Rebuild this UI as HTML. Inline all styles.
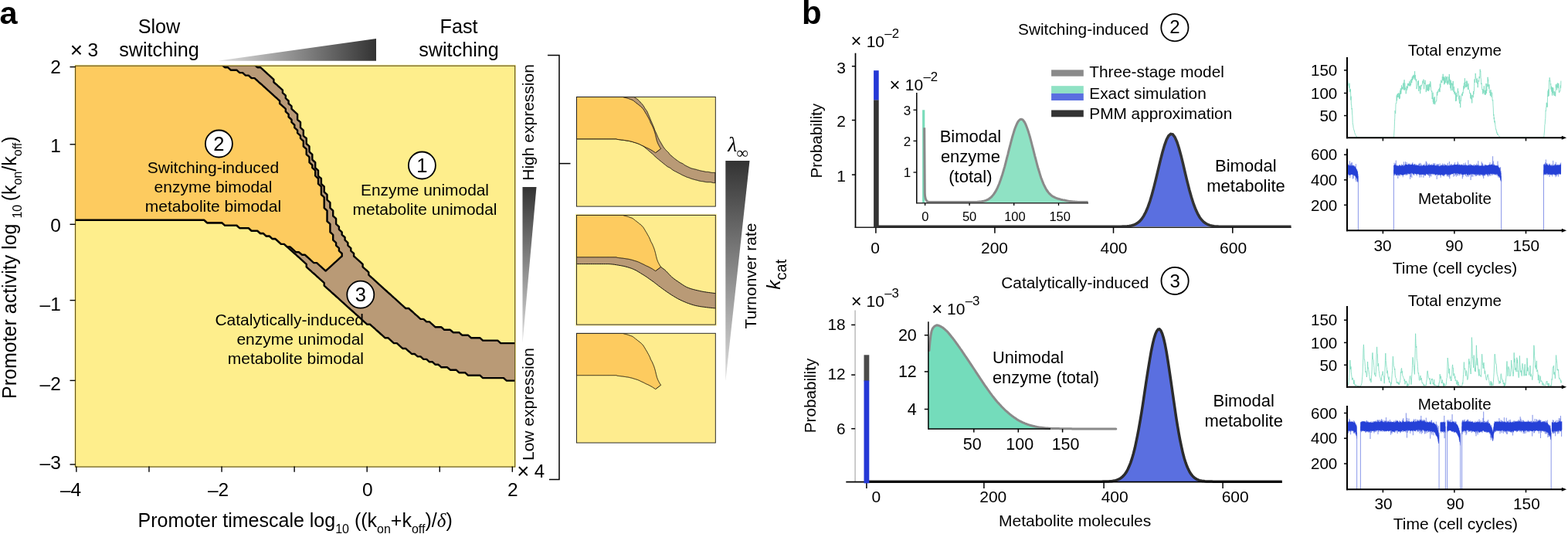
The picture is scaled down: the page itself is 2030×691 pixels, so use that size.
<!DOCTYPE html>
<html lang="en"><head><meta charset="utf-8"><title>Figure</title>
<style>html,body{margin:0;padding:0;background:#fff;}body{width:2030px;height:691px;overflow:hidden;}svg{display:block;}</style>
</head><body>
<svg width="2030" height="691" viewBox="0 0 2030 691" font-family='"Liberation Sans", sans-serif' fill="#000">
<defs><clipPath id="cpA"><rect x="97.6" y="85.2" width="569.1" height="518.9"/></clipPath></defs>
<rect x="96.39999999999999" y="83.8" width="571.6" height="521.1" fill="#fff2a0"/>
<rect x="97.6" y="85.2" width="569.1" height="518.9" fill="#feee8c"/>
<g clip-path="url(#cpA)">
<path d="M698.1,492.6 L694.3,492.6 L690.4,492.6 L686.6,492.6 L682.7,492.6 L678.9,492.6 L675.1,492.6 L671.2,492.6 L667.4,492.6 L663.5,492.6 L659.7,492.6 L655.9,492.6 L653.9,490.9 L652.0,489.1 L648.2,489.1 L644.3,489.1 L640.5,489.1 L636.7,489.1 L632.8,489.1 L629.0,489.1 L625.1,489.1 L623.2,487.4 L621.3,485.7 L617.5,485.7 L613.6,485.7 L609.8,485.7 L605.9,485.7 L604.0,483.9 L602.1,482.2 L598.3,482.2 L594.4,482.2 L592.5,480.5 L590.6,478.7 L586.7,478.7 L582.9,478.7 L581.0,477.0 L579.1,475.3 L575.2,475.3 L571.4,475.3 L569.5,473.5 L567.5,471.8 L563.7,471.8 L561.8,470.1 L559.9,468.3 L556.0,468.3 L554.1,466.6 L552.2,464.9 L548.3,464.9 L546.4,463.2 L544.5,461.4 L540.7,461.4 L538.7,459.7 L536.8,458.0 L533.0,458.0 L531.1,456.2 L529.1,454.5 L527.2,452.8 L525.3,451.0 L521.5,451.0 L519.5,449.3 L517.6,447.6 L515.7,445.8 L513.8,444.1 L509.9,444.1 L508.0,442.4 L506.1,440.6 L504.2,438.9 L502.3,437.2 L498.4,437.2 L496.5,435.4 L494.6,433.7 L492.7,432.0 L490.7,430.2 L488.8,428.5 L486.9,426.8 L485.0,425.0 L483.1,423.3 L481.1,421.6 L479.2,419.8 L475.4,419.8 L473.5,418.1 L471.5,416.4 L469.6,414.6 L467.7,412.9 L465.8,411.2 L463.9,409.4 L461.9,407.7 L460.0,406.0 L458.1,404.2 L456.2,402.5 L454.3,400.8 L452.3,399.0 L450.4,397.3 L448.5,395.6 L446.6,393.9 L444.7,392.1 L442.7,390.4 L440.8,388.7 L438.9,386.9 L437.0,385.2 L435.1,383.5 L433.1,381.7 L431.2,380.0 L429.3,378.3 L427.4,376.5 L425.5,374.8 L423.5,373.1 L421.6,371.3 L419.7,369.6 L419.7,366.1 L417.8,364.4 L415.9,362.7 L413.9,360.9 L412.0,359.2 L410.1,357.5 L408.2,355.7 L406.3,354.0 L404.3,352.3 L402.4,350.5 L400.5,348.8 L398.6,347.1 L396.7,345.3 L396.7,341.9 L394.7,340.1 L392.8,338.4 L390.9,336.7 L389.0,334.9 L387.1,333.2 L385.1,331.5 L383.2,329.7 L381.3,328.0 L379.4,326.3 L377.5,324.6 L375.5,322.8 L373.6,321.1 L371.7,319.4 L369.8,317.6 L367.9,315.9 L364.0,315.9 L362.1,314.2 L360.2,312.4 L358.3,310.7 L356.3,309.0 L352.5,309.0 L350.6,307.2 L348.7,305.5 L344.8,305.5 L342.9,303.8 L341.0,302.0 L337.1,302.0 L335.2,300.3 L333.3,298.6 L329.5,298.6 L325.6,298.6 L323.7,296.8 L321.8,295.1 L317.9,295.1 L314.1,295.1 L310.3,295.1 L308.3,293.4 L306.4,291.6 L302.6,291.6 L298.7,291.6 L294.9,291.6 L291.1,291.6 L289.1,289.9 L287.2,288.2 L283.4,288.2 L279.5,288.2 L275.7,288.2 L271.9,288.2 L268.0,288.2 L266.1,286.4 L264.2,284.7 L260.3,284.7 L256.5,284.7 L252.7,284.7 L248.8,284.7 L245.0,284.7 L241.1,284.7 L237.3,284.7 L233.5,284.7 L229.6,284.7 L225.8,284.7 L221.9,284.7 L218.1,284.7 L214.3,284.7 L210.4,284.7 L206.6,284.7 L202.7,284.7 L198.9,284.7 L195.1,284.7 L191.2,284.7 L187.4,284.7 L183.5,284.7 L179.7,284.7 L175.9,284.7 L172.0,284.7 L168.2,284.7 L164.3,284.7 L160.5,284.7 L156.7,284.7 L152.8,284.7 L149.0,284.7 L145.1,284.7 L141.3,284.7 L137.5,284.7 L133.6,284.7 L129.8,284.7 L125.9,284.7 L122.1,284.7 L118.3,284.7 L114.4,284.7 L110.6,284.7 L106.7,284.7 L102.9,284.7 L99.1,284.7 L95.2,284.7 L91.4,284.7 L87.5,284.7 L83.7,284.7 L79.9,284.7 L76.0,284.7 L72.2,284.7 L70.3,283.0 L70.3,279.5 L70.3,276.0 L70.3,272.6 L70.3,269.1 L70.3,265.6 L70.3,262.2 L70.3,258.7 L70.3,255.3 L70.3,251.8 L70.3,248.3 L70.3,244.9 L70.3,241.4 L70.3,237.9 L70.3,234.5 L70.3,231.0 L70.3,227.5 L70.3,224.1 L70.3,220.6 L70.3,217.1 L70.3,213.7 L70.3,210.2 L70.3,206.7 L70.3,203.3 L70.3,199.8 L70.3,196.3 L70.3,192.9 L70.3,189.4 L70.3,186.0 L70.3,182.5 L70.3,179.0 L70.3,175.6 L70.3,172.1 L70.3,168.6 L70.3,165.2 L70.3,161.7 L70.3,158.2 L70.3,154.8 L70.3,151.3 L70.3,147.8 L70.3,144.4 L70.3,140.9 L70.3,137.4 L70.3,134.0 L70.3,130.5 L70.3,127.0 L70.3,123.6 L70.3,120.1 L70.3,116.7 L70.3,113.2 L70.3,109.7 L70.3,106.3 L70.3,102.8 L70.3,99.3 L70.3,95.9 L70.3,92.4 L70.3,88.9 L70.3,85.5 L70.3,82.0 L70.3,78.5 L70.3,75.1 L70.3,71.6 L72.2,69.9 L76.0,69.9 L79.9,69.9 L83.7,69.9 L87.5,69.9 L91.4,69.9 L95.2,69.9 L99.1,69.9 L102.9,69.9 L106.7,69.9 L110.6,69.9 L114.4,69.9 L118.3,69.9 L122.1,69.9 L125.9,69.9 L129.8,69.9 L133.6,69.9 L137.5,69.9 L141.3,69.9 L145.1,69.9 L149.0,69.9 L152.8,69.9 L156.7,69.9 L160.5,69.9 L164.3,69.9 L168.2,69.9 L172.0,69.9 L175.9,69.9 L179.7,69.9 L183.5,69.9 L187.4,69.9 L191.2,69.9 L195.1,69.9 L198.9,69.9 L202.7,69.9 L206.6,69.9 L210.4,69.9 L214.3,69.9 L218.1,69.9 L221.9,69.9 L225.8,69.9 L229.6,69.9 L233.5,69.9 L237.3,69.9 L241.1,69.9 L245.0,69.9 L248.8,69.9 L252.7,69.9 L256.5,69.9 L260.3,69.9 L264.2,69.9 L268.0,69.9 L271.9,69.9 L275.7,69.9 L279.5,69.9 L283.4,69.9 L287.2,69.9 L291.1,69.9 L294.9,69.9 L298.7,69.9 L302.6,69.9 L306.4,69.9 L310.3,69.9 L314.1,69.9 L317.9,69.9 L319.9,71.6 L321.8,73.3 L323.7,75.1 L323.7,78.5 L325.6,80.3 L327.5,82.0 L329.5,83.7 L331.4,85.5 L333.3,87.2 L337.1,87.2 L339.1,88.9 L341.0,90.7 L342.9,92.4 L344.8,94.1 L346.7,95.9 L348.7,97.6 L350.6,99.3 L352.5,101.1 L354.4,102.8 L354.4,106.3 L356.3,108.0 L358.3,109.7 L360.2,111.5 L362.1,113.2 L364.0,114.9 L365.9,116.7 L365.9,120.1 L367.9,121.8 L369.8,123.6 L369.8,127.0 L371.7,128.8 L373.6,130.5 L373.6,134.0 L375.5,135.7 L377.5,137.4 L377.5,140.9 L379.4,142.6 L381.3,144.4 L383.2,146.1 L385.1,147.8 L385.1,151.3 L385.1,154.8 L387.1,156.5 L389.0,158.2 L389.0,161.7 L389.0,165.2 L390.9,166.9 L392.8,168.6 L392.8,172.1 L392.8,175.6 L394.7,177.3 L396.7,179.0 L396.7,182.5 L396.7,186.0 L398.6,187.7 L400.5,189.4 L400.5,192.9 L400.5,196.3 L402.4,198.1 L404.3,199.8 L404.3,203.3 L404.3,206.7 L406.3,208.5 L408.2,210.2 L408.2,213.7 L408.2,217.1 L410.1,218.9 L412.0,220.6 L412.0,224.1 L412.0,227.5 L413.9,229.3 L415.9,231.0 L415.9,234.5 L415.9,237.9 L417.8,239.7 L419.7,241.4 L419.7,244.9 L419.7,248.3 L421.6,250.1 L423.5,251.8 L423.5,255.3 L423.5,258.7 L425.5,260.4 L427.4,262.2 L427.4,265.6 L427.4,269.1 L429.3,270.8 L431.2,272.6 L431.2,276.0 L431.2,279.5 L433.1,281.2 L435.1,283.0 L435.1,286.4 L435.1,289.9 L437.0,291.6 L438.9,293.4 L438.9,296.8 L440.8,298.6 L442.7,300.3 L442.7,303.8 L444.7,305.5 L446.6,307.2 L446.6,310.7 L448.5,312.4 L450.4,314.2 L450.4,317.6 L452.3,319.4 L454.3,321.1 L454.3,324.6 L456.2,326.3 L458.1,328.0 L458.1,331.5 L460.0,333.2 L461.9,334.9 L463.9,336.7 L465.8,338.4 L467.7,340.1 L469.6,341.9 L469.6,345.3 L471.5,347.1 L473.5,348.8 L475.4,350.5 L477.3,352.3 L477.3,355.7 L479.2,357.5 L481.1,359.2 L483.1,360.9 L485.0,362.7 L486.9,364.4 L488.8,366.1 L490.7,367.9 L492.7,369.6 L494.6,371.3 L496.5,373.1 L498.4,374.8 L500.3,376.5 L502.3,378.3 L504.2,380.0 L506.1,381.7 L508.0,383.5 L509.9,385.2 L511.9,386.9 L513.8,388.7 L515.7,390.4 L517.6,392.1 L519.5,393.9 L521.5,395.6 L523.4,397.3 L525.3,399.0 L529.1,399.0 L531.1,400.8 L533.0,402.5 L534.9,404.2 L536.8,406.0 L538.7,407.7 L540.7,409.4 L542.6,411.2 L544.5,412.9 L548.3,412.9 L550.3,414.6 L552.2,416.4 L556.0,416.4 L557.9,418.1 L559.9,419.8 L561.8,421.6 L563.7,423.3 L567.5,423.3 L571.4,423.3 L573.3,425.0 L575.2,426.8 L579.1,426.8 L582.9,426.8 L584.8,428.5 L586.7,430.2 L590.6,430.2 L594.4,430.2 L596.3,432.0 L598.3,433.7 L602.1,433.7 L605.9,433.7 L607.9,435.4 L609.8,437.2 L613.6,437.2 L617.5,437.2 L621.3,437.2 L623.2,438.9 L625.1,440.6 L629.0,440.6 L632.8,440.6 L636.7,440.6 L640.5,440.6 L644.3,440.6 L646.3,442.4 L648.2,444.1 L652.0,444.1 L655.9,444.1 L659.7,444.1 L663.5,444.1 L667.4,444.1 L671.2,444.1 L675.1,444.1 L678.9,444.1 L682.7,444.1 L686.6,444.1 L690.4,444.1 L694.3,444.1 L698.1,444.1 L700.0,445.8 L700.0,449.3 L700.0,452.8 L700.0,456.2 L700.0,459.7 L700.0,463.2 L700.0,466.6 L700.0,470.1 L700.0,473.5 L700.0,477.0 L700.0,480.5 L700.0,483.9 L700.0,487.4 L700.0,490.9 L698.1,492.6Z " fill="#b99a76" stroke="#000" stroke-width="2.4" stroke-linejoin="round"/>
<path d="M421.6,350.5 L419.7,348.8 L417.8,347.1 L415.9,345.3 L413.9,343.6 L412.0,341.9 L410.1,340.1 L406.3,340.1 L404.3,338.4 L402.4,336.7 L400.5,334.9 L398.6,333.2 L396.7,331.5 L394.7,329.7 L390.9,329.7 L389.0,328.0 L387.1,326.3 L383.2,326.3 L381.3,324.6 L379.4,322.8 L377.5,321.1 L375.5,319.4 L371.7,319.4 L369.8,317.6 L367.9,315.9 L364.0,315.9 L362.1,314.2 L360.2,312.4 L358.3,310.7 L356.3,309.0 L352.5,309.0 L350.6,307.2 L348.7,305.5 L344.8,305.5 L342.9,303.8 L341.0,302.0 L337.1,302.0 L335.2,300.3 L333.3,298.6 L329.5,298.6 L325.6,298.6 L323.7,296.8 L321.8,295.1 L317.9,295.1 L314.1,295.1 L310.3,295.1 L308.3,293.4 L306.4,291.6 L302.6,291.6 L298.7,291.6 L294.9,291.6 L291.1,291.6 L289.1,289.9 L287.2,288.2 L283.4,288.2 L279.5,288.2 L275.7,288.2 L271.9,288.2 L268.0,288.2 L266.1,286.4 L264.2,284.7 L260.3,284.7 L256.5,284.7 L252.7,284.7 L248.8,284.7 L245.0,284.7 L241.1,284.7 L237.3,284.7 L233.5,284.7 L229.6,284.7 L225.8,284.7 L221.9,284.7 L218.1,284.7 L214.3,284.7 L210.4,284.7 L206.6,284.7 L202.7,284.7 L198.9,284.7 L195.1,284.7 L191.2,284.7 L187.4,284.7 L183.5,284.7 L179.7,284.7 L175.9,284.7 L172.0,284.7 L168.2,284.7 L164.3,284.7 L160.5,284.7 L156.7,284.7 L152.8,284.7 L149.0,284.7 L145.1,284.7 L141.3,284.7 L137.5,284.7 L133.6,284.7 L129.8,284.7 L125.9,284.7 L122.1,284.7 L118.3,284.7 L114.4,284.7 L110.6,284.7 L106.7,284.7 L102.9,284.7 L99.1,284.7 L95.2,284.7 L91.4,284.7 L87.5,284.7 L83.7,284.7 L79.9,284.7 L76.0,284.7 L72.2,284.7 L70.3,283.0 L70.3,279.5 L70.3,276.0 L70.3,272.6 L70.3,269.1 L70.3,265.6 L70.3,262.2 L70.3,258.7 L70.3,255.3 L70.3,251.8 L70.3,248.3 L70.3,244.9 L70.3,241.4 L70.3,237.9 L70.3,234.5 L70.3,231.0 L70.3,227.5 L70.3,224.1 L70.3,220.6 L70.3,217.1 L70.3,213.7 L70.3,210.2 L70.3,206.7 L70.3,203.3 L70.3,199.8 L70.3,196.3 L70.3,192.9 L70.3,189.4 L70.3,186.0 L70.3,182.5 L70.3,179.0 L70.3,175.6 L70.3,172.1 L70.3,168.6 L70.3,165.2 L70.3,161.7 L70.3,158.2 L70.3,154.8 L70.3,151.3 L70.3,147.8 L70.3,144.4 L70.3,140.9 L70.3,137.4 L70.3,134.0 L70.3,130.5 L70.3,127.0 L70.3,123.6 L70.3,120.1 L70.3,116.7 L70.3,113.2 L70.3,109.7 L70.3,106.3 L70.3,102.8 L70.3,99.3 L70.3,95.9 L70.3,92.4 L70.3,88.9 L70.3,85.5 L70.3,82.0 L70.3,78.5 L70.3,75.1 L70.3,71.6 L72.2,69.9 L76.0,69.9 L79.9,69.9 L83.7,69.9 L87.5,69.9 L91.4,69.9 L95.2,69.9 L99.1,69.9 L102.9,69.9 L106.7,69.9 L110.6,69.9 L114.4,69.9 L118.3,69.9 L122.1,69.9 L125.9,69.9 L129.8,69.9 L133.6,69.9 L137.5,69.9 L141.3,69.9 L145.1,69.9 L149.0,69.9 L152.8,69.9 L156.7,69.9 L160.5,69.9 L164.3,69.9 L168.2,69.9 L172.0,69.9 L175.9,69.9 L179.7,69.9 L183.5,69.9 L187.4,69.9 L191.2,69.9 L195.1,69.9 L198.9,69.9 L202.7,69.9 L206.6,69.9 L210.4,69.9 L214.3,69.9 L218.1,69.9 L221.9,69.9 L225.8,69.9 L229.6,69.9 L233.5,69.9 L237.3,69.9 L241.1,69.9 L245.0,69.9 L248.8,69.9 L252.7,69.9 L256.5,69.9 L258.4,71.6 L260.3,73.3 L264.2,73.3 L266.1,75.1 L268.0,76.8 L271.9,76.8 L273.8,78.5 L275.7,80.3 L279.5,80.3 L281.5,82.0 L283.4,83.7 L287.2,83.7 L289.1,85.5 L291.1,87.2 L294.9,87.2 L296.8,88.9 L298.7,90.7 L302.6,90.7 L306.4,90.7 L308.3,92.4 L310.3,94.1 L314.1,94.1 L316.0,95.9 L317.9,97.6 L321.8,97.6 L323.7,99.3 L325.6,101.1 L329.5,101.1 L331.4,102.8 L333.3,104.5 L335.2,106.3 L337.1,108.0 L339.1,109.7 L341.0,111.5 L342.9,113.2 L344.8,114.9 L346.7,116.7 L348.7,118.4 L350.6,120.1 L352.5,121.8 L354.4,123.6 L356.3,125.3 L358.3,127.0 L360.2,128.8 L362.1,130.5 L362.1,134.0 L364.0,135.7 L365.9,137.4 L367.9,139.2 L369.8,140.9 L369.8,144.4 L371.7,146.1 L373.6,147.8 L373.6,151.3 L375.5,153.0 L377.5,154.8 L377.5,158.2 L379.4,160.0 L381.3,161.7 L381.3,165.2 L383.2,166.9 L385.1,168.6 L385.1,172.1 L387.1,173.8 L389.0,175.6 L389.0,179.0 L390.9,180.8 L392.8,182.5 L392.8,186.0 L392.8,189.4 L394.7,191.1 L396.7,192.9 L396.7,196.3 L396.7,199.8 L398.6,201.5 L400.5,203.3 L400.5,206.7 L400.5,210.2 L402.4,211.9 L404.3,213.7 L404.3,217.1 L406.3,218.9 L408.2,220.6 L408.2,224.1 L408.2,227.5 L410.1,229.3 L412.0,231.0 L412.0,234.5 L412.0,237.9 L413.9,239.7 L415.9,241.4 L415.9,244.9 L415.9,248.3 L415.9,251.8 L417.8,253.5 L419.7,255.3 L419.7,258.7 L419.7,262.2 L419.7,265.6 L419.7,269.1 L421.6,270.8 L423.5,272.6 L423.5,276.0 L423.5,279.5 L423.5,283.0 L423.5,286.4 L425.5,288.2 L427.4,289.9 L427.4,293.4 L427.4,296.8 L427.4,300.3 L429.3,302.0 L431.2,303.8 L431.2,307.2 L431.2,310.7 L433.1,312.4 L435.1,314.2 L435.1,317.6 L437.0,319.4 L438.9,321.1 L438.9,324.6 L440.8,326.3 L442.7,328.0 L442.7,331.5 L440.8,333.2 L438.9,334.9 L437.0,336.7 L435.1,338.4 L433.1,340.1 L431.2,341.9 L429.3,343.6 L427.4,345.3 L425.5,347.1 L423.5,348.8 L421.6,350.5Z " fill="#fdcb5f" stroke="#000" stroke-width="2.4" stroke-linejoin="round"/>
</g>
<rect x="97.6" y="85.2" width="569.1" height="518.9" fill="none" stroke="#5a4c18" stroke-width="1.1"/>
<line x1="90.5" y1="86.6" x2="97.6" y2="86.6" stroke="#000" stroke-width="1.4"/>
<text x="78.8" y="95" font-size="24.5" text-anchor="end">2</text>
<line x1="90.5" y1="186.8" x2="97.6" y2="186.8" stroke="#000" stroke-width="1.4"/>
<text x="78.8" y="197.1" font-size="24.5" text-anchor="end">1</text>
<line x1="90.5" y1="290.3" x2="97.6" y2="290.3" stroke="#000" stroke-width="1.4"/>
<text x="78.8" y="300.1" font-size="24.5" text-anchor="end">0</text>
<line x1="90.5" y1="388.6" x2="97.6" y2="388.6" stroke="#000" stroke-width="1.4"/>
<text x="78.8" y="402.1" font-size="24.5" text-anchor="end">–1</text>
<line x1="90.5" y1="492.4" x2="97.6" y2="492.4" stroke="#000" stroke-width="1.4"/>
<text x="78.8" y="504.8" font-size="24.5" text-anchor="end">–2</text>
<line x1="90.5" y1="601" x2="97.6" y2="601" stroke="#000" stroke-width="1.4"/>
<text x="78.8" y="607.3" font-size="24.5" text-anchor="end">–3</text>
<line x1="98.9" y1="603.6" x2="98.9" y2="610.8" stroke="#000" stroke-width="1.4"/>
<line x1="192.97" y1="603.6" x2="192.97" y2="610.8" stroke="#000" stroke-width="1.4"/>
<line x1="287.03999999999996" y1="603.6" x2="287.03999999999996" y2="610.8" stroke="#000" stroke-width="1.4"/>
<line x1="381.11" y1="603.6" x2="381.11" y2="610.8" stroke="#000" stroke-width="1.4"/>
<line x1="475.17999999999995" y1="603.6" x2="475.17999999999995" y2="610.8" stroke="#000" stroke-width="1.4"/>
<line x1="569.25" y1="603.6" x2="569.25" y2="610.8" stroke="#000" stroke-width="1.4"/>
<line x1="663.3199999999999" y1="603.6" x2="663.3199999999999" y2="610.8" stroke="#000" stroke-width="1.4"/>
<text x="91.6" y="642.1" font-size="24.5" text-anchor="middle">–4</text>
<text x="282.6" y="642.1" font-size="24.5" text-anchor="middle">–2</text>
<text x="475.9" y="642.1" font-size="24.5" text-anchor="middle">0</text>
<text x="663.7" y="642.1" font-size="24.5" text-anchor="middle">2</text>
<text x="90.8" y="73" font-size="24.5"><tspan font-size="28" dy="0.8">×</tspan><tspan dy="-0.8" dx="-0.5"> 3</tspan></text>
<text x="669.3" y="617.9" font-size="24"><tspan font-size="27.5" dy="0.8">×</tspan><tspan dy="-0.8" dx="-0.3"> 4</tspan></text>
<text x="206" y="42.5" font-size="25.2" text-anchor="middle">Slow</text>
<text x="206" y="72.7" font-size="25.2" text-anchor="middle">switching</text>
<text x="594" y="42.5" font-size="25.2" text-anchor="middle">Fast</text>
<text x="594" y="72.7" font-size="25.2" text-anchor="middle">switching</text>
<text x="-0.5" y="31" font-size="41.5" text-anchor="start" font-weight="bold">a</text>
<defs><linearGradient id="g1" x1="0" x2="1" y1="0" y2="0"><stop offset="0" stop-color="#e2e2e2"/><stop offset="1" stop-color="#333"/></linearGradient><linearGradient id="g2" x1="0" x2="0" y1="0" y2="1"><stop offset="0" stop-color="#333"/><stop offset="1" stop-color="#dedede"/></linearGradient></defs>
<polygon points="282,78.8 487,49.9 487,78.8" fill="url(#g1)"/>
<polygon points="676.5,242 694.5,242 676.5,444" fill="url(#g2)"/>
<polygon points="939.3,208 970.5,208 939.3,493.5" fill="url(#g2)"/>
<text x="690.7" y="233.7" font-size="21" text-anchor="start" transform="rotate(-90 690.7 233.7)">High expression</text>
<text x="690.7" y="596" font-size="21" text-anchor="start" transform="rotate(-90 690.7 596)">Low expression</text>
<text x="978.8" y="425.4" font-size="21" text-anchor="start" transform="rotate(-90 978.8 425.4)">Turnonver rate</text>
<text x="1009.7" y="374.7" font-size="24.5" transform="rotate(-90 1009.7 374.7)"><tspan font-style="italic">k</tspan><tspan font-size="20" dy="7.9">cat</tspan></text>
<text x="942.2" y="195.8" font-size="27.5" font-family="'Liberation Serif', serif" font-style="italic">λ<tspan font-size="21.6" dy="8.7" dx="-0.5" font-style="normal">∞</tspan></text>
<circle cx="283.4" cy="186" r="17.5" fill="#fff" stroke="#000" stroke-width="1.8"/>
<text x="283.4" y="195.18" font-size="25.5" text-anchor="middle">2</text>
<circle cx="546.4" cy="214" r="17.5" fill="#fff" stroke="#000" stroke-width="1.8"/>
<text x="546.4" y="223.18" font-size="25.5" text-anchor="middle">1</text>
<circle cx="466.8" cy="381.2" r="17.5" fill="#fff" stroke="#000" stroke-width="1.8"/>
<text x="466.8" y="390.38" font-size="25.5" text-anchor="middle">3</text>
<text x="276" y="224.0" font-size="21" text-anchor="middle">Switching-induced</text>
<text x="276" y="249.2" font-size="21" text-anchor="middle">enzyme bimodal</text>
<text x="276" y="274.4" font-size="21" text-anchor="middle">metabolite bimodal</text>
<text x="550" y="253.0" font-size="20.9" text-anchor="middle">Enzyme unimodal</text>
<text x="550" y="278.1" font-size="20.9" text-anchor="middle">metabolite unimodal</text>
<text x="471" y="420.5" font-size="21" text-anchor="end">Catalytically-induced</text>
<text x="471" y="445.7" font-size="21" text-anchor="end">enzyme unimodal</text>
<text x="471" y="470.9" font-size="21" text-anchor="end">metabolite bimodal</text>
<text x="178.5" y="682" font-size="25">Promoter timescale log<tspan font-size="16" dy="7.5">10</tspan><tspan dy="-7.5"> ((k</tspan><tspan font-size="16" dy="7.5">on</tspan><tspan dy="-7.5">+k</tspan><tspan font-size="16" dy="7.5">off</tspan><tspan dy="-7.5">)/</tspan><tspan font-family="'Liberation Serif', serif" font-style="italic">δ</tspan>)</text>
<text x="20.5" y="516" font-size="25" transform="rotate(-90 20.5 516)">Promoter activity log <tspan font-size="16" dy="7.5">10 </tspan><tspan dy="-7.5">(k</tspan><tspan font-size="16" dy="7.5">on</tspan><tspan dy="-7.5">/k</tspan><tspan font-size="16" dy="7.5">off</tspan><tspan dy="-7.5">)</tspan></text>
<polyline points="709,71.5 724,71.5 724,620.4 711,620.4" fill="none" stroke="#000" stroke-width="1.5"/>
<line x1="724" y1="211.6" x2="738.5" y2="211.6" stroke="#000" stroke-width="1.5"/>

<g transform="translate(746.5 125.4)">
<clipPath id="cs1"><rect x="0" y="0" width="179.8" height="141.7"/></clipPath>
<rect x="0" y="0" width="179.8" height="141.7" fill="#feec8e"/>
<g clip-path="url(#cs1)" stroke="#000" stroke-width="0.9" stroke-linejoin="round">
<polygon points="0.0,0.0 73.7,-0.2 74.0,-0.0 74.2,0.1 74.5,0.3 74.7,0.5 75.0,0.6 75.2,0.8 75.5,1.0 75.7,1.1 76.0,1.3 76.2,1.4 76.5,1.6 76.8,1.7 77.0,1.8 77.3,2.0 77.6,2.2 77.8,2.3 78.1,2.5 78.3,2.7 78.5,2.8 78.8,3.0 79.0,3.2 79.2,3.4 79.4,3.6 79.6,3.8 79.8,4.0 80.0,4.2 80.2,4.4 80.4,4.6 80.6,4.8 80.8,5.0 81.0,5.3 81.2,5.5 81.4,5.7 81.6,5.9 81.9,6.1 82.1,6.3 82.3,6.5 82.5,6.7 82.7,6.9 82.8,7.2 83.0,7.4 83.2,7.6 83.4,7.8 83.6,8.0 83.8,8.2 84.0,8.5 84.2,8.7 84.4,8.9 84.6,9.1 84.8,9.3 85.0,9.6 85.1,9.8 85.3,10.0 85.5,10.2 85.7,10.4 85.9,10.7 86.0,10.9 86.2,11.1 86.4,11.4 86.5,11.6 86.7,11.8 86.9,12.1 87.0,12.3 87.2,12.5 87.3,12.8 87.4,13.0 87.6,13.3 87.7,13.5 87.8,13.8 88.0,14.0 88.1,14.3 88.2,14.5 88.4,14.7 88.5,15.0 88.7,15.2 88.8,15.4 89.0,15.7 89.2,15.9 89.4,16.1 89.5,16.4 89.7,16.6 89.9,16.8 90.1,17.0 90.2,17.3 90.4,17.5 90.6,17.7 90.7,18.0 90.9,18.2 91.0,18.4 91.1,18.7 91.3,18.9 91.4,19.2 91.5,19.4 91.6,19.7 91.7,19.9 91.9,20.2 92.0,20.5 92.1,20.7 92.2,21.0 92.3,21.2 92.4,21.5 92.5,21.7 92.6,22.0 92.7,22.3 92.9,22.5 93.0,22.8 93.1,23.0 93.2,23.3 93.3,23.5 93.4,23.8 93.5,24.0 93.6,24.3 93.7,24.6 93.8,24.8 93.9,25.1 94.1,25.3 94.2,25.6 94.3,25.8 94.4,26.1 94.5,26.4 94.6,26.6 94.7,26.9 94.8,27.1 94.9,27.4 95.0,27.6 95.1,27.9 95.2,28.2 95.3,28.4 95.5,28.7 95.6,28.9 95.7,29.2 95.8,29.4 95.9,29.7 96.0,30.0 96.1,30.2 96.2,30.5 96.3,30.7 96.4,31.0 96.5,31.2 96.6,31.5 96.8,31.8 96.9,32.0 97.0,32.3 97.1,32.5 97.2,32.8 97.3,33.0 97.4,33.3 97.5,33.6 97.6,33.8 97.7,34.1 97.8,34.3 97.9,34.6 98.0,34.8 98.2,35.1 98.3,35.4 98.4,35.6 98.5,35.9 98.6,36.1 98.7,36.4 98.8,36.6 98.9,36.9 99.0,37.1 99.1,37.4 99.2,37.7 99.4,37.9 99.5,38.2 99.6,38.4 99.7,38.7 99.8,39.0 99.9,39.2 100.0,39.5 100.1,39.7 100.2,40.0 100.3,40.2 100.4,40.5 100.5,40.8 100.6,41.0 100.7,41.3 100.8,41.6 100.8,41.8 100.9,42.1 101.0,42.3 101.1,42.6 101.2,42.9 101.3,43.1 101.4,43.4 101.5,43.6 101.6,43.9 101.7,44.1 101.9,44.4 102.0,44.7 102.1,44.9 102.2,45.2 102.3,45.4 102.4,45.7 102.6,45.9 102.7,46.2 102.8,46.4 102.9,46.7 103.0,46.9 103.2,47.2 103.3,47.4 103.4,47.7 103.5,47.9 103.6,48.2 103.7,48.5 103.8,48.7 103.9,49.0 104.1,49.2 104.2,49.5 104.3,49.7 104.4,50.0 104.5,50.3 104.6,50.5 104.7,50.8 104.8,51.0 104.9,51.3 105.0,51.5 105.1,51.8 105.2,52.1 105.4,52.3 105.5,52.6 105.6,52.8 105.7,53.1 105.8,53.3 106.0,53.6 106.1,53.8 106.2,54.1 106.3,54.3 106.5,54.6 106.6,54.8 106.7,55.1 106.8,55.3 107.0,55.6 107.1,55.8 107.2,56.1 107.4,56.3 107.5,56.6 107.6,56.8 107.8,57.1 107.9,57.3 108.1,57.5 108.2,57.8 108.4,58.0 108.5,58.3 108.7,58.5 108.8,58.7 109.0,59.0 109.1,59.2 109.3,59.5 109.4,59.7 109.5,60.0 109.7,60.2 109.8,60.4 110.0,60.7 110.1,60.9 110.2,61.2 110.4,61.4 110.5,61.7 110.6,61.9 110.8,62.2 110.9,62.4 111.1,62.7 111.2,62.9 111.4,63.1 111.5,63.4 111.7,63.6 111.8,63.9 112.0,64.1 112.1,64.3 112.3,64.6 112.4,64.8 112.6,65.1 112.7,65.3 112.9,65.5 113.1,65.8 113.2,66.0 113.4,66.2 113.6,66.4 113.8,66.7 113.9,66.9 114.1,67.1 114.3,67.3 114.5,67.6 114.7,67.8 114.9,68.0 115.1,68.2 115.3,68.4 115.5,68.6 115.7,68.8 115.9,69.1 116.1,69.3 116.3,69.5 116.5,69.7 116.7,69.9 116.9,70.1 117.1,70.3 117.3,70.5 117.5,70.7 117.7,70.9 118.0,71.1 118.2,71.3 118.4,71.5 118.6,71.7 118.8,71.9 119.0,72.1 119.2,72.3 119.3,72.6 119.5,72.8 119.7,73.0 119.8,73.2 120.0,73.4 120.2,73.7 120.4,73.9 120.5,74.1 120.7,74.3 120.9,74.5 121.1,74.7 121.2,75.0 121.4,75.2 121.6,75.4 121.9,75.6 122.1,75.7 122.3,75.9 122.5,76.1 122.8,76.3 123.0,76.5 123.2,76.7 123.5,76.9 123.7,77.1 123.9,77.3 124.1,77.4 124.4,77.6 124.6,77.8 124.8,78.0 125.1,78.2 125.3,78.4 125.5,78.6 125.7,78.8 126.0,79.0 126.2,79.2 126.4,79.3 126.7,79.5 126.9,79.7 127.1,79.9 127.3,80.1 127.6,80.3 127.8,80.5 128.0,80.6 128.3,80.8 128.5,81.0 128.8,81.2 129.0,81.4 129.2,81.5 129.5,81.7 129.7,81.9 130.0,82.1 130.2,82.2 130.5,82.4 130.7,82.6 130.9,82.8 131.2,82.9 131.4,83.1 131.7,83.3 131.9,83.5 132.2,83.6 132.4,83.8 132.6,84.0 132.9,84.2 133.1,84.3 133.4,84.5 133.6,84.6 133.9,84.8 134.2,84.9 134.4,85.0 134.7,85.1 135.0,85.3 135.2,85.4 135.5,85.5 135.8,85.6 136.0,85.8 136.3,85.9 136.6,86.0 136.8,86.1 137.1,86.2 137.3,86.4 137.6,86.5 137.8,86.7 138.1,86.9 138.3,87.0 138.6,87.2 138.8,87.4 139.1,87.6 139.3,87.7 139.5,87.9 139.8,88.1 140.0,88.3 140.3,88.4 140.5,88.6 140.8,88.7 141.0,88.9 141.3,89.0 141.6,89.2 141.8,89.3 142.1,89.4 142.4,89.6 142.6,89.7 142.9,89.8 143.2,90.0 143.5,90.1 143.7,90.2 144.0,90.3 144.3,90.5 144.6,90.6 144.8,90.7 145.1,90.9 145.4,91.0 145.6,91.2 145.9,91.3 146.2,91.5 146.4,91.6 146.7,91.7 147.0,91.8 147.3,91.9 147.6,92.0 147.8,92.1 148.1,92.2 148.4,92.4 148.7,92.5 149.0,92.6 149.3,92.6 149.6,92.7 149.9,92.8 150.2,92.9 150.5,93.0 150.8,93.0 151.1,93.1 151.4,93.2 151.7,93.2 152.0,93.3 152.3,93.4 152.6,93.5 152.9,93.5 153.2,93.6 153.5,93.7 153.8,93.7 154.1,93.8 154.4,93.9 154.7,93.9 155.0,94.0 155.3,94.1 155.5,94.2 155.8,94.3 156.1,94.4 156.4,94.5 156.7,94.6 157.0,94.6 157.3,94.7 157.6,94.8 157.9,94.8 158.2,94.9 158.5,95.0 158.8,95.1 159.1,95.2 159.3,95.3 159.6,95.3 159.9,95.4 160.2,95.5 160.5,95.6 160.8,95.6 161.1,95.7 161.4,95.7 161.7,95.8 162.0,95.9 162.3,95.9 162.6,96.0 162.9,96.0 163.2,96.1 163.5,96.1 163.8,96.2 164.1,96.2 164.4,96.3 164.7,96.4 165.0,96.4 165.3,96.5 165.6,96.6 165.8,96.6 166.1,96.7 166.4,96.7 166.7,96.8 167.0,96.9 167.3,96.9 167.6,96.9 167.9,97.0 168.2,97.0 168.6,97.0 168.9,97.0 169.2,97.0 169.5,97.0 169.8,97.0 170.1,97.0 170.4,97.0 170.7,97.1 171.0,97.1 171.3,97.2 171.6,97.3 171.9,97.3 172.2,97.4 172.5,97.5 172.8,97.5 173.1,97.6 173.3,97.7 173.6,97.7 173.9,97.8 174.2,97.9 174.5,97.9 174.8,97.9 175.1,98.0 175.4,98.0 175.7,98.0 176.1,98.0 176.4,98.0 176.7,98.0 177.0,98.0 177.3,98.0 177.6,98.0 178.0,98.0 178.3,98.0 178.6,98.0 178.9,98.0 179.2,98.0 179.5,98.0 179.5,111.2 179.2,111.2 178.9,111.2 178.6,111.2 178.3,111.2 178.0,111.2 177.7,111.2 177.4,111.2 177.1,111.2 176.8,111.1 176.5,111.0 176.2,111.0 175.9,110.9 175.6,110.8 175.3,110.8 175.1,110.7 174.8,110.6 174.5,110.6 174.2,110.5 173.9,110.4 173.6,110.4 173.3,110.3 173.0,110.3 172.7,110.3 172.4,110.3 172.1,110.3 171.8,110.3 171.5,110.3 171.1,110.3 170.8,110.3 170.5,110.3 170.2,110.3 169.9,110.3 169.6,110.3 169.2,110.3 168.9,110.3 168.6,110.3 168.3,110.3 168.0,110.2 167.7,110.2 167.4,110.2 167.1,110.1 166.8,110.1 166.5,110.0 166.2,109.9 165.9,109.9 165.6,109.8 165.3,109.7 165.0,109.7 164.8,109.6 164.5,109.5 164.2,109.5 163.9,109.4 163.6,109.3 163.3,109.3 163.0,109.3 162.7,109.2 162.4,109.2 162.0,109.2 161.7,109.2 161.4,109.2 161.1,109.1 160.8,109.1 160.5,109.0 160.2,108.9 159.9,108.9 159.6,108.8 159.3,108.8 159.0,108.7 158.7,108.6 158.4,108.6 158.1,108.5 157.8,108.4 157.5,108.3 157.3,108.2 157.0,108.1 156.7,108.0 156.4,108.0 156.1,107.9 155.8,107.8 155.5,107.8 155.2,107.7 154.9,107.6 154.6,107.5 154.3,107.5 154.0,107.4 153.7,107.3 153.4,107.2 153.2,107.1 152.9,107.1 152.6,107.0 152.3,106.9 152.0,106.9 151.7,106.8 151.4,106.7 151.1,106.6 150.8,106.5 150.5,106.5 150.2,106.4 149.9,106.3 149.6,106.2 149.3,106.1 149.0,106.0 148.7,106.0 148.4,105.9 148.1,105.7 147.9,105.6 147.6,105.5 147.3,105.4 147.0,105.3 146.7,105.2 146.4,105.0 146.2,104.9 145.9,104.8 145.6,104.7 145.3,104.6 145.0,104.5 144.7,104.4 144.4,104.3 144.1,104.2 143.8,104.1 143.5,104.0 143.3,104.0 143.0,103.9 142.7,103.8 142.4,103.6 142.1,103.5 141.8,103.4 141.6,103.3 141.3,103.2 141.0,103.0 140.7,102.9 140.5,102.7 140.2,102.6 139.9,102.5 139.6,102.4 139.4,102.3 139.1,102.2 138.8,102.0 138.5,101.9 138.3,101.8 138.0,101.7 137.7,101.5 137.4,101.4 137.2,101.3 136.9,101.2 136.6,101.0 136.4,100.9 136.1,100.8 135.9,100.6 135.6,100.5 135.3,100.3 135.1,100.2 134.8,100.0 134.6,99.9 134.3,99.7 134.0,99.6 133.8,99.5 133.5,99.3 133.2,99.2 132.9,99.1 132.7,98.9 132.4,98.8 132.1,98.7 131.9,98.5 131.6,98.4 131.3,98.2 131.1,98.1 130.8,98.0 130.5,97.8 130.2,97.7 130.0,97.5 129.7,97.4 129.5,97.3 129.2,97.1 128.9,97.0 128.6,96.9 128.4,96.7 128.1,96.6 127.8,96.5 127.6,96.3 127.3,96.2 127.0,96.1 126.8,95.9 126.5,95.8 126.3,95.6 126.0,95.5 125.7,95.4 125.5,95.2 125.2,95.1 125.0,94.9 124.7,94.7 124.5,94.6 124.2,94.4 124.0,94.2 123.8,94.0 123.5,93.8 123.3,93.7 123.1,93.5 122.8,93.3 122.6,93.1 122.4,92.9 122.1,92.7 121.9,92.6 121.7,92.4 121.4,92.2 121.2,92.0 120.9,91.9 120.7,91.7 120.4,91.6 120.1,91.5 119.9,91.3 119.6,91.2 119.3,91.1 119.1,90.9 118.8,90.8 118.6,90.7 118.3,90.5 118.0,90.4 117.8,90.3 117.5,90.1 117.3,90.0 117.0,89.8 116.8,89.6 116.6,89.4 116.3,89.2 116.1,89.1 115.9,88.9 115.6,88.7 115.4,88.5 115.2,88.3 114.9,88.1 114.7,87.9 114.5,87.7 114.3,87.6 114.0,87.4 113.8,87.2 113.6,87.0 113.3,86.8 113.1,86.6 112.9,86.4 112.6,86.3 112.4,86.1 112.2,85.9 111.9,85.7 111.7,85.5 111.5,85.3 111.2,85.1 111.0,84.9 110.8,84.8 110.5,84.6 110.3,84.4 110.1,84.2 109.9,84.0 109.6,83.8 109.4,83.6 109.2,83.4 108.9,83.3 108.7,83.1 108.5,82.9 108.3,82.7 108.0,82.5 107.8,82.3 107.6,82.1 107.3,81.9 107.1,81.7 106.9,81.5 106.7,81.4 106.4,81.2 106.2,81.0 106.0,80.8 105.7,80.6 105.5,80.4 105.3,80.2 105.0,80.0 104.8,79.8 104.6,79.7 104.4,79.5 104.1,79.3 103.9,79.1 103.7,78.9 103.4,78.7 103.2,78.5 103.0,78.3 102.8,78.1 102.5,78.0 102.3,77.8 102.1,77.6 101.9,77.4 101.7,77.1 101.5,76.9 101.3,76.7 101.1,76.5 100.9,76.3 100.7,76.1 100.5,75.9 100.3,75.7 100.1,75.5 99.9,75.3 99.7,75.1 99.5,74.9 99.3,74.7 99.0,74.5 98.8,74.3 98.6,74.1 98.4,73.9 98.1,73.7 97.9,73.5 97.7,73.3 97.5,73.2 97.2,73.0 97.0,72.8 96.8,72.6 96.6,72.4 96.3,72.2 96.1,72.0 95.9,71.8 95.6,71.6 95.4,71.4 95.2,71.2 95.0,71.1 94.7,70.9 94.5,70.7 94.3,70.5 94.1,70.3 93.9,70.1 93.6,69.9 93.4,69.7 93.2,69.5 93.0,69.3 92.8,69.1 92.5,68.9 92.3,68.7 92.1,68.5 91.9,68.3 91.7,68.1 91.4,67.9 91.2,67.7 91.0,67.6 90.7,67.4 90.5,67.2 90.3,67.0 90.0,66.8 89.8,66.6 89.6,66.4 89.3,66.3 89.1,66.1 88.9,65.9 88.6,65.7 88.4,65.5 88.2,65.3 87.9,65.1 87.7,65.0 87.5,64.8 87.2,64.6 87.0,64.4 86.8,64.2 86.5,64.1 86.3,63.9 86.0,63.7 85.8,63.5 85.5,63.4 85.3,63.2 85.0,63.0 84.8,62.9 84.8,62.9 84.5,62.8 84.3,62.6 84.0,62.5 83.7,62.4 83.4,62.2 83.1,62.1 82.9,62.0 82.6,61.8 82.3,61.7 82.0,61.6 81.8,61.4 81.5,61.3 81.2,61.2 80.9,61.0 80.7,60.9 80.4,60.8 80.1,60.7 79.8,60.6 79.5,60.4 79.2,60.3 78.9,60.2 78.6,60.1 78.4,60.0 78.1,59.9 77.8,59.8 77.5,59.7 77.2,59.6 76.9,59.5 76.6,59.4 76.3,59.3 76.0,59.2 75.7,59.2 75.4,59.1 75.1,59.0 74.8,58.9 74.5,58.8 74.2,58.7 73.9,58.6 73.6,58.5 73.3,58.4 73.0,58.3 72.7,58.2 72.4,58.1 72.1,58.1 71.8,58.0 71.5,57.9 71.2,57.8 70.9,57.7 70.6,57.7 70.3,57.6 70.0,57.5 69.7,57.4 69.4,57.4 69.1,57.3 68.7,57.2 68.4,57.2 68.1,57.1 67.8,57.0 67.5,57.0 67.2,56.9 66.9,56.9 66.6,56.8 66.3,56.8 66.0,56.7 65.6,56.7 65.3,56.6 65.0,56.6 64.7,56.5 64.4,56.5 64.1,56.4 63.8,56.4 63.5,56.4 63.2,56.3 62.8,56.3 62.5,56.2 62.2,56.1 61.9,56.1 61.6,56.0 61.3,56.0 61.0,55.9 60.7,55.9 60.3,55.9 60.0,55.8 59.7,55.8 59.4,55.7 59.1,55.7 58.8,55.7 58.5,55.6 58.2,55.6 57.8,55.6 57.5,55.5 57.2,55.5 56.9,55.5 56.6,55.4 56.3,55.4 56.0,55.3 55.6,55.3 55.3,55.3 55.0,55.2 54.7,55.2 54.4,55.1 54.1,55.1 53.8,55.1 53.4,55.0 53.1,55.0 52.9,54.9 52.6,54.8 52.3,54.7 52.0,54.6 51.7,54.6 51.4,54.5 51.1,54.4 50.8,54.4 50.5,54.4 50.2,54.4 49.9,54.4 49.6,54.4 49.3,54.4 48.9,54.4 48.6,54.4 48.3,54.4 48.0,54.4 47.7,54.4 47.4,54.4 47.0,54.4 46.7,54.4 46.4,54.4 46.1,54.4 45.8,54.4 45.5,54.4 45.1,54.4 44.8,54.4 44.5,54.4 44.2,54.4 43.9,54.4 43.6,54.4 43.2,54.4 42.9,54.4 42.6,54.4 42.3,54.4 42.0,54.4 41.7,54.4 41.3,54.4 41.0,54.4 40.7,54.4 40.4,54.4 40.1,54.4 39.8,54.4 39.4,54.4 39.1,54.4 38.8,54.4 38.5,54.4 38.2,54.4 37.9,54.4 37.5,54.4 37.2,54.4 36.9,54.4 36.6,54.4 36.3,54.4 36.0,54.4 35.6,54.4 35.3,54.4 35.0,54.4 34.7,54.4 34.4,54.4 34.1,54.4 33.7,54.4 33.4,54.4 33.1,54.4 32.8,54.4 32.5,54.4 32.1,54.4 31.8,54.4 31.5,54.4 31.2,54.4 30.9,54.4 30.6,54.4 30.2,54.4 29.9,54.4 29.6,54.4 29.3,54.4 29.0,54.4 28.7,54.4 28.3,54.4 28.0,54.4 27.7,54.4 27.4,54.4 27.1,54.4 26.8,54.4 26.4,54.4 26.1,54.4 25.8,54.4 25.5,54.4 25.2,54.4 24.9,54.4 24.5,54.4 24.2,54.4 23.9,54.4 23.6,54.4 23.3,54.4 23.0,54.4 22.6,54.4 22.3,54.4 22.0,54.4 21.7,54.4 21.4,54.4 21.1,54.4 20.7,54.4 20.4,54.4 20.1,54.4 19.8,54.4 19.5,54.4 19.2,54.4 18.8,54.4 18.5,54.4 18.2,54.4 17.9,54.4 17.6,54.4 17.3,54.4 16.9,54.4 16.6,54.4 16.3,54.4 16.0,54.4 15.7,54.4 15.4,54.4 15.0,54.4 14.7,54.4 14.4,54.4 14.1,54.4 13.8,54.4 13.5,54.4 13.1,54.4 12.8,54.4 12.5,54.4 12.2,54.4 11.9,54.4 11.6,54.4 11.2,54.4 10.9,54.4 10.6,54.4 10.3,54.4 10.0,54.4 9.7,54.4 9.3,54.4 9.0,54.4 8.7,54.4 8.4,54.4 8.1,54.4 7.8,54.4 7.4,54.4 7.1,54.4 6.8,54.4 6.5,54.4 6.2,54.4 5.9,54.4 5.5,54.4 5.2,54.4 4.9,54.4 4.6,54.4 4.3,54.4 4.0,54.4 3.6,54.4 3.3,54.4 3.0,54.4 2.7,54.4 2.4,54.4 2.1,54.4 1.7,54.4 1.4,54.4 1.1,54.4 0.8,54.4 0.5,54.4 0.2,54.4 -0.2,54.4 -0.5,54.4 -0.8,54.4 -1.1,54.4 -1.4,54.4 -1.7,54.4 -2.1,54.4 -2.4,54.4 -2.7,54.4 -3.0,54.4 -3.3,54.4 -3.6,54.4 -4.0,54.4 -4.3,54.4 -4.6,54.4 -4.9,54.4 -5.2,54.4 -5.6,54.4 -5.9,54.4 -6.2,54.4 -6.5,54.4 -6.8,54.4 -7.1,54.4 -7.5,54.4 -7.8,54.4 -8.1,54.4 -8.4,54.4 -8.7,54.4" fill="#b99a76"/>
<polygon points="0.0,0.0 59.4,-0.2 59.6,-0.1 59.9,0.0 60.2,0.1 60.5,0.3 60.8,0.4 61.1,0.5 61.4,0.6 61.7,0.7 62.0,0.8 62.3,0.8 62.6,0.9 62.9,1.0 63.2,1.1 63.5,1.2 63.8,1.2 64.1,1.3 64.4,1.4 64.7,1.4 65.0,1.5 65.3,1.6 65.6,1.7 65.9,1.8 66.2,1.8 66.5,1.9 66.8,2.0 67.1,2.1 67.4,2.2 67.7,2.4 68.0,2.5 68.3,2.6 68.6,2.7 68.9,2.8 69.2,2.9 69.5,3.0 69.7,3.1 70.0,3.2 70.3,3.3 70.6,3.4 70.9,3.5 71.2,3.6 71.5,3.8 71.8,3.9 72.1,4.0 72.3,4.1 72.6,4.3 72.9,4.4 73.1,4.6 73.4,4.8 73.6,4.9 73.8,5.1 74.1,5.3 74.3,5.5 74.5,5.7 74.8,5.9 75.0,6.1 75.2,6.2 75.5,6.4 75.7,6.6 75.9,6.8 76.2,7.0 76.4,7.2 76.6,7.3 76.9,7.5 77.1,7.7 77.3,7.9 77.6,8.1 77.8,8.3 78.0,8.5 78.3,8.6 78.5,8.8 78.7,9.0 79.0,9.2 79.2,9.4 79.4,9.6 79.7,9.7 79.9,9.9 80.1,10.1 80.4,10.3 80.6,10.5 80.8,10.7 81.1,10.9 81.3,11.0 81.5,11.2 81.8,11.4 82.0,11.6 82.3,11.8 82.5,12.0 82.7,12.2 83.0,12.3 83.2,12.5 83.4,12.7 83.6,12.9 83.8,13.1 84.0,13.3 84.2,13.5 84.4,13.8 84.6,14.0 84.8,14.2 85.0,14.4 85.2,14.6 85.5,14.8 85.7,15.0 85.9,15.2 86.0,15.4 86.2,15.7 86.4,15.9 86.5,16.2 86.7,16.4 86.8,16.6 87.0,16.9 87.1,17.1 87.3,17.4 87.4,17.6 87.6,17.8 87.7,18.1 87.9,18.3 88.0,18.6 88.2,18.8 88.3,19.1 88.4,19.3 88.6,19.5 88.7,19.8 88.9,20.0 89.0,20.3 89.1,20.5 89.3,20.8 89.4,21.0 89.6,21.3 89.7,21.5 89.9,21.7 90.0,22.0 90.2,22.2 90.3,22.5 90.5,22.7 90.7,22.9 90.8,23.2 91.0,23.4 91.1,23.7 91.2,23.9 91.3,24.2 91.5,24.4 91.6,24.7 91.7,24.9 91.9,25.2 92.0,25.4 92.1,25.7 92.3,25.9 92.4,26.2 92.5,26.4 92.7,26.7 92.8,26.9 93.0,27.1 93.1,27.4 93.2,27.6 93.4,27.9 93.5,28.1 93.6,28.4 93.8,28.6 93.9,28.9 94.0,29.1 94.1,29.4 94.3,29.6 94.4,29.9 94.5,30.1 94.6,30.4 94.7,30.7 94.9,30.9 95.0,31.2 95.1,31.4 95.2,31.7 95.3,31.9 95.4,32.2 95.4,32.5 95.5,32.7 95.6,33.0 95.7,33.3 95.8,33.5 96.0,33.8 96.1,34.0 96.2,34.3 96.4,34.5 96.5,34.8 96.6,35.0 96.8,35.3 96.9,35.5 97.0,35.7 97.2,36.0 97.3,36.2 97.4,36.5 97.6,36.7 97.7,37.0 97.8,37.2 97.9,37.5 98.1,37.7 98.2,38.0 98.3,38.3 98.4,38.5 98.5,38.8 98.6,39.0 98.7,39.3 98.8,39.5 98.9,39.8 99.0,40.1 99.2,40.3 99.3,40.6 99.4,40.8 99.5,41.1 99.6,41.4 99.7,41.6 99.8,41.9 99.9,42.1 100.0,42.4 100.1,42.7 100.2,42.9 100.3,43.2 100.4,43.4 100.5,43.7 100.6,44.0 100.6,44.2 100.7,44.5 100.8,44.8 100.9,45.0 101.0,45.3 101.1,45.5 101.1,45.8 101.2,46.1 101.3,46.3 101.4,46.6 101.5,46.9 101.5,47.1 101.6,47.4 101.7,47.7 101.8,47.9 101.8,48.2 101.9,48.5 102.0,48.7 102.0,49.0 102.1,49.3 102.1,49.5 102.2,49.8 102.3,50.1 102.3,50.3 102.4,50.6 102.5,50.9 102.5,51.2 102.6,51.4 102.6,51.7 102.7,52.0 102.8,52.2 102.8,52.5 102.9,52.8 103.0,53.0 103.0,53.3 103.1,53.6 103.2,53.8 103.2,54.1 103.3,54.4 103.4,54.6 103.5,54.9 103.5,55.2 103.6,55.4 103.7,55.7 103.7,56.0 103.8,56.2 103.9,56.5 104.0,56.8 104.0,57.0 104.1,57.3 104.2,57.6 104.3,57.8 104.4,58.1 104.5,58.3 104.6,58.6 104.7,58.9 104.8,59.1 104.9,59.4 105.0,59.6 105.1,59.9 105.2,60.2 105.3,60.4 105.4,60.7 105.5,60.9 105.7,61.2 105.8,61.4 105.9,61.7 106.0,61.9 106.2,62.2 106.3,62.4 106.4,62.7 106.6,62.9 106.7,63.2 106.8,63.4 107.0,63.7 107.1,63.9 107.3,64.2 107.4,64.4 107.6,64.7 107.7,64.9 107.8,65.1 108.0,65.4 108.2,65.6 108.3,65.9 108.5,66.1 108.6,66.3 108.8,66.6 108.9,66.8 109.1,67.0 102.2,72.3 102.2,72.3 102.0,72.1 101.7,72.0 101.5,71.8 101.2,71.6 101.0,71.5 100.7,71.3 100.5,71.1 100.2,71.0 100.0,70.8 99.7,70.6 99.5,70.5 99.2,70.3 99.0,70.1 98.7,70.0 98.5,69.8 98.2,69.6 97.9,69.5 97.7,69.3 97.4,69.2 97.1,69.0 96.9,68.9 96.6,68.7 96.3,68.6 96.1,68.4 95.8,68.3 95.5,68.1 95.3,68.0 95.0,67.9 94.7,67.7 94.5,67.6 94.2,67.4 93.9,67.3 93.6,67.1 93.4,67.0 93.1,66.9 92.8,66.7 92.5,66.6 92.3,66.5 92.0,66.3 91.7,66.2 91.4,66.1 91.1,66.0 90.9,65.8 90.6,65.7 90.3,65.6 90.0,65.5 89.7,65.3 89.4,65.2 89.2,65.1 88.9,64.9 88.6,64.8 88.4,64.7 88.1,64.5 87.8,64.3 87.6,64.2 87.3,64.0 87.0,63.9 86.7,63.8 86.5,63.6 86.2,63.5 85.9,63.4 85.6,63.3 85.3,63.1 85.1,63.0 84.8,62.9 84.5,62.7 84.2,62.6 83.9,62.5 83.7,62.4 83.4,62.2 83.1,62.1 82.8,62.0 82.6,61.8 82.3,61.7 82.0,61.5 81.7,61.4 81.5,61.3 81.2,61.1 80.9,61.0 80.6,60.9 80.3,60.8 80.0,60.7 79.8,60.5 79.5,60.4 79.2,60.3 78.9,60.2 78.6,60.1 78.3,60.0 78.0,59.9 77.7,59.8 77.4,59.7 77.1,59.6 76.8,59.5 76.5,59.4 76.2,59.3 75.9,59.2 75.6,59.2 75.3,59.1 75.0,59.0 74.7,58.9 74.4,58.8 74.1,58.7 73.8,58.6 73.5,58.5 73.2,58.4 72.9,58.3 72.6,58.2 72.3,58.1 72.0,58.0 71.7,58.0 71.4,57.9 71.1,57.8 70.8,57.7 70.5,57.6 70.2,57.6 69.9,57.5 69.6,57.4 69.3,57.4 69.0,57.3 68.7,57.2 68.4,57.1 68.1,57.1 67.8,57.0 67.5,57.0 67.1,56.9 66.8,56.8 66.5,56.8 66.2,56.7 65.9,56.7 65.6,56.7 65.3,56.6 65.0,56.6 64.6,56.5 64.3,56.5 64.0,56.4 63.7,56.4 63.4,56.3 63.1,56.3 62.8,56.2 62.5,56.2 62.1,56.1 61.8,56.1 61.5,56.0 61.2,56.0 60.9,55.9 60.6,55.9 60.3,55.8 60.0,55.8 59.6,55.8 59.3,55.7 59.0,55.7 58.7,55.7 58.4,55.6 58.1,55.6 57.8,55.6 57.4,55.5 57.1,55.5 56.8,55.4 56.5,55.4 56.2,55.4 55.9,55.3 55.6,55.3 55.2,55.3 54.9,55.2 54.6,55.2 54.3,55.1 54.0,55.1 53.7,55.1 53.4,55.0 53.0,55.0 52.7,54.9 52.4,54.8 52.2,54.7 51.9,54.6 51.6,54.5 51.4,54.4 51.1,54.4 50.7,54.4 50.4,54.4 50.1,54.4 49.8,54.4 49.5,54.4 49.2,54.4 48.8,54.4 48.5,54.4 48.2,54.4 47.9,54.4 47.6,54.4 47.3,54.4 46.9,54.4 46.6,54.4 46.3,54.4 46.0,54.4 45.7,54.4 45.3,54.4 45.0,54.4 44.7,54.4 44.4,54.4 44.1,54.4 43.8,54.4 43.4,54.4 43.1,54.4 42.8,54.4 42.5,54.4 42.2,54.4 41.9,54.4 41.5,54.4 41.2,54.4 40.9,54.4 40.6,54.4 40.3,54.4 40.0,54.4 39.6,54.4 39.3,54.4 39.0,54.4 38.7,54.4 38.4,54.4 38.0,54.4 37.7,54.4 37.4,54.4 37.1,54.4 36.8,54.4 36.5,54.4 36.1,54.4 35.8,54.4 35.5,54.4 35.2,54.4 34.9,54.4 34.6,54.4 34.2,54.4 33.9,54.4 33.6,54.4 33.3,54.4 33.0,54.4 32.7,54.4 32.3,54.4 32.0,54.4 31.7,54.4 31.4,54.4 31.1,54.4 30.8,54.4 30.4,54.4 30.1,54.4 29.8,54.4 29.5,54.4 29.2,54.4 28.8,54.4 28.5,54.4 28.2,54.4 27.9,54.4 27.6,54.4 27.3,54.4 26.9,54.4 26.6,54.4 26.3,54.4 26.0,54.4 25.7,54.4 25.4,54.4 25.0,54.4 24.7,54.4 24.4,54.4 24.1,54.4 23.8,54.4 23.5,54.4 23.1,54.4 22.8,54.4 22.5,54.4 22.2,54.4 21.9,54.4 21.5,54.4 21.2,54.4 20.9,54.4 20.6,54.4 20.3,54.4 20.0,54.4 19.6,54.4 19.3,54.4 19.0,54.4 18.7,54.4 18.4,54.4 18.1,54.4 17.7,54.4 17.4,54.4 17.1,54.4 16.8,54.4 16.5,54.4 16.2,54.4 15.8,54.4 15.5,54.4 15.2,54.4 14.9,54.4 14.6,54.4 14.2,54.4 13.9,54.4 13.6,54.4 13.3,54.4 13.0,54.4 12.7,54.4 12.3,54.4 12.0,54.4 11.7,54.4 11.4,54.4 11.1,54.4 10.8,54.4 10.4,54.4 10.1,54.4 9.8,54.4 9.5,54.4 9.2,54.4 8.9,54.4 8.5,54.4 8.2,54.4 7.9,54.4 7.6,54.4 7.3,54.4 7.0,54.4 6.6,54.4 6.3,54.4 6.0,54.4 5.7,54.4 5.4,54.4 5.0,54.4 4.7,54.4 4.4,54.4 4.1,54.4 3.8,54.4 3.5,54.4 3.1,54.4 2.8,54.4 2.5,54.4 2.2,54.4 1.9,54.4 1.6,54.4 1.2,54.4 0.9,54.4 0.6,54.4 0.3,54.4 -0.0,54.4" fill="#fdcb5f"/>
</g>
<rect x="0" y="0" width="179.8" height="141.7" fill="none" stroke="#1a1a1a" stroke-width="0.9"/>
</g>
<rect x="744.9" y="276.79999999999995" width="183.0" height="144.89999999999998" fill="#fff3a6"/>
<g transform="translate(746.5 278.4)">
<clipPath id="cs2"><rect x="0" y="0" width="179.8" height="141.7"/></clipPath>
<rect x="0" y="0" width="179.8" height="141.7" fill="#feec8e"/>
<g clip-path="url(#cs2)" stroke="#000" stroke-width="0.9" stroke-linejoin="round">
<polygon points="-2.0,50.0 -0.5,50.0 1.1,50.0 2.6,50.0 4.2,50.0 5.7,50.0 7.3,50.0 8.8,50.0 10.4,50.0 11.9,50.0 13.5,50.0 15.0,50.0 16.6,50.0 18.1,50.0 19.6,50.0 21.2,50.0 22.7,50.0 24.3,50.0 25.8,50.0 27.4,50.0 28.9,50.0 30.5,50.0 32.0,50.0 33.6,50.0 35.1,50.0 36.7,50.0 38.2,50.0 39.7,50.0 41.3,50.0 42.8,50.0 44.4,50.0 45.9,50.0 47.5,50.0 49.0,50.0 50.6,50.0 52.1,50.0 53.7,50.0 55.2,50.0 56.8,50.0 58.3,50.0 59.8,50.0 61.4,50.0 62.9,50.0 64.5,50.0 66.0,50.0 67.6,50.0 69.1,50.0 70.7,50.0 72.2,50.0 73.8,50.0 75.3,50.0 76.9,50.0 78.4,50.0 79.9,50.0 81.5,50.1 83.0,50.4 84.6,50.8 86.1,51.4 87.7,52.1 89.2,53.0 90.8,53.9 92.3,54.9 93.9,55.9 95.4,56.9 97.0,58.0 98.5,59.0 100.1,60.0 101.6,61.1 103.1,62.3 104.7,63.6 106.2,64.9 107.8,66.1 109.3,67.2 110.9,68.4 112.4,69.5 114.0,70.7 115.5,72.1 117.1,73.7 118.6,75.3 120.2,77.0 121.7,78.6 123.2,80.0 124.8,81.3 126.3,82.5 127.9,83.7 129.4,84.8 131.0,85.8 132.5,86.9 134.1,87.9 135.6,89.0 137.2,90.0 138.7,91.0 140.3,92.0 141.8,92.8 143.3,93.5 144.9,94.1 146.4,94.7 148.0,95.2 149.5,95.7 151.1,96.1 152.6,96.5 154.2,96.9 155.7,97.2 157.3,97.6 158.8,97.9 160.4,98.3 161.9,98.6 163.4,98.9 165.0,99.2 166.5,99.4 168.1,99.7 169.6,99.9 171.2,100.1 172.7,100.3 174.3,100.5 175.8,100.7 177.4,100.9 178.9,101.1 180.5,101.3 182.0,101.4 182.0,120.6 180.5,120.5 178.9,120.4 177.4,120.3 175.8,120.1 174.3,120.0 172.7,119.8 171.2,119.7 169.6,119.5 168.1,119.3 166.5,119.1 165.0,118.9 163.4,118.7 161.9,118.5 160.4,118.3 158.8,118.0 157.3,117.7 155.7,117.4 154.2,117.1 152.6,116.7 151.1,116.3 149.5,115.8 148.0,115.3 146.4,114.8 144.9,114.2 143.3,113.7 141.8,113.1 140.3,112.4 138.7,111.8 137.2,111.1 135.6,110.4 134.1,109.6 132.5,108.9 131.0,108.1 129.4,107.2 127.9,106.3 126.3,105.4 124.8,104.4 123.2,103.5 121.7,102.5 120.2,101.5 118.6,100.4 117.1,99.4 115.5,98.3 114.0,97.2 112.4,96.1 110.9,95.0 109.3,93.8 107.8,92.7 106.2,91.5 104.7,90.3 103.1,89.1 101.6,87.9 100.1,86.7 98.5,85.6 97.0,84.5 95.4,83.4 93.9,82.3 92.3,81.2 90.8,80.1 89.2,79.1 87.7,78.1 86.1,77.1 84.6,76.2 83.0,75.2 81.5,74.2 79.9,73.3 78.4,72.4 76.9,71.5 75.3,70.8 73.8,70.0 72.2,69.4 70.7,68.8 69.1,68.3 67.6,67.8 66.0,67.3 64.5,66.9 62.9,66.5 61.4,66.1 59.8,65.8 58.3,65.5 56.8,65.2 55.2,65.0 53.7,64.7 52.1,64.4 50.6,64.2 49.0,63.9 47.5,63.7 45.9,63.6 44.4,63.4 42.8,63.3 41.3,63.2 39.7,63.2 38.2,63.2 36.7,63.2 35.1,63.2 33.6,63.2 32.0,63.2 30.5,63.2 28.9,63.2 27.4,63.2 25.8,63.2 24.3,63.2 22.7,63.2 21.2,63.2 19.6,63.2 18.1,63.2 16.6,63.2 15.0,63.2 13.5,63.2 11.9,63.2 10.4,63.2 8.8,63.2 7.3,63.2 5.7,63.2 4.2,63.2 2.6,63.2 1.1,63.2 -0.5,63.2 -2.0,63.2" fill="#b99a76"/>
<polygon points="0.0,0.0 59.4,-0.2 59.6,-0.1 59.9,0.0 60.2,0.1 60.5,0.3 60.8,0.4 61.1,0.5 61.4,0.6 61.7,0.7 62.0,0.8 62.3,0.8 62.6,0.9 62.9,1.0 63.2,1.1 63.5,1.2 63.8,1.2 64.1,1.3 64.4,1.4 64.7,1.4 65.0,1.5 65.3,1.6 65.6,1.7 65.9,1.8 66.2,1.8 66.5,1.9 66.8,2.0 67.1,2.1 67.4,2.2 67.7,2.4 68.0,2.5 68.3,2.6 68.6,2.7 68.9,2.8 69.2,2.9 69.5,3.0 69.7,3.1 70.0,3.2 70.3,3.3 70.6,3.4 70.9,3.5 71.2,3.6 71.5,3.8 71.8,3.9 72.1,4.0 72.3,4.1 72.6,4.3 72.9,4.4 73.1,4.6 73.4,4.8 73.6,4.9 73.8,5.1 74.1,5.3 74.3,5.5 74.5,5.7 74.8,5.9 75.0,6.1 75.2,6.2 75.5,6.4 75.7,6.6 75.9,6.8 76.2,7.0 76.4,7.2 76.6,7.3 76.9,7.5 77.1,7.7 77.3,7.9 77.6,8.1 77.8,8.3 78.0,8.5 78.3,8.6 78.5,8.8 78.7,9.0 79.0,9.2 79.2,9.4 79.4,9.6 79.7,9.7 79.9,9.9 80.1,10.1 80.4,10.3 80.6,10.5 80.8,10.7 81.1,10.9 81.3,11.0 81.5,11.2 81.8,11.4 82.0,11.6 82.3,11.8 82.5,12.0 82.7,12.2 83.0,12.3 83.2,12.5 83.4,12.7 83.6,12.9 83.8,13.1 84.0,13.3 84.2,13.5 84.4,13.8 84.6,14.0 84.8,14.2 85.0,14.4 85.2,14.6 85.5,14.8 85.7,15.0 85.9,15.2 86.0,15.4 86.2,15.7 86.4,15.9 86.5,16.2 86.7,16.4 86.8,16.6 87.0,16.9 87.1,17.1 87.3,17.4 87.4,17.6 87.6,17.8 87.7,18.1 87.9,18.3 88.0,18.6 88.2,18.8 88.3,19.1 88.4,19.3 88.6,19.5 88.7,19.8 88.9,20.0 89.0,20.3 89.1,20.5 89.3,20.8 89.4,21.0 89.6,21.3 89.7,21.5 89.9,21.7 90.0,22.0 90.2,22.2 90.3,22.5 90.5,22.7 90.7,22.9 90.8,23.2 91.0,23.4 91.1,23.7 91.2,23.9 91.3,24.2 91.5,24.4 91.6,24.7 91.7,24.9 91.9,25.2 92.0,25.4 92.1,25.7 92.3,25.9 92.4,26.2 92.5,26.4 92.7,26.7 92.8,26.9 93.0,27.1 93.1,27.4 93.2,27.6 93.4,27.9 93.5,28.1 93.6,28.4 93.8,28.6 93.9,28.9 94.0,29.1 94.1,29.4 94.3,29.6 94.4,29.9 94.5,30.1 94.6,30.4 94.7,30.7 94.9,30.9 95.0,31.2 95.1,31.4 95.2,31.7 95.3,31.9 95.4,32.2 95.4,32.5 95.5,32.7 95.6,33.0 95.7,33.3 95.8,33.5 96.0,33.8 96.1,34.0 96.2,34.3 96.4,34.5 96.5,34.8 96.6,35.0 96.8,35.3 96.9,35.5 97.0,35.7 97.2,36.0 97.3,36.2 97.4,36.5 97.6,36.7 97.7,37.0 97.8,37.2 97.9,37.5 98.1,37.7 98.2,38.0 98.3,38.3 98.4,38.5 98.5,38.8 98.6,39.0 98.7,39.3 98.8,39.5 98.9,39.8 99.0,40.1 99.2,40.3 99.3,40.6 99.4,40.8 99.5,41.1 99.6,41.4 99.7,41.6 99.8,41.9 99.9,42.1 100.0,42.4 100.1,42.7 100.2,42.9 100.3,43.2 100.4,43.4 100.5,43.7 100.6,44.0 100.6,44.2 100.7,44.5 100.8,44.8 100.9,45.0 101.0,45.3 101.1,45.5 101.1,45.8 101.2,46.1 101.3,46.3 101.4,46.6 101.5,46.9 101.5,47.1 101.6,47.4 101.7,47.7 101.8,47.9 101.8,48.2 101.9,48.5 102.0,48.7 102.0,49.0 102.1,49.3 102.1,49.5 102.2,49.8 102.3,50.1 102.3,50.3 102.4,50.6 102.5,50.9 102.5,51.2 102.6,51.4 102.6,51.7 102.7,52.0 102.8,52.2 102.8,52.5 102.9,52.8 103.0,53.0 103.0,53.3 103.1,53.6 103.2,53.8 103.2,54.1 103.3,54.4 103.4,54.6 103.5,54.9 103.5,55.2 103.6,55.4 103.7,55.7 103.7,56.0 103.8,56.2 103.9,56.5 104.0,56.8 104.0,57.0 104.1,57.3 104.2,57.6 104.3,57.8 104.4,58.1 104.5,58.3 104.6,58.6 104.7,58.9 104.8,59.1 104.9,59.4 105.0,59.6 105.1,59.9 105.2,60.2 105.3,60.4 105.4,60.7 105.5,60.9 105.7,61.2 105.8,61.4 105.9,61.7 106.0,61.9 106.2,62.2 106.3,62.4 106.4,62.7 106.6,62.9 106.7,63.2 106.8,63.4 107.0,63.7 107.1,63.9 107.3,64.2 107.4,64.4 107.6,64.7 107.7,64.9 107.8,65.1 108.0,65.4 108.2,65.6 108.3,65.9 108.5,66.1 108.6,66.3 108.8,66.6 108.9,66.8 109.1,67.0 102.2,72.3 102.2,72.3 102.0,72.1 101.7,72.0 101.5,71.8 101.2,71.6 101.0,71.5 100.7,71.3 100.5,71.1 100.2,71.0 100.0,70.8 99.7,70.6 99.5,70.5 99.2,70.3 99.0,70.1 98.7,70.0 98.5,69.8 98.2,69.6 97.9,69.5 97.7,69.3 97.4,69.2 97.1,69.0 96.9,68.9 96.6,68.7 96.3,68.6 96.1,68.4 95.8,68.3 95.5,68.1 95.3,68.0 95.0,67.9 94.7,67.7 94.5,67.6 94.2,67.4 93.9,67.3 93.6,67.1 93.4,67.0 93.1,66.9 92.8,66.7 92.5,66.6 92.3,66.5 92.0,66.3 91.7,66.2 91.4,66.1 91.1,66.0 90.9,65.8 90.6,65.7 90.3,65.6 90.0,65.5 89.7,65.3 89.4,65.2 89.2,65.1 88.9,64.9 88.6,64.8 88.4,64.7 88.1,64.5 87.8,64.3 87.6,64.2 87.3,64.0 87.0,63.9 86.7,63.8 86.5,63.6 86.2,63.5 85.9,63.4 85.6,63.3 85.3,63.1 85.1,63.0 84.8,62.9 84.5,62.7 84.2,62.6 83.9,62.5 83.7,62.4 83.4,62.2 83.1,62.1 82.8,62.0 82.6,61.8 82.3,61.7 82.0,61.5 81.7,61.4 81.5,61.3 81.2,61.1 80.9,61.0 80.6,60.9 80.3,60.8 80.0,60.7 79.8,60.5 79.5,60.4 79.2,60.3 78.9,60.2 78.6,60.1 78.3,60.0 78.0,59.9 77.7,59.8 77.4,59.7 77.1,59.6 76.8,59.5 76.5,59.4 76.2,59.3 75.9,59.2 75.6,59.2 75.3,59.1 75.0,59.0 74.7,58.9 74.4,58.8 74.1,58.7 73.8,58.6 73.5,58.5 73.2,58.4 72.9,58.3 72.6,58.2 72.3,58.1 72.0,58.0 71.7,58.0 71.4,57.9 71.1,57.8 70.8,57.7 70.5,57.6 70.2,57.6 69.9,57.5 69.6,57.4 69.3,57.4 69.0,57.3 68.7,57.2 68.4,57.1 68.1,57.1 67.8,57.0 67.5,57.0 67.1,56.9 66.8,56.8 66.5,56.8 66.2,56.7 65.9,56.7 65.6,56.7 65.3,56.6 65.0,56.6 64.6,56.5 64.3,56.5 64.0,56.4 63.7,56.4 63.4,56.3 63.1,56.3 62.8,56.2 62.5,56.2 62.1,56.1 61.8,56.1 61.5,56.0 61.2,56.0 60.9,55.9 60.6,55.9 60.3,55.8 60.0,55.8 59.6,55.8 59.3,55.7 59.0,55.7 58.7,55.7 58.4,55.6 58.1,55.6 57.8,55.6 57.4,55.5 57.1,55.5 56.8,55.4 56.5,55.4 56.2,55.4 55.9,55.3 55.6,55.3 55.2,55.3 54.9,55.2 54.6,55.2 54.3,55.1 54.0,55.1 53.7,55.1 53.4,55.0 53.0,55.0 52.7,54.9 52.4,54.8 52.2,54.7 51.9,54.6 51.6,54.5 51.4,54.4 51.1,54.4 50.7,54.4 50.4,54.4 50.1,54.4 49.8,54.4 49.5,54.4 49.2,54.4 48.8,54.4 48.5,54.4 48.2,54.4 47.9,54.4 47.6,54.4 47.3,54.4 46.9,54.4 46.6,54.4 46.3,54.4 46.0,54.4 45.7,54.4 45.3,54.4 45.0,54.4 44.7,54.4 44.4,54.4 44.1,54.4 43.8,54.4 43.4,54.4 43.1,54.4 42.8,54.4 42.5,54.4 42.2,54.4 41.9,54.4 41.5,54.4 41.2,54.4 40.9,54.4 40.6,54.4 40.3,54.4 40.0,54.4 39.6,54.4 39.3,54.4 39.0,54.4 38.7,54.4 38.4,54.4 38.0,54.4 37.7,54.4 37.4,54.4 37.1,54.4 36.8,54.4 36.5,54.4 36.1,54.4 35.8,54.4 35.5,54.4 35.2,54.4 34.9,54.4 34.6,54.4 34.2,54.4 33.9,54.4 33.6,54.4 33.3,54.4 33.0,54.4 32.7,54.4 32.3,54.4 32.0,54.4 31.7,54.4 31.4,54.4 31.1,54.4 30.8,54.4 30.4,54.4 30.1,54.4 29.8,54.4 29.5,54.4 29.2,54.4 28.8,54.4 28.5,54.4 28.2,54.4 27.9,54.4 27.6,54.4 27.3,54.4 26.9,54.4 26.6,54.4 26.3,54.4 26.0,54.4 25.7,54.4 25.4,54.4 25.0,54.4 24.7,54.4 24.4,54.4 24.1,54.4 23.8,54.4 23.5,54.4 23.1,54.4 22.8,54.4 22.5,54.4 22.2,54.4 21.9,54.4 21.5,54.4 21.2,54.4 20.9,54.4 20.6,54.4 20.3,54.4 20.0,54.4 19.6,54.4 19.3,54.4 19.0,54.4 18.7,54.4 18.4,54.4 18.1,54.4 17.7,54.4 17.4,54.4 17.1,54.4 16.8,54.4 16.5,54.4 16.2,54.4 15.8,54.4 15.5,54.4 15.2,54.4 14.9,54.4 14.6,54.4 14.2,54.4 13.9,54.4 13.6,54.4 13.3,54.4 13.0,54.4 12.7,54.4 12.3,54.4 12.0,54.4 11.7,54.4 11.4,54.4 11.1,54.4 10.8,54.4 10.4,54.4 10.1,54.4 9.8,54.4 9.5,54.4 9.2,54.4 8.9,54.4 8.5,54.4 8.2,54.4 7.9,54.4 7.6,54.4 7.3,54.4 7.0,54.4 6.6,54.4 6.3,54.4 6.0,54.4 5.7,54.4 5.4,54.4 5.0,54.4 4.7,54.4 4.4,54.4 4.1,54.4 3.8,54.4 3.5,54.4 3.1,54.4 2.8,54.4 2.5,54.4 2.2,54.4 1.9,54.4 1.6,54.4 1.2,54.4 0.9,54.4 0.6,54.4 0.3,54.4 -0.0,54.4" fill="#fdcb5f"/>
</g>
<rect x="0" y="0" width="179.8" height="141.7" fill="none" stroke="#1a1a1a" stroke-width="0.9"/>
</g>

<g transform="translate(746.5 431.3)">
<clipPath id="cs3"><rect x="0" y="0" width="179.8" height="141.7"/></clipPath>
<rect x="0" y="0" width="179.8" height="141.7" fill="#feec8e"/>
<g clip-path="url(#cs3)" stroke="#000" stroke-width="0.9" stroke-linejoin="round">
<polygon points="0.0,0.0 59.4,-0.2 59.6,-0.1 59.9,0.0 60.2,0.1 60.5,0.3 60.8,0.4 61.1,0.5 61.4,0.6 61.7,0.7 62.0,0.8 62.3,0.8 62.6,0.9 62.9,1.0 63.2,1.1 63.5,1.2 63.8,1.2 64.1,1.3 64.4,1.4 64.7,1.4 65.0,1.5 65.3,1.6 65.6,1.7 65.9,1.8 66.2,1.8 66.5,1.9 66.8,2.0 67.1,2.1 67.4,2.2 67.7,2.4 68.0,2.5 68.3,2.6 68.6,2.7 68.9,2.8 69.2,2.9 69.5,3.0 69.7,3.1 70.0,3.2 70.3,3.3 70.6,3.4 70.9,3.5 71.2,3.6 71.5,3.8 71.8,3.9 72.1,4.0 72.3,4.1 72.6,4.3 72.9,4.4 73.1,4.6 73.4,4.8 73.6,4.9 73.8,5.1 74.1,5.3 74.3,5.5 74.5,5.7 74.8,5.9 75.0,6.1 75.2,6.2 75.5,6.4 75.7,6.6 75.9,6.8 76.2,7.0 76.4,7.2 76.6,7.3 76.9,7.5 77.1,7.7 77.3,7.9 77.6,8.1 77.8,8.3 78.0,8.5 78.3,8.6 78.5,8.8 78.7,9.0 79.0,9.2 79.2,9.4 79.4,9.6 79.7,9.7 79.9,9.9 80.1,10.1 80.4,10.3 80.6,10.5 80.8,10.7 81.1,10.9 81.3,11.0 81.5,11.2 81.8,11.4 82.0,11.6 82.3,11.8 82.5,12.0 82.7,12.2 83.0,12.3 83.2,12.5 83.4,12.7 83.6,12.9 83.8,13.1 84.0,13.3 84.2,13.5 84.4,13.8 84.6,14.0 84.8,14.2 85.0,14.4 85.2,14.6 85.5,14.8 85.7,15.0 85.9,15.2 86.0,15.4 86.2,15.7 86.4,15.9 86.5,16.2 86.7,16.4 86.8,16.6 87.0,16.9 87.1,17.1 87.3,17.4 87.4,17.6 87.6,17.8 87.7,18.1 87.9,18.3 88.0,18.6 88.2,18.8 88.3,19.1 88.4,19.3 88.6,19.5 88.7,19.8 88.9,20.0 89.0,20.3 89.1,20.5 89.3,20.8 89.4,21.0 89.6,21.3 89.7,21.5 89.9,21.7 90.0,22.0 90.2,22.2 90.3,22.5 90.5,22.7 90.7,22.9 90.8,23.2 91.0,23.4 91.1,23.7 91.2,23.9 91.3,24.2 91.5,24.4 91.6,24.7 91.7,24.9 91.9,25.2 92.0,25.4 92.1,25.7 92.3,25.9 92.4,26.2 92.5,26.4 92.7,26.7 92.8,26.9 93.0,27.1 93.1,27.4 93.2,27.6 93.4,27.9 93.5,28.1 93.6,28.4 93.8,28.6 93.9,28.9 94.0,29.1 94.1,29.4 94.3,29.6 94.4,29.9 94.5,30.1 94.6,30.4 94.7,30.7 94.9,30.9 95.0,31.2 95.1,31.4 95.2,31.7 95.3,31.9 95.4,32.2 95.4,32.5 95.5,32.7 95.6,33.0 95.7,33.3 95.8,33.5 96.0,33.8 96.1,34.0 96.2,34.3 96.4,34.5 96.5,34.8 96.6,35.0 96.8,35.3 96.9,35.5 97.0,35.7 97.2,36.0 97.3,36.2 97.4,36.5 97.6,36.7 97.7,37.0 97.8,37.2 97.9,37.5 98.1,37.7 98.2,38.0 98.3,38.3 98.4,38.5 98.5,38.8 98.6,39.0 98.7,39.3 98.8,39.5 98.9,39.8 99.0,40.1 99.2,40.3 99.3,40.6 99.4,40.8 99.5,41.1 99.6,41.4 99.7,41.6 99.8,41.9 99.9,42.1 100.0,42.4 100.1,42.7 100.2,42.9 100.3,43.2 100.4,43.4 100.5,43.7 100.6,44.0 100.6,44.2 100.7,44.5 100.8,44.8 100.9,45.0 101.0,45.3 101.1,45.5 101.1,45.8 101.2,46.1 101.3,46.3 101.4,46.6 101.5,46.9 101.5,47.1 101.6,47.4 101.7,47.7 101.8,47.9 101.8,48.2 101.9,48.5 102.0,48.7 102.0,49.0 102.1,49.3 102.1,49.5 102.2,49.8 102.3,50.1 102.3,50.3 102.4,50.6 102.5,50.9 102.5,51.2 102.6,51.4 102.6,51.7 102.7,52.0 102.8,52.2 102.8,52.5 102.9,52.8 103.0,53.0 103.0,53.3 103.1,53.6 103.2,53.8 103.2,54.1 103.3,54.4 103.4,54.6 103.5,54.9 103.5,55.2 103.6,55.4 103.7,55.7 103.7,56.0 103.8,56.2 103.9,56.5 104.0,56.8 104.0,57.0 104.1,57.3 104.2,57.6 104.3,57.8 104.4,58.1 104.5,58.3 104.6,58.6 104.7,58.9 104.8,59.1 104.9,59.4 105.0,59.6 105.1,59.9 105.2,60.2 105.3,60.4 105.4,60.7 105.5,60.9 105.7,61.2 105.8,61.4 105.9,61.7 106.0,61.9 106.2,62.2 106.3,62.4 106.4,62.7 106.6,62.9 106.7,63.2 106.8,63.4 107.0,63.7 107.1,63.9 107.3,64.2 107.4,64.4 107.6,64.7 107.7,64.9 107.8,65.1 108.0,65.4 108.2,65.6 108.3,65.9 108.5,66.1 108.6,66.3 108.8,66.6 108.9,66.8 109.1,67.0 102.2,72.3 102.2,72.3 102.0,72.1 101.7,72.0 101.5,71.8 101.2,71.6 101.0,71.5 100.7,71.3 100.5,71.1 100.2,71.0 100.0,70.8 99.7,70.6 99.5,70.5 99.2,70.3 99.0,70.1 98.7,70.0 98.5,69.8 98.2,69.6 97.9,69.5 97.7,69.3 97.4,69.2 97.1,69.0 96.9,68.9 96.6,68.7 96.3,68.6 96.1,68.4 95.8,68.3 95.5,68.1 95.3,68.0 95.0,67.9 94.7,67.7 94.5,67.6 94.2,67.4 93.9,67.3 93.6,67.1 93.4,67.0 93.1,66.9 92.8,66.7 92.5,66.6 92.3,66.5 92.0,66.3 91.7,66.2 91.4,66.1 91.1,66.0 90.9,65.8 90.6,65.7 90.3,65.6 90.0,65.5 89.7,65.3 89.4,65.2 89.2,65.1 88.9,64.9 88.6,64.8 88.4,64.7 88.1,64.5 87.8,64.3 87.6,64.2 87.3,64.0 87.0,63.9 86.7,63.8 86.5,63.6 86.2,63.5 85.9,63.4 85.6,63.3 85.3,63.1 85.1,63.0 84.8,62.9 84.5,62.7 84.2,62.6 83.9,62.5 83.7,62.4 83.4,62.2 83.1,62.1 82.8,62.0 82.6,61.8 82.3,61.7 82.0,61.5 81.7,61.4 81.5,61.3 81.2,61.1 80.9,61.0 80.6,60.9 80.3,60.8 80.0,60.7 79.8,60.5 79.5,60.4 79.2,60.3 78.9,60.2 78.6,60.1 78.3,60.0 78.0,59.9 77.7,59.8 77.4,59.7 77.1,59.6 76.8,59.5 76.5,59.4 76.2,59.3 75.9,59.2 75.6,59.2 75.3,59.1 75.0,59.0 74.7,58.9 74.4,58.8 74.1,58.7 73.8,58.6 73.5,58.5 73.2,58.4 72.9,58.3 72.6,58.2 72.3,58.1 72.0,58.0 71.7,58.0 71.4,57.9 71.1,57.8 70.8,57.7 70.5,57.6 70.2,57.6 69.9,57.5 69.6,57.4 69.3,57.4 69.0,57.3 68.7,57.2 68.4,57.1 68.1,57.1 67.8,57.0 67.5,57.0 67.1,56.9 66.8,56.8 66.5,56.8 66.2,56.7 65.9,56.7 65.6,56.7 65.3,56.6 65.0,56.6 64.6,56.5 64.3,56.5 64.0,56.4 63.7,56.4 63.4,56.3 63.1,56.3 62.8,56.2 62.5,56.2 62.1,56.1 61.8,56.1 61.5,56.0 61.2,56.0 60.9,55.9 60.6,55.9 60.3,55.8 60.0,55.8 59.6,55.8 59.3,55.7 59.0,55.7 58.7,55.7 58.4,55.6 58.1,55.6 57.8,55.6 57.4,55.5 57.1,55.5 56.8,55.4 56.5,55.4 56.2,55.4 55.9,55.3 55.6,55.3 55.2,55.3 54.9,55.2 54.6,55.2 54.3,55.1 54.0,55.1 53.7,55.1 53.4,55.0 53.0,55.0 52.7,54.9 52.4,54.8 52.2,54.7 51.9,54.6 51.6,54.5 51.4,54.4 51.1,54.4 50.7,54.4 50.4,54.4 50.1,54.4 49.8,54.4 49.5,54.4 49.2,54.4 48.8,54.4 48.5,54.4 48.2,54.4 47.9,54.4 47.6,54.4 47.3,54.4 46.9,54.4 46.6,54.4 46.3,54.4 46.0,54.4 45.7,54.4 45.3,54.4 45.0,54.4 44.7,54.4 44.4,54.4 44.1,54.4 43.8,54.4 43.4,54.4 43.1,54.4 42.8,54.4 42.5,54.4 42.2,54.4 41.9,54.4 41.5,54.4 41.2,54.4 40.9,54.4 40.6,54.4 40.3,54.4 40.0,54.4 39.6,54.4 39.3,54.4 39.0,54.4 38.7,54.4 38.4,54.4 38.0,54.4 37.7,54.4 37.4,54.4 37.1,54.4 36.8,54.4 36.5,54.4 36.1,54.4 35.8,54.4 35.5,54.4 35.2,54.4 34.9,54.4 34.6,54.4 34.2,54.4 33.9,54.4 33.6,54.4 33.3,54.4 33.0,54.4 32.7,54.4 32.3,54.4 32.0,54.4 31.7,54.4 31.4,54.4 31.1,54.4 30.8,54.4 30.4,54.4 30.1,54.4 29.8,54.4 29.5,54.4 29.2,54.4 28.8,54.4 28.5,54.4 28.2,54.4 27.9,54.4 27.6,54.4 27.3,54.4 26.9,54.4 26.6,54.4 26.3,54.4 26.0,54.4 25.7,54.4 25.4,54.4 25.0,54.4 24.7,54.4 24.4,54.4 24.1,54.4 23.8,54.4 23.5,54.4 23.1,54.4 22.8,54.4 22.5,54.4 22.2,54.4 21.9,54.4 21.5,54.4 21.2,54.4 20.9,54.4 20.6,54.4 20.3,54.4 20.0,54.4 19.6,54.4 19.3,54.4 19.0,54.4 18.7,54.4 18.4,54.4 18.1,54.4 17.7,54.4 17.4,54.4 17.1,54.4 16.8,54.4 16.5,54.4 16.2,54.4 15.8,54.4 15.5,54.4 15.2,54.4 14.9,54.4 14.6,54.4 14.2,54.4 13.9,54.4 13.6,54.4 13.3,54.4 13.0,54.4 12.7,54.4 12.3,54.4 12.0,54.4 11.7,54.4 11.4,54.4 11.1,54.4 10.8,54.4 10.4,54.4 10.1,54.4 9.8,54.4 9.5,54.4 9.2,54.4 8.9,54.4 8.5,54.4 8.2,54.4 7.9,54.4 7.6,54.4 7.3,54.4 7.0,54.4 6.6,54.4 6.3,54.4 6.0,54.4 5.7,54.4 5.4,54.4 5.0,54.4 4.7,54.4 4.4,54.4 4.1,54.4 3.8,54.4 3.5,54.4 3.1,54.4 2.8,54.4 2.5,54.4 2.2,54.4 1.9,54.4 1.6,54.4 1.2,54.4 0.9,54.4 0.6,54.4 0.3,54.4 -0.0,54.4" fill="#fdcb5f"/>
</g>
<rect x="0" y="0" width="179.8" height="141.7" fill="none" stroke="#1a1a1a" stroke-width="0.9"/>
</g>
<text x="1038" y="31" font-size="42" text-anchor="start" font-weight="bold">b</text>
<line x1="1107.5" y1="68.7" x2="1107.5" y2="295" stroke="#000" stroke-width="1.7"/>
<polygon points="1440.0,293.3 1440.4,293.3 1443.1,293.3 1445.8,293.3 1448.4,293.3 1451.1,293.2 1453.8,293.1 1456.5,293.0 1459.2,292.8 1461.9,292.5 1464.6,292.0 1467.2,291.3 1469.9,290.2 1472.6,288.6 1475.3,286.4 1478.0,283.4 1480.7,279.4 1483.4,274.3 1486.1,267.9 1488.8,260.3 1491.4,251.4 1494.1,241.4 1496.8,230.5 1499.5,219.2 1502.2,207.9 1504.9,197.3 1507.6,188.1 1510.2,180.6 1512.9,175.6 1515.6,173.3 1518.3,173.9 1521.0,177.4 1523.7,183.5 1526.4,191.8 1529.1,201.7 1531.8,212.7 1534.4,224.0 1537.1,235.2 1539.8,245.7 1542.5,255.3 1545.2,263.7 1547.9,270.8 1550.6,276.6 1553.2,281.2 1555.9,284.7 1558.6,287.4 1561.3,289.3 1564.0,290.7 1566.7,291.6 1569.4,292.3 1572.1,292.7 1574.8,292.9 1577.4,293.1 1580.1,293.2 1582.8,293.2 1585.5,293.3 1588.2,293.3 1590.9,293.3 1593.6,293.3 1596.2,293.3 1598.9,293.3 1600.0,293.3" fill="#5a6fe0"/>
<polyline points="1134.0,293.3 1136.7,293.3 1139.4,293.3 1142.1,293.3 1144.8,293.3 1147.4,293.3 1150.1,293.3 1152.8,293.3 1155.5,293.3 1158.2,293.3 1160.9,293.3 1163.6,293.3 1166.2,293.3 1168.9,293.3 1171.6,293.3 1174.3,293.3 1177.0,293.3 1179.7,293.3 1182.4,293.3 1185.1,293.3 1187.8,293.3 1190.4,293.3 1193.1,293.3 1195.8,293.3 1198.5,293.3 1201.2,293.3 1203.9,293.3 1206.6,293.3 1209.2,293.3 1211.9,293.3 1214.6,293.3 1217.3,293.3 1220.0,293.3 1222.7,293.3 1225.4,293.3 1228.1,293.3 1230.8,293.3 1233.4,293.3 1236.1,293.3 1238.8,293.3 1241.5,293.3 1244.2,293.3 1246.9,293.3 1249.6,293.3 1252.2,293.3 1254.9,293.3 1257.6,293.3 1260.3,293.3 1263.0,293.3 1265.7,293.3 1268.4,293.3 1271.1,293.3 1273.8,293.3 1276.4,293.3 1279.1,293.3 1281.8,293.3 1284.5,293.3 1287.2,293.3 1289.9,293.3 1292.6,293.3 1295.2,293.3 1297.9,293.3 1300.6,293.3 1303.3,293.3 1306.0,293.3 1308.7,293.3 1311.4,293.3 1314.1,293.3 1316.8,293.3 1319.4,293.3 1322.1,293.3 1324.8,293.3 1327.5,293.3 1330.2,293.3 1332.9,293.3 1335.6,293.3 1338.2,293.3 1340.9,293.3 1343.6,293.3 1346.3,293.3 1349.0,293.3 1351.7,293.3 1354.4,293.3 1357.1,293.3 1359.8,293.3 1362.4,293.3 1365.1,293.3 1367.8,293.3 1370.5,293.3 1373.2,293.3 1375.9,293.3 1378.6,293.3 1381.2,293.3 1383.9,293.3 1386.6,293.3 1389.3,293.3 1392.0,293.3 1394.7,293.3 1397.4,293.3 1400.1,293.3 1402.8,293.3 1405.4,293.3 1408.1,293.3 1410.8,293.3 1413.5,293.3 1416.2,293.3 1418.9,293.3 1421.6,293.3 1424.2,293.3 1426.9,293.3 1429.6,293.3 1432.3,293.3 1435.0,293.3 1437.7,293.3 1440.4,293.3 1443.1,293.3 1445.8,293.3 1448.4,293.3 1451.1,293.2 1453.8,293.1 1456.5,293.0 1459.2,292.8 1461.9,292.5 1464.6,292.0 1467.2,291.3 1469.9,290.2 1472.6,288.6 1475.3,286.4 1478.0,283.4 1480.7,279.4 1483.4,274.3 1486.1,267.9 1488.8,260.3 1491.4,251.4 1494.1,241.4 1496.8,230.5 1499.5,219.2 1502.2,207.9 1504.9,197.3 1507.6,188.1 1510.2,180.6 1512.9,175.6 1515.6,173.3 1518.3,173.9 1521.0,177.4 1523.7,183.5 1526.4,191.8 1529.1,201.7 1531.8,212.7 1534.4,224.0 1537.1,235.2 1539.8,245.7 1542.5,255.3 1545.2,263.7 1547.9,270.8 1550.6,276.6 1553.2,281.2 1555.9,284.7 1558.6,287.4 1561.3,289.3 1564.0,290.7 1566.7,291.6 1569.4,292.3 1572.1,292.7 1574.8,292.9 1577.4,293.1 1580.1,293.2 1582.8,293.2 1585.5,293.3 1588.2,293.3 1590.9,293.3 1593.6,293.3 1596.2,293.3 1598.9,293.3 1601.6,293.3 1604.3,293.3 1607.0,293.3 1609.7,293.3 1612.4,293.3 1615.1,293.3 1617.8,293.3 1620.4,293.3 1623.1,293.3 1625.8,293.3 1628.5,293.3 1631.2,293.3 1633.9,293.3 1636.6,293.3 1639.2,293.3 1641.9,293.3 1644.6,293.3 1647.3,293.3 1650.0,293.3 1652.7,293.3 1655.4,293.3 1658.1,293.3 1660.8,293.3 1663.4,293.3 1666.1,293.3 1668.8,293.3 1671.5,293.3" fill="none" stroke="#333" stroke-width="3.5"/>
<line x1="1106.7" y1="294.2" x2="1671.5" y2="294.2" stroke="#222" stroke-width="1.5"/>
<line x1="1133.9" y1="294" x2="1133.9" y2="301.8" stroke="#000" stroke-width="1.5"/>
<line x1="1287.9" y1="294" x2="1287.9" y2="301.8" stroke="#000" stroke-width="1.5"/>
<line x1="1441.5" y1="294" x2="1441.5" y2="301.8" stroke="#000" stroke-width="1.5"/>
<line x1="1595.8" y1="294" x2="1595.8" y2="301.8" stroke="#000" stroke-width="1.5"/>
<rect x="1131.1" y="91.2" width="6.6" height="38.5" fill="#2438d6"/>
<rect x="1131.1" y="129.5" width="6.6" height="165" fill="#333"/>
<line x1="1102.9" y1="85.7" x2="1107.5" y2="85.7" stroke="#000" stroke-width="1.5"/>
<text x="1095" y="94.6" font-size="21" text-anchor="end">3</text>
<line x1="1102.9" y1="155.5" x2="1107.5" y2="155.5" stroke="#000" stroke-width="1.5"/>
<text x="1095" y="163.8" font-size="21" text-anchor="end">2</text>
<line x1="1102.9" y1="226.1" x2="1107.5" y2="226.1" stroke="#000" stroke-width="1.5"/>
<text x="1095" y="235.3" font-size="21" text-anchor="end">1</text>
<text x="1133.2" y="328" font-size="21" text-anchor="middle">0</text>
<text x="1287.5" y="328" font-size="21" text-anchor="middle">200</text>
<text x="1442" y="328" font-size="21" text-anchor="middle">400</text>
<text x="1596.6" y="328" font-size="21" text-anchor="middle">600</text>
<text x="1101.5" y="61.4" font-size="23.9">×</text>
<text x="1121.7" y="60.8" font-size="21">10<tspan font-size="16.8" dy="-11.9" dx="0.3">–2</tspan></text>
<text x="1064.2" y="230.5" font-size="20.7" text-anchor="start" transform="rotate(-90 1064.2 230.5)">Probability</text>
<text x="1318" y="44.7" font-size="20.85" text-anchor="start">Switching-induced</text>
<circle cx="1520.9" cy="35.7" r="17.6" fill="#fff" stroke="#000" stroke-width="1.8"/>
<text x="1520.9" y="43.3" font-size="24" text-anchor="middle">2</text>
<rect x="1361.1" y="90.4" width="41.7" height="8.3" fill="#8a8a8a"/>
<rect x="1361.1" y="111.2" width="41.7" height="9.7" fill="#8fe2c4"/>
<rect x="1361.1" y="120.9" width="41.7" height="9.1" fill="#5a6fe0"/>
<rect x="1361.1" y="142.5" width="41.7" height="8.8" fill="#333"/>
<text x="1410.3" y="99.6" font-size="20.8" text-anchor="start">Three-stage model</text>
<text x="1410.3" y="128.1" font-size="20.8" text-anchor="start">Exact simulation</text>
<text x="1410.3" y="153.8" font-size="20.8" text-anchor="start">PMM approximation</text>
<text x="1612.8" y="222.3" font-size="22" text-anchor="middle">Bimodal</text>
<text x="1613" y="248.4" font-size="22" text-anchor="middle">metabolite</text>
<polygon points="1260.0,262.3 1260.6,261.5 1261.6,261.5 1262.6,261.4 1263.7,261.4 1264.7,261.4 1265.7,261.3 1266.7,261.2 1267.8,261.1 1268.8,261.0 1269.8,260.9 1270.8,260.8 1271.9,260.6 1272.9,260.4 1273.9,260.1 1275.0,259.8 1276.0,259.5 1277.0,259.1 1278.0,258.6 1279.1,258.1 1280.1,257.5 1281.1,256.8 1282.2,256.0 1283.2,255.1 1284.2,254.1 1285.2,252.9 1286.3,251.6 1287.3,250.2 1288.3,248.6 1289.4,246.8 1290.4,244.9 1291.4,242.8 1292.4,240.5 1293.5,238.0 1294.5,235.3 1295.5,232.5 1296.5,229.4 1297.6,226.2 1298.6,222.8 1299.6,219.3 1300.7,215.6 1301.7,211.8 1302.7,207.9 1303.7,203.9 1304.8,199.8 1305.8,195.7 1306.8,191.7 1307.9,187.6 1308.9,183.7 1309.9,179.8 1310.9,176.1 1312.0,172.6 1313.0,169.3 1314.0,166.3 1315.1,163.5 1316.1,161.1 1317.1,159.0 1318.1,157.2 1319.2,155.9 1320.2,155.0 1321.2,154.4 1322.2,154.3 1323.3,154.6 1324.3,155.3 1325.3,156.5 1326.4,158.0 1327.4,159.9 1328.4,162.2 1329.4,164.8 1330.5,167.7 1331.5,170.8 1332.5,174.2 1333.6,177.8 1334.6,181.6 1335.6,185.5 1336.6,189.5 1337.7,193.5 1338.7,197.5 1339.7,201.6 1340.8,205.6 1341.8,209.5 1342.8,213.3 1343.8,217.0 1344.9,220.5 1345.9,223.9 1346.9,227.1 1347.9,230.2 1349.0,233.0 1350.0,235.7 1351.0,238.1 1352.1,240.4 1353.1,242.4 1354.1,244.3 1355.1,246.0 1356.2,247.5 1357.2,248.9 1358.2,250.1 1359.3,251.2 1360.3,252.1 1361.3,253.0 1362.3,253.7 1363.4,254.4 1364.4,254.9 1365.4,255.4 1366.5,255.9 1367.5,256.3 1368.5,256.7 1369.5,257.0 1370.6,257.3 1371.6,257.6 1372.6,257.9 1373.6,258.2 1374.7,258.4 1375.7,258.7 1376.7,258.9 1377.8,259.1 1378.8,259.3 1379.8,259.5 1380.8,259.7 1381.9,259.9 1382.9,260.1 1383.9,260.3 1385.0,260.4 1386.0,260.6 1387.0,260.7 1388.0,260.8 1389.1,260.9 1390.1,261.0 1391.1,261.1 1392.2,261.2 1393.2,261.3 1394.2,261.3 1395.0,262.3" fill="#8fe2c4"/>
<rect x="1194.1" y="142.3" width="3.2" height="120.5" fill="#7adcbb"/>
<path d="M1196.7,165.2 L1197.3,250 Q1197.6,261.2 1203,261.6 L1203.0,261.6 L1204.0,261.6 L1205.1,261.6 L1206.1,261.6 L1207.1,261.6 L1208.1,261.6 L1209.2,261.6 L1210.2,261.6 L1211.2,261.6 L1212.3,261.6 L1213.3,261.6 L1214.3,261.6 L1215.3,261.6 L1216.4,261.6 L1217.4,261.6 L1218.4,261.6 L1219.4,261.6 L1220.5,261.6 L1221.5,261.6 L1222.5,261.6 L1223.6,261.6 L1224.6,261.6 L1225.6,261.6 L1226.6,261.6 L1227.7,261.6 L1228.7,261.6 L1229.7,261.6 L1230.8,261.6 L1231.8,261.6 L1232.8,261.6 L1233.8,261.6 L1234.9,261.6 L1235.9,261.6 L1236.9,261.6 L1238.0,261.6 L1239.0,261.6 L1240.0,261.6 L1241.0,261.6 L1242.1,261.6 L1243.1,261.6 L1244.1,261.6 L1245.1,261.6 L1246.2,261.6 L1247.2,261.6 L1248.2,261.6 L1249.3,261.6 L1250.3,261.6 L1251.3,261.6 L1252.3,261.6 L1253.4,261.6 L1254.4,261.6 L1255.4,261.6 L1256.5,261.6 L1257.5,261.6 L1258.5,261.5 L1259.5,261.5 L1260.6,261.5 L1261.6,261.5 L1262.6,261.4 L1263.7,261.4 L1264.7,261.4 L1265.7,261.3 L1266.7,261.2 L1267.8,261.1 L1268.8,261.0 L1269.8,260.9 L1270.8,260.8 L1271.9,260.6 L1272.9,260.4 L1273.9,260.1 L1275.0,259.8 L1276.0,259.5 L1277.0,259.1 L1278.0,258.6 L1279.1,258.1 L1280.1,257.5 L1281.1,256.8 L1282.2,256.0 L1283.2,255.1 L1284.2,254.1 L1285.2,252.9 L1286.3,251.6 L1287.3,250.2 L1288.3,248.6 L1289.4,246.8 L1290.4,244.9 L1291.4,242.8 L1292.4,240.5 L1293.5,238.0 L1294.5,235.3 L1295.5,232.5 L1296.5,229.4 L1297.6,226.2 L1298.6,222.8 L1299.6,219.3 L1300.7,215.6 L1301.7,211.8 L1302.7,207.9 L1303.7,203.9 L1304.8,199.8 L1305.8,195.7 L1306.8,191.7 L1307.9,187.6 L1308.9,183.7 L1309.9,179.8 L1310.9,176.1 L1312.0,172.6 L1313.0,169.3 L1314.0,166.3 L1315.1,163.5 L1316.1,161.1 L1317.1,159.0 L1318.1,157.2 L1319.2,155.9 L1320.2,155.0 L1321.2,154.4 L1322.2,154.3 L1323.3,154.6 L1324.3,155.3 L1325.3,156.5 L1326.4,158.0 L1327.4,159.9 L1328.4,162.2 L1329.4,164.8 L1330.5,167.7 L1331.5,170.8 L1332.5,174.2 L1333.6,177.8 L1334.6,181.6 L1335.6,185.5 L1336.6,189.5 L1337.7,193.5 L1338.7,197.5 L1339.7,201.6 L1340.8,205.6 L1341.8,209.5 L1342.8,213.3 L1343.8,217.0 L1344.9,220.5 L1345.9,223.9 L1346.9,227.1 L1347.9,230.2 L1349.0,233.0 L1350.0,235.7 L1351.0,238.1 L1352.1,240.4 L1353.1,242.4 L1354.1,244.3 L1355.1,246.0 L1356.2,247.5 L1357.2,248.9 L1358.2,250.1 L1359.3,251.2 L1360.3,252.1 L1361.3,253.0 L1362.3,253.7 L1363.4,254.4 L1364.4,254.9 L1365.4,255.4 L1366.5,255.9 L1367.5,256.3 L1368.5,256.7 L1369.5,257.0 L1370.6,257.3 L1371.6,257.6 L1372.6,257.9 L1373.6,258.2 L1374.7,258.4 L1375.7,258.7 L1376.7,258.9 L1377.8,259.1 L1378.8,259.3 L1379.8,259.5 L1380.8,259.7 L1381.9,259.9 L1382.9,260.1 L1383.9,260.3 L1385.0,260.4 L1386.0,260.6 L1387.0,260.7 L1388.0,260.8 L1389.1,260.9 L1390.1,261.0 L1391.1,261.1 L1392.2,261.2 L1393.2,261.3 L1394.2,261.3 L1395.2,261.4 L1396.3,261.4 L1397.3,261.4 L1398.3,261.5 L1399.3,261.5 L1400.4,261.5 L1401.4,261.5 L1402.4,261.6 L1403.5,261.6 L1404.5,261.6 L1405.5,261.6 L1406.5,261.6 L1407.6,261.6 L1408.6,261.6" fill="none" stroke="#8a8a8a" stroke-width="3" stroke-linejoin="round"/>
<line x1="1186.8" y1="119.9" x2="1186.8" y2="263.5" stroke="#000" stroke-width="1.5"/>
<line x1="1186.8" y1="262.8" x2="1409" y2="262.8" stroke="#333" stroke-width="1.5"/>
<line x1="1182.5" y1="142.3" x2="1187" y2="142.3" stroke="#000" stroke-width="1.3"/>
<text x="1179.2" y="148.60000000000002" font-size="17" text-anchor="end">3</text>
<line x1="1182.5" y1="182.4" x2="1187" y2="182.4" stroke="#000" stroke-width="1.3"/>
<text x="1179.2" y="188.70000000000002" font-size="17" text-anchor="end">2</text>
<line x1="1182.5" y1="223" x2="1187" y2="223" stroke="#000" stroke-width="1.3"/>
<text x="1179.2" y="229.3" font-size="17" text-anchor="end">1</text>
<line x1="1197.6" y1="262.8" x2="1197.6" y2="266" stroke="#000" stroke-width="1.3"/>
<line x1="1255.1" y1="262.8" x2="1255.1" y2="266" stroke="#000" stroke-width="1.3"/>
<line x1="1312.7" y1="262.8" x2="1312.7" y2="266" stroke="#000" stroke-width="1.3"/>
<line x1="1370.5" y1="262.8" x2="1370.5" y2="266" stroke="#000" stroke-width="1.3"/>
<text x="1197.8" y="285.5" font-size="16.5" text-anchor="middle">0</text>
<text x="1255.1" y="285.5" font-size="16.5" text-anchor="middle">50</text>
<text x="1313.9" y="285.5" font-size="16.5" text-anchor="middle">100</text>
<text x="1372.2" y="285.5" font-size="16.5" text-anchor="middle">150</text>
<text x="1151.5" y="117.89999999999999" font-size="23.9">×</text>
<text x="1171.8" y="117.3" font-size="21">10<tspan font-size="16.8" dy="-11.9" dx="0.3">–2</tspan></text>
<text x="1256.4" y="183.6" font-size="22" text-anchor="middle">Bimodal</text>
<text x="1256.4" y="210" font-size="22" text-anchor="middle">enzyme</text>
<text x="1256.4" y="236.3" font-size="22" text-anchor="middle">(total)</text>
<line x1="1107.1" y1="401.5" x2="1107.1" y2="623.5" stroke="#b0b0b0" stroke-width="1.3"/>
<polygon points="1400.0,623.2 1401.3,623.2 1403.1,623.2 1404.9,623.2 1406.7,623.2 1408.4,623.2 1410.2,623.2 1412.0,623.2 1413.8,623.2 1415.6,623.2 1417.4,623.2 1419.1,623.2 1420.9,623.2 1422.7,623.2 1424.5,623.2 1426.3,623.2 1428.1,623.1 1429.8,623.1 1431.6,623.1 1433.4,623.0 1435.2,622.9 1437.0,622.8 1438.7,622.7 1440.5,622.4 1442.3,622.1 1444.1,621.7 1445.9,621.2 1447.7,620.5 1449.4,619.7 1451.2,618.5 1453.0,617.1 1454.8,615.3 1456.6,613.1 1458.4,610.5 1460.1,607.2 1461.9,603.3 1463.7,598.8 1465.5,593.4 1467.3,587.3 1469.1,580.3 1470.8,572.4 1472.6,563.7 1474.4,554.2 1476.2,543.9 1478.0,533.0 1479.8,521.6 1481.5,509.9 1483.3,498.0 1485.1,486.3 1486.9,474.9 1488.7,464.2 1490.4,454.3 1492.2,445.6 1494.0,438.2 1495.8,432.4 1497.6,428.4 1499.4,426.2 1501.1,425.9 1502.9,427.8 1504.7,431.8 1506.5,437.8 1508.3,445.6 1510.1,455.0 1511.8,465.6 1513.6,477.2 1515.4,489.4 1517.2,502.0 1519.0,514.6 1520.8,526.9 1522.5,538.8 1524.3,550.1 1526.1,560.5 1527.9,570.1 1529.7,578.7 1531.4,586.3 1533.2,592.9 1535.0,598.7 1536.8,603.5 1538.6,607.6 1540.4,611.0 1542.1,613.7 1543.9,615.9 1545.7,617.7 1547.5,619.1 1549.3,620.1 1551.1,621.0 1552.8,621.6 1554.6,622.0 1556.4,622.4 1558.2,622.6 1560.0,622.8 1561.8,622.9 1563.5,623.0 1565.3,623.1 1567.1,623.1 1568.9,623.1 1570.7,623.2 1572.4,623.2 1574.2,623.2 1576.0,623.2 1577.8,623.2 1579.6,623.2 1580.0,623.2" fill="#5a6fe0"/>
<polyline points="1125.0,623.2 1126.8,623.2 1128.6,623.2 1130.3,623.2 1132.1,623.2 1133.9,623.2 1135.7,623.2 1137.5,623.2 1139.3,623.2 1141.0,623.2 1142.8,623.2 1144.6,623.2 1146.4,623.2 1148.2,623.2 1150.0,623.2 1151.7,623.2 1153.5,623.2 1155.3,623.2 1157.1,623.2 1158.9,623.2 1160.7,623.2 1162.4,623.2 1164.2,623.2 1166.0,623.2 1167.8,623.2 1169.6,623.2 1171.3,623.2 1173.1,623.2 1174.9,623.2 1176.7,623.2 1178.5,623.2 1180.3,623.2 1182.0,623.2 1183.8,623.2 1185.6,623.2 1187.4,623.2 1189.2,623.2 1191.0,623.2 1192.7,623.2 1194.5,623.2 1196.3,623.2 1198.1,623.2 1199.9,623.2 1201.7,623.2 1203.4,623.2 1205.2,623.2 1207.0,623.2 1208.8,623.2 1210.6,623.2 1212.4,623.2 1214.1,623.2 1215.9,623.2 1217.7,623.2 1219.5,623.2 1221.3,623.2 1223.0,623.2 1224.8,623.2 1226.6,623.2 1228.4,623.2 1230.2,623.2 1232.0,623.2 1233.7,623.2 1235.5,623.2 1237.3,623.2 1239.1,623.2 1240.9,623.2 1242.7,623.2 1244.4,623.2 1246.2,623.2 1248.0,623.2 1249.8,623.2 1251.6,623.2 1253.4,623.2 1255.1,623.2 1256.9,623.2 1258.7,623.2 1260.5,623.2 1262.3,623.2 1264.0,623.2 1265.8,623.2 1267.6,623.2 1269.4,623.2 1271.2,623.2 1273.0,623.2 1274.7,623.2 1276.5,623.2 1278.3,623.2 1280.1,623.2 1281.9,623.2 1283.7,623.2 1285.4,623.2 1287.2,623.2 1289.0,623.2 1290.8,623.2 1292.6,623.2 1294.4,623.2 1296.1,623.2 1297.9,623.2 1299.7,623.2 1301.5,623.2 1303.3,623.2 1305.0,623.2 1306.8,623.2 1308.6,623.2 1310.4,623.2 1312.2,623.2 1314.0,623.2 1315.7,623.2 1317.5,623.2 1319.3,623.2 1321.1,623.2 1322.9,623.2 1324.7,623.2 1326.4,623.2 1328.2,623.2 1330.0,623.2 1331.8,623.2 1333.6,623.2 1335.4,623.2 1337.1,623.2 1338.9,623.2 1340.7,623.2 1342.5,623.2 1344.3,623.2 1346.1,623.2 1347.8,623.2 1349.6,623.2 1351.4,623.2 1353.2,623.2 1355.0,623.2 1356.7,623.2 1358.5,623.2 1360.3,623.2 1362.1,623.2 1363.9,623.2 1365.7,623.2 1367.4,623.2 1369.2,623.2 1371.0,623.2 1372.8,623.2 1374.6,623.2 1376.4,623.2 1378.1,623.2 1379.9,623.2 1381.7,623.2 1383.5,623.2 1385.3,623.2 1387.1,623.2 1388.8,623.2 1390.6,623.2 1392.4,623.2 1394.2,623.2 1396.0,623.2 1397.7,623.2 1399.5,623.2 1401.3,623.2 1403.1,623.2 1404.9,623.2 1406.7,623.2 1408.4,623.2 1410.2,623.2 1412.0,623.2 1413.8,623.2 1415.6,623.2 1417.4,623.2 1419.1,623.2 1420.9,623.2 1422.7,623.2 1424.5,623.2 1426.3,623.2 1428.1,623.1 1429.8,623.1 1431.6,623.1 1433.4,623.0 1435.2,622.9 1437.0,622.8 1438.7,622.7 1440.5,622.4 1442.3,622.1 1444.1,621.7 1445.9,621.2 1447.7,620.5 1449.4,619.7 1451.2,618.5 1453.0,617.1 1454.8,615.3 1456.6,613.1 1458.4,610.5 1460.1,607.2 1461.9,603.3 1463.7,598.8 1465.5,593.4 1467.3,587.3 1469.1,580.3 1470.8,572.4 1472.6,563.7 1474.4,554.2 1476.2,543.9 1478.0,533.0 1479.8,521.6 1481.5,509.9 1483.3,498.0 1485.1,486.3 1486.9,474.9 1488.7,464.2 1490.4,454.3 1492.2,445.6 1494.0,438.2 1495.8,432.4 1497.6,428.4 1499.4,426.2 1501.1,425.9 1502.9,427.8 1504.7,431.8 1506.5,437.8 1508.3,445.6 1510.1,455.0 1511.8,465.6 1513.6,477.2 1515.4,489.4 1517.2,502.0 1519.0,514.6 1520.8,526.9 1522.5,538.8 1524.3,550.1 1526.1,560.5 1527.9,570.1 1529.7,578.7 1531.4,586.3 1533.2,592.9 1535.0,598.7 1536.8,603.5 1538.6,607.6 1540.4,611.0 1542.1,613.7 1543.9,615.9 1545.7,617.7 1547.5,619.1 1549.3,620.1 1551.1,621.0 1552.8,621.6 1554.6,622.0 1556.4,622.4 1558.2,622.6 1560.0,622.8 1561.8,622.9 1563.5,623.0 1565.3,623.1 1567.1,623.1 1568.9,623.1 1570.7,623.2 1572.4,623.2 1574.2,623.2 1576.0,623.2 1577.8,623.2 1579.6,623.2 1581.4,623.2 1583.1,623.2 1584.9,623.2 1586.7,623.2 1588.5,623.2 1590.3,623.2 1592.1,623.2 1593.8,623.2 1595.6,623.2 1597.4,623.2 1599.2,623.2 1601.0,623.2 1602.8,623.2 1604.5,623.2 1606.3,623.2 1608.1,623.2 1609.9,623.2 1611.7,623.2 1613.5,623.2 1615.2,623.2 1617.0,623.2 1618.8,623.2 1620.6,623.2 1622.4,623.2 1624.1,623.2 1625.9,623.2 1627.7,623.2 1629.5,623.2 1631.3,623.2 1633.1,623.2 1634.8,623.2 1636.6,623.2 1638.4,623.2 1640.2,623.2 1642.0,623.2 1643.8,623.2 1645.5,623.2 1647.3,623.2 1649.1,623.2 1650.9,623.2 1652.7,623.2 1654.5,623.2 1656.2,623.2 1658.0,623.2 1659.8,623.2" fill="none" stroke="#2b2b2b" stroke-width="3.5"/>
<line x1="1095.3" y1="623.6" x2="1659.8" y2="623.6" stroke="#000" stroke-width="1.6"/>
<line x1="1121.9" y1="623.5" x2="1121.9" y2="632" stroke="#000" stroke-width="1.5"/>
<line x1="1273.9" y1="623.5" x2="1273.9" y2="632" stroke="#000" stroke-width="1.5"/>
<line x1="1429.1" y1="623.5" x2="1429.1" y2="632" stroke="#000" stroke-width="1.5"/>
<line x1="1583.1" y1="623.5" x2="1583.1" y2="632" stroke="#000" stroke-width="1.5"/>
<rect x="1118.5" y="459.3" width="6.8" height="34" fill="#4a4a4a"/>
<rect x="1118.5" y="492.5" width="6.8" height="132.8" fill="#2438d6"/>
<line x1="1102.2" y1="420.4" x2="1107.1" y2="420.4" stroke="#000" stroke-width="1.5"/>
<text x="1094.6" y="427" font-size="20.8" text-anchor="end">18</text>
<line x1="1102.2" y1="485.1" x2="1107.1" y2="485.1" stroke="#000" stroke-width="1.5"/>
<text x="1094.6" y="491.4" font-size="20.8" text-anchor="end">12</text>
<line x1="1102.2" y1="554.7" x2="1107.1" y2="554.7" stroke="#000" stroke-width="1.5"/>
<text x="1094.6" y="562" font-size="20.8" text-anchor="end">6</text>
<text x="1134.3" y="650.3" font-size="21" text-anchor="middle">0</text>
<text x="1285.8" y="650.3" font-size="21" text-anchor="middle">200</text>
<text x="1443.2" y="650.3" font-size="21" text-anchor="middle">400</text>
<text x="1599.2" y="650.3" font-size="21" text-anchor="middle">600</text>
<text x="1101.8" y="397.70000000000005" font-size="23.9">×</text>
<text x="1121.6" y="397.1" font-size="21">10<tspan font-size="16.8" dy="-11.9" dx="0.3">–3</tspan></text>
<text x="1056.4" y="560.3" font-size="20.7" text-anchor="start" transform="rotate(-90 1056.4 560.3)">Probability</text>
<text x="1296.3" y="372.8" font-size="20.85" text-anchor="start">Catalytically-induced</text>
<circle cx="1521.1" cy="363.4" r="17.6" fill="#fff" stroke="#000" stroke-width="1.8"/>
<text x="1521.1" y="371.6" font-size="24" text-anchor="middle">3</text>
<text x="1293" y="681.3" font-size="21" text-anchor="start">Metabolite molecules</text>
<text x="1610.2" y="526.3" font-size="22" text-anchor="middle">Bimodal</text>
<text x="1610.2" y="552.4" font-size="22" text-anchor="middle">metabolite</text>
<polygon points="1201.9,555.0 1201.9,452.0 1203.0,453.6 1204.0,441.7 1205.0,433.6 1206.0,428.6 1207.0,425.9 1208.1,424.1 1209.1,422.9 1210.1,422.1 1211.1,421.5 1212.1,421.0 1213.1,420.8 1214.1,420.9 1215.1,421.2 1216.2,421.6 1217.2,422.1 1218.2,422.6 1219.2,423.2 1220.2,423.8 1221.2,424.5 1222.2,425.3 1223.2,426.2 1224.2,427.1 1225.3,428.0 1226.3,429.0 1227.3,430.1 1228.3,431.3 1229.3,432.5 1230.3,433.7 1231.3,435.0 1232.3,436.3 1233.4,437.5 1234.4,438.8 1235.4,440.1 1236.4,441.5 1237.4,442.9 1238.4,444.3 1239.4,445.7 1240.4,447.1 1241.4,448.5 1242.5,450.0 1243.5,451.5 1244.5,452.9 1245.5,454.4 1246.5,455.9 1247.5,457.3 1248.5,458.8 1249.5,460.3 1250.6,461.8 1251.6,463.3 1252.6,464.8 1253.6,466.3 1254.6,467.8 1255.6,469.4 1256.6,470.9 1257.6,472.4 1258.6,473.9 1259.7,475.5 1260.7,477.0 1261.7,478.5 1262.7,480.0 1263.7,481.6 1264.7,483.1 1265.7,484.6 1266.7,486.2 1267.7,487.7 1268.8,489.3 1269.8,490.8 1270.8,492.3 1271.8,493.9 1272.8,495.4 1273.8,496.9 1274.8,498.4 1275.8,499.8 1276.9,501.2 1277.9,502.7 1278.9,504.1 1279.9,505.5 1280.9,506.9 1281.9,508.3 1282.9,509.6 1283.9,511.0 1284.9,512.4 1286.0,513.7 1287.0,515.0 1288.0,516.3 1289.0,517.5 1290.0,518.7 1291.0,519.9 1292.0,521.0 1293.0,522.1 1294.1,523.3 1295.1,524.3 1296.1,525.4 1297.1,526.5 1298.1,527.5 1299.1,528.5 1300.1,529.5 1301.1,530.5 1302.1,531.4 1303.2,532.3 1304.2,533.2 1305.2,534.1 1306.2,534.9 1307.2,535.8 1308.2,536.6 1309.2,537.4 1310.2,538.2 1311.3,538.9 1312.3,539.7 1313.3,540.4 1314.3,541.1 1315.3,541.8 1316.3,542.5 1317.3,543.1 1318.3,543.7 1319.3,544.3 1320.4,544.8 1321.4,545.3 1322.4,545.8 1323.4,546.3 1324.4,546.8 1325.4,547.2 1326.4,547.7 1327.4,548.1 1328.5,548.5 1329.5,548.9 1330.5,549.3 1331.5,549.6 1332.5,549.9 1333.5,550.2 1334.5,550.5 1335.5,550.8 1336.5,551.0 1337.6,551.3 1338.6,551.5 1339.6,551.8 1340.6,552.0 1341.6,552.2 1342.6,552.4 1343.6,552.6 1344.6,552.8 1345.7,552.9 1346.7,553.1 1347.7,553.2 1348.7,553.3 1349.7,553.5 1350.7,553.6 1351.7,553.7 1352.7,553.8 1353.7,553.9 1354.8,554.0 1355.8,554.1 1356.8,554.1 1357.8,554.2 1358.8,554.3 1359.8,554.3 1360.8,554.4 1361.8,554.4 1362.9,554.5 1363.9,554.5 1364.9,554.5 1365.9,554.5 1366.9,554.6 1367.9,554.6 1368.9,554.6 1369.9,554.6 1370.9,554.6 1372.0,554.7 1373.0,554.7 1374.0,554.7 1375.0,554.7 1376.0,554.7 1377.0,554.7 1378.0,554.8 1379.0,554.8 1380.1,554.8 1381.1,554.8 1382.1,554.8 1383.1,554.8 1384.1,554.8 1385.1,554.8 1386.1,554.8 1387.1,554.8 1388.1,554.9 1389.2,554.9 1390.2,554.9 1391.2,554.9 1392.2,554.9 1393.2,554.9 1394.2,554.9 1395.2,554.9 1396.2,554.9 1397.2,554.9 1398.3,554.9 1399.3,554.9 1400.3,554.9 1401.3,554.9 1402.3,554.9 1403.3,554.9 1404.3,554.9 1405.3,554.9 1406.4,554.9 1407.4,554.9 1408.4,554.9 1409.4,554.9 1410.4,554.9 1411.4,554.9 1412.4,554.9 1413.4,554.9 1414.4,554.9 1415.5,554.9 1416.5,554.9 1417.5,554.9 1418.5,554.9 1419.5,554.9 1420.5,554.9 1421.5,554.9 1422.5,554.9 1423.6,554.9 1424.6,554.9 1425.6,554.9 1426.6,554.9 1427.6,554.9 1428.6,554.9 1429.6,554.9 1430.6,554.9 1431.6,554.9 1432.7,554.9 1433.7,554.9 1434.7,554.9 1435.7,554.9 1436.7,554.9 1437.7,554.9 1438.7,554.9 1439.7,554.9 1440.8,554.9 1441.8,554.9 1442.8,554.9 1443.8,554.9 1444.8,554.9 1444.8,555.0" fill="#74dcbb"/>
<polyline points="1203.0,453.6 1204.0,441.7 1205.0,433.6 1206.0,428.6 1207.0,425.9 1208.1,424.1 1209.1,422.9 1210.1,422.1 1211.1,421.5 1212.1,421.0 1213.1,420.8 1214.1,420.9 1215.1,421.2 1216.2,421.6 1217.2,422.1 1218.2,422.6 1219.2,423.2 1220.2,423.8 1221.2,424.5 1222.2,425.3 1223.2,426.2 1224.2,427.1 1225.3,428.0 1226.3,429.0 1227.3,430.1 1228.3,431.3 1229.3,432.5 1230.3,433.7 1231.3,435.0 1232.3,436.3 1233.4,437.5 1234.4,438.8 1235.4,440.1 1236.4,441.5 1237.4,442.9 1238.4,444.3 1239.4,445.7 1240.4,447.1 1241.4,448.5 1242.5,450.0 1243.5,451.5 1244.5,452.9 1245.5,454.4 1246.5,455.9 1247.5,457.3 1248.5,458.8 1249.5,460.3 1250.6,461.8 1251.6,463.3 1252.6,464.8 1253.6,466.3 1254.6,467.8 1255.6,469.4 1256.6,470.9 1257.6,472.4 1258.6,473.9 1259.7,475.5 1260.7,477.0 1261.7,478.5 1262.7,480.0 1263.7,481.6 1264.7,483.1 1265.7,484.6 1266.7,486.2 1267.7,487.7 1268.8,489.3 1269.8,490.8 1270.8,492.3 1271.8,493.9 1272.8,495.4 1273.8,496.9 1274.8,498.4 1275.8,499.8 1276.9,501.2 1277.9,502.7 1278.9,504.1 1279.9,505.5 1280.9,506.9 1281.9,508.3 1282.9,509.6 1283.9,511.0 1284.9,512.4 1286.0,513.7 1287.0,515.0 1288.0,516.3 1289.0,517.5 1290.0,518.7 1291.0,519.9 1292.0,521.0 1293.0,522.1 1294.1,523.3 1295.1,524.3 1296.1,525.4 1297.1,526.5 1298.1,527.5 1299.1,528.5 1300.1,529.5 1301.1,530.5 1302.1,531.4 1303.2,532.3 1304.2,533.2 1305.2,534.1 1306.2,534.9 1307.2,535.8 1308.2,536.6 1309.2,537.4 1310.2,538.2 1311.3,538.9 1312.3,539.7 1313.3,540.4 1314.3,541.1 1315.3,541.8 1316.3,542.5 1317.3,543.1 1318.3,543.7 1319.3,544.3 1320.4,544.8 1321.4,545.3 1322.4,545.8 1323.4,546.3 1324.4,546.8 1325.4,547.2 1326.4,547.7 1327.4,548.1 1328.5,548.5 1329.5,548.9 1330.5,549.3 1331.5,549.6 1332.5,549.9 1333.5,550.2 1334.5,550.5 1335.5,550.8 1336.5,551.0 1337.6,551.3 1338.6,551.5 1339.6,551.8 1340.6,552.0 1341.6,552.2 1342.6,552.4 1343.6,552.6 1344.6,552.8 1345.7,552.9 1346.7,553.1 1347.7,553.2 1348.7,553.3 1349.7,553.5 1350.7,553.6 1351.7,553.7 1352.7,553.8 1353.7,553.9 1354.8,554.0 1355.8,554.1 1356.8,554.1 1357.8,554.2 1358.8,554.3 1359.8,554.3 1360.8,554.4 1361.8,554.4 1362.9,554.5 1363.9,554.5 1364.9,554.5 1365.9,554.5 1366.9,554.6 1367.9,554.6 1368.9,554.6 1369.9,554.6 1370.9,554.6 1372.0,554.7 1373.0,554.7 1374.0,554.7 1375.0,554.7 1376.0,554.7 1377.0,554.7 1378.0,554.8 1379.0,554.8 1380.1,554.8 1381.1,554.8 1382.1,554.8 1383.1,554.8 1384.1,554.8 1385.1,554.8 1386.1,554.8 1387.1,554.8 1388.1,554.9 1389.2,554.9 1390.2,554.9 1391.2,554.9 1392.2,554.9 1393.2,554.9 1394.2,554.9 1395.2,554.9 1396.2,554.9 1397.2,554.9 1398.3,554.9 1399.3,554.9 1400.3,554.9 1401.3,554.9 1402.3,554.9 1403.3,554.9 1404.3,554.9 1405.3,554.9 1406.4,554.9 1407.4,554.9 1408.4,554.9 1409.4,554.9 1410.4,554.9 1411.4,554.9 1412.4,554.9 1413.4,554.9 1414.4,554.9 1415.5,554.9 1416.5,554.9 1417.5,554.9 1418.5,554.9 1419.5,554.9 1420.5,554.9 1421.5,554.9 1422.5,554.9 1423.6,554.9 1424.6,554.9 1425.6,554.9 1426.6,554.9 1427.6,554.9 1428.6,554.9 1429.6,554.9 1430.6,554.9 1431.6,554.9 1432.7,554.9 1433.7,554.9 1434.7,554.9 1435.7,554.9 1436.7,554.9 1437.7,554.9 1438.7,554.9 1439.7,554.9 1440.8,554.9 1441.8,554.9 1442.8,554.9 1443.8,554.9 1444.8,554.9" fill="none" stroke="#8a8a8a" stroke-width="3" stroke-linejoin="round" stroke-linecap="round"/>
<line x1="1201.9" y1="416.3" x2="1201.9" y2="555.7" stroke="#000" stroke-width="1.5"/>
<line x1="1201.9" y1="554.9" x2="1360" y2="554.9" stroke="#000" stroke-width="1.5"/>
<line x1="1196.8" y1="433.7" x2="1201.9" y2="433.7" stroke="#000" stroke-width="1.5"/>
<text x="1186.8" y="441.09999999999997" font-size="21.5" text-anchor="end">20</text>
<line x1="1196.8" y1="480.9" x2="1201.9" y2="480.9" stroke="#000" stroke-width="1.5"/>
<text x="1186.8" y="488.29999999999995" font-size="21.5" text-anchor="end">12</text>
<line x1="1196.8" y1="529.5" x2="1201.9" y2="529.5" stroke="#000" stroke-width="1.5"/>
<text x="1186.8" y="536.9" font-size="21.5" text-anchor="end">4</text>
<line x1="1260.8" y1="554.9" x2="1260.8" y2="559.5" stroke="#000" stroke-width="1.5"/>
<line x1="1318.3" y1="554.9" x2="1318.3" y2="559.5" stroke="#000" stroke-width="1.5"/>
<line x1="1375.6" y1="554.9" x2="1375.6" y2="559.5" stroke="#000" stroke-width="1.5"/>
<text x="1258.8" y="581.5" font-size="21.5" text-anchor="middle">50</text>
<text x="1320.3" y="581.5" font-size="21.5" text-anchor="middle">100</text>
<text x="1379.6" y="581.5" font-size="21.5" text-anchor="middle">150</text>
<text x="1206.3" y="407.5" font-size="23.9">×</text>
<text x="1226.1" y="406.9" font-size="21">10<tspan font-size="16.8" dy="-11.9" dx="0.3">–3</tspan></text>
<text x="1285" y="469.5" font-size="21.8" text-anchor="start">Unimodal</text>
<text x="1285" y="495.5" font-size="21.8" text-anchor="start">enzyme (total)</text>
<polyline points="1743.7,97.4 1744.0,96.4 1744.3,104.5 1744.6,102.7 1744.9,105.2 1745.2,108.0 1745.5,108.6 1745.8,110.8 1746.1,111.2 1746.4,111.1 1746.7,113.8 1747.0,107.7 1747.3,113.4 1747.6,119.1 1747.9,115.6 1748.2,118.0 1748.5,115.5 1748.8,129.4 1749.1,124.7 1749.4,135.9 1749.7,135.7 1750.0,141.3 1750.3,140.1 1750.6,147.0 1750.9,149.9 1751.2,158.3 1751.5,161.0 1751.8,161.9 1752.1,165.2 1752.4,166.3 1752.7,167.8 1753.0,168.9 1753.3,168.9 1753.6,171.3 1753.9,171.8 1754.2,173.0 1754.5,173.8 1754.8,174.4 1755.1,174.6 1755.4,175.5 1755.7,176.1 1756.0,175.9 1756.3,176.8 1756.6,177.6 1756.9,177.6 1757.2,177.6 1757.5,177.7 1757.8,177.6 1758.1,177.6 1758.4,177.6 1758.7,177.6 1759.0,177.7 1759.3,177.6 1759.6,177.6 1759.9,177.6 1760.2,177.7 1760.5,177.6 1760.8,177.9 1761.1,177.8 1761.4,177.8 1761.7,177.7 1762.0,177.6 1762.3,177.6 1762.6,177.7 1762.9,177.7 1763.2,177.6 1763.5,177.7 1763.8,177.6 1764.1,177.6 1764.4,177.7 1764.7,177.6 1765.0,177.7 1765.3,177.7 1765.6,177.7 1765.9,177.7 1766.2,177.7 1766.5,177.7 1766.8,177.7 1767.1,177.7 1767.4,177.7 1767.7,177.8 1768.0,177.8 1768.3,177.7 1768.6,177.8 1768.9,177.8 1769.2,177.9 1769.5,177.7 1769.8,177.7 1770.1,177.7 1770.4,177.7 1770.7,177.7 1771.0,177.8 1771.3,177.8 1771.6,177.8 1771.9,177.8 1772.2,177.7 1772.5,177.8 1772.8,177.7 1773.1,177.8 1773.4,177.8 1773.7,177.8 1774.0,177.8 1774.3,177.8 1774.6,177.8 1774.9,177.7 1775.2,177.8 1775.5,177.8 1775.8,177.8 1776.1,177.8 1776.4,177.9 1776.7,177.8 1777.0,177.8 1777.3,177.8 1777.6,177.7 1777.9,177.7 1778.2,177.7 1778.5,177.7 1778.8,177.8 1779.1,177.8 1779.4,177.8 1779.7,177.9 1780.0,177.7 1780.3,177.8 1780.6,177.8 1780.9,177.6 1781.2,177.6 1781.5,177.7 1781.8,177.7 1782.1,177.7 1782.4,177.7 1782.7,177.7 1783.0,177.7 1783.3,177.7 1783.6,177.8 1783.9,177.8 1784.2,177.8 1784.5,177.8 1784.8,177.9 1785.1,177.9 1785.4,177.8 1785.7,177.9 1786.0,177.9 1786.3,177.9 1786.6,177.8 1786.9,177.8 1787.2,177.8 1787.5,177.8 1787.8,177.7 1788.1,177.8 1788.4,177.8 1788.7,177.8 1789.0,177.7 1789.3,177.8 1789.6,177.8 1789.9,177.8 1790.2,177.8 1790.5,177.8 1790.8,177.8 1791.1,177.7 1791.4,177.8 1791.7,177.8 1792.0,177.8 1792.3,177.9 1792.6,177.8 1792.9,177.8 1793.2,177.9 1793.5,177.8 1793.8,177.8 1794.1,177.8 1794.4,177.8 1794.7,177.8 1795.0,177.8 1795.3,177.8 1795.6,177.8 1795.9,177.8 1796.2,177.9 1796.5,177.8 1796.8,177.8 1797.1,177.8 1797.4,177.8 1797.7,177.8 1798.0,177.7 1798.3,177.7 1798.6,177.8 1798.9,177.7 1799.2,177.7 1799.5,177.8 1799.8,177.7 1800.1,177.7 1800.4,177.7 1800.7,177.8 1801.0,177.8 1801.3,177.7 1801.6,177.9 1801.9,177.7 1802.2,177.7 1802.5,177.7 1802.8,177.8 1803.1,177.7 1803.4,177.8 1803.7,177.8 1804.0,177.8 1804.3,177.7 1804.6,177.6 1804.9,171.1 1805.2,166.7 1805.5,157.2 1805.8,152.3 1806.1,143.2 1806.4,145.6 1806.7,146.9 1807.0,135.1 1807.3,133.5 1807.6,133.9 1807.9,133.0 1808.2,123.4 1808.5,130.3 1808.8,125.8 1809.1,121.7 1809.4,125.8 1809.7,121.0 1810.0,123.8 1810.3,125.9 1810.6,124.6 1810.9,120.1 1811.2,123.0 1811.5,128.1 1811.8,121.2 1812.1,127.6 1812.4,126.9 1812.7,117.3 1813.0,121.8 1813.3,114.5 1813.6,121.7 1813.9,121.1 1814.2,118.1 1814.5,110.4 1814.8,116.1 1815.1,113.6 1815.4,114.3 1815.7,112.7 1816.0,115.1 1816.3,112.9 1816.6,107.7 1816.9,112.5 1817.2,116.3 1817.5,106.6 1817.8,106.6 1818.1,103.3 1818.4,116.6 1818.7,107.5 1819.0,115.9 1819.3,113.8 1819.6,113.8 1819.9,115.7 1820.2,121.3 1820.5,119.5 1820.8,117.0 1821.1,111.4 1821.4,116.7 1821.7,115.2 1822.0,112.2 1822.3,114.1 1822.6,107.9 1822.9,111.3 1823.2,108.8 1823.5,109.6 1823.8,107.9 1824.1,110.6 1824.4,111.3 1824.7,105.4 1825.0,110.9 1825.3,108.3 1825.6,109.8 1825.9,111.5 1826.2,103.4 1826.5,110.0 1826.8,106.7 1827.1,105.8 1827.4,102.1 1827.7,107.1 1828.0,103.2 1828.3,99.5 1828.6,103.9 1828.9,98.8 1829.2,99.8 1829.5,97.8 1829.8,102.4 1830.1,96.8 1830.4,100.2 1830.7,99.2 1831.0,98.8 1831.3,100.5 1831.6,92.2 1831.9,103.2 1832.2,97.0 1832.5,102.4 1832.8,103.6 1833.1,104.4 1833.4,105.3 1833.7,102.4 1834.0,115.1 1834.3,113.8 1834.6,112.4 1834.9,111.8 1835.2,110.0 1835.5,107.7 1835.8,105.1 1836.1,109.6 1836.4,104.2 1836.7,118.0 1837.0,114.6 1837.3,111.3 1837.6,114.2 1837.9,111.8 1838.2,115.7 1838.5,120.4 1838.8,121.2 1839.1,110.5 1839.4,116.0 1839.7,112.5 1840.0,110.4 1840.3,110.1 1840.6,111.3 1840.9,110.2 1841.2,108.5 1841.5,108.7 1841.8,104.7 1842.1,104.8 1842.4,107.2 1842.7,107.3 1843.0,102.7 1843.3,109.7 1843.6,115.2 1843.9,108.8 1844.2,107.4 1844.5,108.5 1844.8,105.6 1845.1,103.8 1845.4,108.0 1845.7,109.2 1846.0,111.5 1846.3,119.1 1846.6,110.3 1846.9,109.7 1847.2,111.3 1847.5,110.6 1847.8,117.2 1848.1,113.5 1848.4,117.3 1848.7,109.0 1849.0,110.4 1849.3,115.7 1849.6,117.9 1849.9,109.6 1850.2,116.3 1850.5,108.5 1850.8,110.7 1851.1,109.0 1851.4,112.4 1851.7,105.3 1852.0,106.7 1852.3,109.1 1852.6,115.8 1852.9,117.2 1853.2,117.2 1853.5,119.0 1853.8,117.7 1854.1,128.0 1854.4,126.7 1854.7,128.2 1855.0,119.7 1855.3,131.8 1855.6,128.1 1855.9,134.6 1856.2,126.3 1856.5,133.7 1856.8,134.2 1857.1,133.1 1857.4,125.2 1857.7,135.2 1858.0,131.7 1858.3,132.2 1858.6,131.8 1858.9,132.2 1859.2,131.5 1859.5,129.8 1859.8,130.3 1860.1,124.4 1860.4,119.1 1860.7,123.6 1861.0,121.6 1861.3,117.8 1861.6,118.6 1861.9,119.5 1862.2,116.4 1862.5,115.4 1862.8,116.7 1863.1,118.2 1863.4,118.1 1863.7,113.6 1864.0,119.1 1864.3,108.6 1864.6,112.1 1864.9,113.3 1865.2,107.0 1865.5,105.9 1865.8,103.7 1866.1,107.1 1866.4,105.4 1866.7,106.4 1867.0,106.9 1867.3,99.3 1867.6,101.2 1867.9,104.3 1868.2,95.8 1868.5,104.2 1868.8,99.8 1869.1,102.5 1869.4,99.6 1869.7,109.3 1870.0,100.8 1870.3,101.5 1870.6,108.3 1870.9,104.3 1871.2,98.6 1871.5,106.1 1871.8,106.9 1872.1,104.6 1872.4,100.7 1872.7,101.3 1873.0,99.5 1873.3,108.0 1873.6,98.9 1873.9,103.9 1874.2,109.7 1874.5,104.7 1874.8,106.9 1875.1,108.2 1875.4,106.4 1875.7,99.4 1876.0,105.4 1876.3,96.0 1876.6,103.7 1876.9,109.8 1877.2,102.7 1877.5,110.5 1877.8,114.3 1878.1,107.6 1878.4,104.0 1878.7,117.2 1879.0,107.1 1879.3,109.2 1879.6,108.8 1879.9,110.3 1880.2,108.2 1880.5,117.1 1880.8,108.4 1881.1,104.9 1881.4,106.0 1881.7,111.4 1882.0,119.0 1882.3,112.1 1882.6,115.4 1882.9,121.4 1883.2,118.9 1883.5,120.8 1883.8,118.6 1884.1,123.0 1884.4,121.1 1884.7,131.1 1885.0,120.1 1885.3,130.4 1885.6,127.4 1885.9,125.1 1886.2,123.2 1886.5,125.1 1886.8,120.1 1887.1,118.3 1887.4,114.4 1887.7,119.6 1888.0,118.4 1888.3,121.1 1888.6,128.1 1888.9,127.9 1889.2,130.0 1889.5,134.0 1889.8,123.7 1890.1,131.4 1890.4,132.8 1890.7,139.2 1891.0,129.9 1891.3,130.9 1891.6,129.2 1891.9,125.3 1892.2,122.7 1892.5,122.7 1892.8,121.0 1893.1,123.8 1893.4,124.0 1893.7,119.3 1894.0,120.8 1894.3,118.8 1894.6,114.4 1894.9,111.3 1895.2,115.4 1895.5,107.3 1895.8,113.7 1896.1,113.9 1896.4,101.3 1896.7,107.7 1897.0,105.8 1897.3,112.8 1897.6,112.3 1897.9,108.9 1898.2,110.1 1898.5,112.7 1898.8,104.5 1899.1,108.2 1899.4,105.4 1899.7,111.7 1900.0,109.8 1900.3,114.5 1900.6,115.9 1900.9,107.9 1901.2,112.7 1901.5,115.1 1901.8,115.7 1902.1,116.2 1902.4,117.0 1902.7,120.4 1903.0,120.3 1903.3,121.3 1903.6,120.0 1903.9,127.3 1904.2,121.4 1904.5,128.3 1904.8,125.2 1905.1,123.2 1905.4,128.8 1905.7,133.4 1906.0,126.7 1906.3,123.5 1906.6,122.9 1906.9,124.2 1907.2,126.2 1907.5,118.0 1907.8,122.2 1908.1,119.2 1908.4,118.4 1908.7,111.7 1909.0,102.5 1909.3,107.0 1909.6,106.4 1909.9,101.7 1910.2,94.9 1910.5,98.4 1910.8,101.8 1911.1,102.5 1911.4,102.2 1911.7,107.1 1912.0,104.3 1912.3,101.4 1912.6,108.3 1912.9,106.7 1913.2,113.2 1913.5,109.7 1913.8,107.3 1914.1,103.9 1914.4,105.3 1914.7,105.8 1915.0,99.3 1915.3,99.0 1915.6,101.3 1915.9,98.3 1916.2,89.7 1916.5,92.9 1916.8,92.0 1917.1,100.7 1917.4,102.1 1917.7,109.0 1918.0,107.6 1918.3,111.2 1918.6,114.4 1918.9,116.2 1919.2,115.3 1919.5,116.1 1919.8,121.6 1920.1,115.8 1920.4,120.1 1920.7,118.9 1921.0,116.1 1921.3,111.3 1921.6,115.3 1921.9,120.0 1922.2,122.6 1922.5,117.1 1922.8,121.6 1923.1,116.8 1923.4,122.7 1923.7,115.3 1924.0,108.0 1924.3,120.9 1924.6,116.0 1924.9,117.4 1925.2,108.8 1925.5,108.8 1925.8,112.2 1926.1,99.8 1926.4,105.4 1926.7,102.7 1927.0,112.0 1927.3,109.3 1927.6,114.7 1927.9,109.5 1928.2,116.6 1928.5,120.0 1928.8,119.0 1929.1,119.2 1929.4,123.8 1929.7,117.1 1930.0,116.1 1930.3,118.9 1930.6,125.5 1930.9,119.6 1931.2,119.7 1931.5,119.8 1931.8,120.1 1932.1,129.7 1932.4,130.3 1932.7,129.2 1933.0,136.2 1933.3,141.0 1933.6,149.5 1933.9,148.1 1934.2,154.2 1934.5,151.9 1934.8,158.4 1935.1,156.3 1935.4,157.7 1935.7,161.5 1936.0,163.1 1936.3,165.6 1936.6,167.4 1936.9,167.1 1937.2,169.4 1937.5,169.0 1937.8,172.3 1938.1,171.5 1938.4,172.6 1938.7,174.2 1939.0,173.1 1939.3,175.0 1939.6,174.7 1939.9,175.0 1940.2,175.5 1940.5,176.1 1940.8,176.5 1941.1,176.4 1941.4,176.8 1941.7,177.0 1942.0,177.2 1942.3,177.6 1942.6,177.5 1942.9,177.7 1943.2,177.8 1943.5,177.8 1943.8,177.9 1944.1,177.8 1944.4,177.8 1944.7,177.9 1945.0,177.7 1945.3,177.8 1945.6,177.8 1945.9,177.8 1946.2,177.7 1946.5,177.8 1946.8,177.8 1947.1,177.8 1947.4,177.8 1947.7,177.8 1948.0,177.8 1948.3,177.8 1948.6,177.8 1948.9,177.8 1949.2,177.8 1949.5,177.8 1949.8,177.8 1950.1,177.7 1950.4,177.7 1950.7,177.8 1951.0,177.8 1951.3,177.7 1951.6,177.8 1951.9,177.7 1952.2,177.7 1952.5,177.7 1952.8,177.8 1953.1,177.8 1953.4,177.8 1953.7,177.8 1954.0,177.8 1954.3,177.7 1954.6,177.7 1954.9,177.8 1955.2,177.8 1955.5,177.7 1955.8,177.8 1956.1,177.8 1956.4,177.8 1956.7,177.8 1957.0,177.8 1957.3,177.8 1957.6,177.9 1957.9,177.7 1958.2,177.8 1958.5,177.7 1958.8,177.8 1959.1,177.7 1959.4,177.8 1959.7,177.8 1960.0,177.7 1960.3,177.9 1960.6,177.8 1960.9,177.8 1961.2,177.8 1961.5,177.8 1961.8,177.8 1962.1,177.8 1962.4,177.8 1962.7,177.8 1963.0,177.8 1963.3,177.8 1963.6,177.8 1963.9,177.8 1964.2,177.8 1964.5,177.8 1964.8,177.8 1965.1,177.8 1965.4,177.7 1965.7,177.7 1966.0,177.7 1966.3,177.7 1966.6,177.8 1966.9,177.7 1967.2,177.7 1967.5,177.7 1967.8,177.7 1968.1,177.7 1968.4,177.8 1968.7,177.7 1969.0,177.6 1969.3,177.7 1969.6,177.8 1969.9,177.7 1970.2,177.8 1970.5,177.7 1970.8,177.7 1971.1,177.8 1971.4,177.7 1971.7,177.7 1972.0,177.8 1972.3,177.8 1972.6,177.8 1972.9,177.7 1973.2,177.8 1973.5,177.7 1973.8,177.7 1974.1,177.8 1974.4,177.7 1974.7,177.8 1975.0,177.7 1975.3,177.9 1975.6,177.8 1975.9,177.9 1976.2,177.7 1976.5,177.9 1976.8,177.9 1977.1,177.8 1977.4,177.8 1977.7,177.7 1978.0,177.8 1978.3,177.8 1978.6,177.8 1978.9,177.8 1979.2,177.8 1979.5,177.8 1979.8,177.7 1980.1,177.8 1980.4,177.7 1980.7,177.7 1981.0,177.8 1981.3,177.8 1981.6,177.8 1981.9,177.8 1982.2,177.7 1982.5,177.9 1982.8,177.8 1983.1,177.9 1983.4,177.7 1983.7,177.8 1984.0,177.7 1984.3,177.8 1984.6,177.8 1984.9,177.7 1985.2,177.8 1985.5,177.8 1985.8,177.9 1986.1,177.9 1986.4,177.8 1986.7,177.8 1987.0,177.8 1987.3,177.9 1987.6,177.8 1987.9,177.9 1988.2,177.8 1988.5,177.8 1988.8,177.8 1989.1,177.7 1989.4,177.7 1989.7,177.8 1990.0,177.8 1990.3,177.7 1990.6,177.8 1990.9,177.8 1991.2,177.7 1991.5,177.7 1991.8,177.8 1992.1,177.8 1992.4,177.7 1992.7,177.7 1993.0,177.9 1993.3,177.8 1993.6,177.8 1993.9,177.8 1994.2,177.8 1994.5,177.8 1994.8,177.7 1995.1,177.7 1995.4,177.7 1995.7,177.7 1996.0,177.8 1996.3,177.7 1996.6,177.8 1996.9,177.8 1997.2,177.8 1997.5,177.8 1997.8,177.7 1998.1,177.7 1998.4,177.7 1998.7,177.8 1999.0,175.1 1999.3,172.0 1999.6,169.0 1999.9,161.5 2000.2,160.8 2000.5,155.0 2000.8,153.3 2001.1,143.0 2001.4,143.6 2001.7,139.2 2002.0,137.9 2002.3,132.8 2002.6,138.5 2002.9,133.6 2003.2,138.6 2003.5,126.4 2003.8,123.0 2004.1,117.5 2004.4,124.9 2004.7,115.5 2005.0,124.0 2005.3,121.2 2005.6,103.9 2005.9,105.2 2006.2,100.4 2006.5,102.8 2006.8,103.6 2007.1,104.7 2007.4,110.3 2007.7,108.1 2008.0,115.7 2008.3,111.6 2008.6,114.5 2008.9,118.6 2009.2,112.9 2009.5,123.5 2009.8,113.9 2010.1,113.0 2010.4,120.5 2010.7,113.5 2011.0,115.0 2011.3,123.3 2011.6,121.0 2011.9,118.4 2012.2,118.0 2012.5,118.3 2012.8,124.0 2013.1,122.4 2013.4,119.3 2013.7,124.5 2014.0,116.8 2014.3,109.5 2014.6,113.3 2014.9,109.5 2015.2,108.6 2015.5,116.4 2015.8,113.6 2016.1,110.7 2016.4,113.1 2016.7,107.3 2017.0,113.8 2017.3,114.0 2017.6,109.0 2017.9,108.0 2018.2,118.0 2018.5,120.0 2018.8,119.5 2019.1,118.0 2019.4,117.6 2019.7,118.2 2020.0,116.6 2020.3,110.5 2020.6,113.8 2020.9,104.6" fill="none" stroke="#7edbbf" stroke-width="0.85" stroke-linejoin="round"/>
<line x1="1744.0" y1="73.9" x2="1744.0" y2="179.2" stroke="#000" stroke-width="2.0"/>
<line x1="1743.0" y1="178.2" x2="2023" y2="178.2" stroke="#000" stroke-width="2.0"/>
<polygon points="2021.8,175.7 2028.2,178.2 2021.8,180.7" fill="#000"/>
<line x1="1740.0" y1="90.9" x2="1744.0" y2="90.9" stroke="#000" stroke-width="1.5"/>
<text x="1731.3" y="98.10000000000001" font-size="20.6" text-anchor="end">150</text>
<line x1="1740.0" y1="120.5" x2="1744.0" y2="120.5" stroke="#000" stroke-width="1.5"/>
<text x="1731.3" y="127.7" font-size="20.6" text-anchor="end">100</text>
<line x1="1740.0" y1="149.6" x2="1744.0" y2="149.6" stroke="#000" stroke-width="1.5"/>
<text x="1731.3" y="156.79999999999998" font-size="20.6" text-anchor="end">50</text>
<line x1="1790.4" y1="178.2" x2="1790.4" y2="182.39999999999998" stroke="#000" stroke-width="1.5"/>
<line x1="1882.9" y1="178.2" x2="1882.9" y2="182.39999999999998" stroke="#000" stroke-width="1.5"/>
<line x1="1975.5" y1="178.2" x2="1975.5" y2="182.39999999999998" stroke="#000" stroke-width="1.5"/>
<text x="1883.4" y="71.5" font-size="20.6" text-anchor="middle">Total enzyme</text>
<polygon points="1744.6,212.5 1745.1,213.0 1745.6,213.8 1746.1,213.8 1746.6,213.7 1747.1,214.4 1747.6,214.7 1748.1,215.0 1748.6,213.7 1749.1,214.1 1749.6,215.1 1750.1,214.9 1750.6,213.5 1751.1,213.8 1751.6,214.5 1752.1,215.7 1752.6,213.5 1753.1,215.4 1753.6,215.8 1754.1,215.0 1754.6,216.1 1755.1,217.3 1755.6,217.9 1756.1,218.9 1756.6,219.8 1757.1,221.4 1757.6,222.1 1758.1,224.7 1758.1,236.5 1757.6,235.4 1757.1,231.7 1756.6,231.4 1756.1,229.7 1755.6,229.7 1755.1,229.1 1754.6,228.2 1754.1,227.0 1753.6,226.3 1753.1,227.4 1752.6,227.5 1752.1,225.9 1751.6,225.9 1751.1,225.4 1750.6,226.3 1750.1,226.1 1749.6,225.6 1749.1,225.7 1748.6,226.2 1748.1,227.2 1747.6,226.0 1747.1,227.0 1746.6,225.6 1746.1,226.8 1745.6,225.1 1745.1,225.0 1744.6,225.1" fill="#2540d6"/>
<polyline points="1744.6,213.1 1745.0,229.2 1745.3,211.9 1745.7,225.7 1746.0,213.3 1746.4,226.8 1746.8,213.8 1747.1,226.5 1747.5,208.3 1747.8,230.2 1748.2,211.6 1748.6,225.3 1748.9,213.5 1749.3,225.9 1749.6,210.5 1750.0,225.9 1750.4,210.2 1750.7,225.8 1751.1,214.3 1751.4,231.5 1751.8,213.8 1752.2,230.8 1752.5,214.5 1752.9,226.7 1753.2,213.9 1753.6,227.7 1754.0,215.3 1754.3,227.3 1754.7,217.1 1755.0,232.7 1755.4,212.2 1755.8,235.1 1756.1,218.5 1756.5,230.2 1756.8,219.5 1757.2,234.6 1757.6,221.4 1757.9,235.1 1758.3,225.3" fill="none" stroke="#2540d6" stroke-opacity="0.6" stroke-width="0.55"/>
<line x1="1758.4" y1="298.2" x2="1758.4" y2="227.7" stroke="#2540d6" stroke-opacity="0.6" stroke-width="0.9"/>
<polygon points="1804.4,214.1 1804.9,214.0 1805.4,212.8 1805.9,212.9 1806.4,213.4 1806.9,213.7 1807.4,213.2 1807.9,214.8 1808.4,214.7 1808.9,213.2 1809.4,215.0 1809.9,214.6 1810.4,214.5 1810.9,215.0 1811.4,213.9 1811.9,213.6 1812.4,212.9 1812.9,215.0 1813.4,215.1 1813.9,213.6 1814.4,214.7 1814.9,214.4 1815.4,213.5 1815.9,214.2 1816.4,215.4 1816.9,212.6 1817.4,214.9 1817.9,215.1 1818.4,213.7 1818.9,214.4 1819.4,211.5 1819.9,213.3 1820.4,212.7 1820.9,212.5 1821.4,213.5 1821.9,213.0 1822.4,213.9 1822.9,212.9 1823.4,212.4 1823.9,213.0 1824.4,212.2 1824.9,213.5 1825.4,213.6 1825.9,213.2 1826.4,213.6 1826.9,212.8 1827.4,212.8 1827.9,213.4 1828.4,213.3 1828.9,211.5 1829.4,213.5 1829.9,212.9 1830.4,213.9 1830.9,214.1 1831.4,212.1 1831.9,211.9 1832.4,214.0 1832.9,214.0 1833.4,214.3 1833.9,213.3 1834.4,214.3 1834.9,213.3 1835.4,214.5 1835.9,213.8 1836.4,213.9 1836.9,214.5 1837.4,214.7 1837.9,214.7 1838.4,214.7 1838.9,214.9 1839.4,214.6 1839.9,213.7 1840.4,215.2 1840.9,214.8 1841.4,215.1 1841.9,214.1 1842.4,213.4 1842.9,213.8 1843.4,213.7 1843.9,214.1 1844.4,214.8 1844.9,213.6 1845.4,215.1 1845.9,214.9 1846.4,211.6 1846.9,213.8 1847.4,214.2 1847.9,214.5 1848.4,213.8 1848.9,214.4 1849.4,212.7 1849.9,214.0 1850.4,214.3 1850.9,213.7 1851.4,214.0 1851.9,213.2 1852.4,214.1 1852.9,212.8 1853.4,213.9 1853.9,213.8 1854.4,213.4 1854.9,214.1 1855.4,214.1 1855.9,213.3 1856.4,212.7 1856.9,213.7 1857.4,214.7 1857.9,213.9 1858.4,214.0 1858.9,214.7 1859.4,214.5 1859.9,213.8 1860.4,214.7 1860.9,214.0 1861.4,214.7 1861.9,213.6 1862.4,214.9 1862.9,214.9 1863.4,215.1 1863.9,215.4 1864.4,214.0 1864.9,215.2 1865.4,213.0 1865.9,215.4 1866.4,212.5 1866.9,214.5 1867.4,213.4 1867.9,214.3 1868.4,213.9 1868.9,215.1 1869.4,215.0 1869.9,214.0 1870.4,214.4 1870.9,213.9 1871.4,213.9 1871.9,213.0 1872.4,213.8 1872.9,214.5 1873.4,214.8 1873.9,215.0 1874.4,214.0 1874.9,215.3 1875.4,214.6 1875.9,214.0 1876.4,214.7 1876.9,215.0 1877.4,213.4 1877.9,213.2 1878.4,213.7 1878.9,214.4 1879.4,213.7 1879.9,212.0 1880.4,213.9 1880.9,213.6 1881.4,213.8 1881.9,213.5 1882.4,211.4 1882.9,213.7 1883.4,213.2 1883.9,213.3 1884.4,212.8 1884.9,213.5 1885.4,213.5 1885.9,213.3 1886.4,213.3 1886.9,211.9 1887.4,213.2 1887.9,213.9 1888.4,213.4 1888.9,213.0 1889.4,212.6 1889.9,213.5 1890.4,214.3 1890.9,213.7 1891.4,213.2 1891.9,211.9 1892.4,213.3 1892.9,214.1 1893.4,214.6 1893.9,212.3 1894.4,214.3 1894.9,214.5 1895.4,213.8 1895.9,212.9 1896.4,214.3 1896.9,214.8 1897.4,214.0 1897.9,212.6 1898.4,213.8 1898.9,214.7 1899.4,214.6 1899.9,214.7 1900.4,214.0 1900.9,213.9 1901.4,213.6 1901.9,214.4 1902.4,214.3 1902.9,213.9 1903.4,214.0 1903.9,214.4 1904.4,212.8 1904.9,214.1 1905.4,213.3 1905.9,214.6 1906.4,214.4 1906.9,213.6 1907.4,214.3 1907.9,214.8 1908.4,215.1 1908.9,214.8 1909.4,214.7 1909.9,214.4 1910.4,213.1 1910.9,214.0 1911.4,214.8 1911.9,214.0 1912.4,213.3 1912.9,213.5 1913.4,214.4 1913.9,214.9 1914.4,214.0 1914.9,214.8 1915.4,215.1 1915.9,214.7 1916.4,214.5 1916.9,215.1 1917.4,213.7 1917.9,214.8 1918.4,214.5 1918.9,214.4 1919.4,214.2 1919.9,212.9 1920.4,214.7 1920.9,215.0 1921.4,215.2 1921.9,212.1 1922.4,215.2 1922.9,213.3 1923.4,214.3 1923.9,213.6 1924.4,214.3 1924.9,214.3 1925.4,214.1 1925.9,214.5 1926.4,213.7 1926.9,214.1 1927.4,213.4 1927.9,213.0 1928.4,212.3 1928.9,213.4 1929.4,213.3 1929.9,213.9 1930.4,212.7 1930.9,213.8 1931.4,212.4 1931.9,213.1 1932.4,213.8 1932.9,213.2 1933.4,214.1 1933.9,213.5 1934.4,213.8 1934.9,214.3 1935.4,213.5 1935.9,214.5 1936.4,214.1 1936.9,215.0 1937.4,213.7 1937.9,214.8 1938.4,214.0 1938.9,215.3 1939.4,215.1 1939.9,215.4 1940.4,216.6 1940.9,217.3 1941.4,216.6 1941.9,219.7 1942.4,221.3 1942.9,222.8 1943.4,224.2 1943.4,236.0 1942.9,233.3 1942.4,233.1 1941.9,229.8 1941.4,229.4 1940.9,228.4 1940.4,227.8 1939.9,228.2 1939.4,226.5 1938.9,226.7 1938.4,225.3 1937.9,225.3 1937.4,225.0 1936.9,226.2 1936.4,224.7 1935.9,224.9 1935.4,227.0 1934.9,225.3 1934.4,225.3 1933.9,224.5 1933.4,225.9 1932.9,225.5 1932.4,224.6 1931.9,224.9 1931.4,225.4 1930.9,224.7 1930.4,225.1 1929.9,224.6 1929.4,224.9 1928.9,225.8 1928.4,225.9 1927.9,225.4 1927.4,225.5 1926.9,224.6 1926.4,225.6 1925.9,226.9 1925.4,225.5 1924.9,225.6 1924.4,225.0 1923.9,224.7 1923.4,225.8 1922.9,225.9 1922.4,225.2 1921.9,226.9 1921.4,225.5 1920.9,227.9 1920.4,225.3 1919.9,227.7 1919.4,225.8 1918.9,226.0 1918.4,225.2 1917.9,226.6 1917.4,225.4 1916.9,225.2 1916.4,225.6 1915.9,226.7 1915.4,226.7 1914.9,226.3 1914.4,224.7 1913.9,225.9 1913.4,226.7 1912.9,226.6 1912.4,224.8 1911.9,225.3 1911.4,225.8 1910.9,227.2 1910.4,225.3 1909.9,225.0 1909.4,226.2 1908.9,225.7 1908.4,225.8 1907.9,225.1 1907.4,225.5 1906.9,225.4 1906.4,225.2 1905.9,224.9 1905.4,225.5 1904.9,225.4 1904.4,224.5 1903.9,226.7 1903.4,224.8 1902.9,227.0 1902.4,226.3 1901.9,226.0 1901.4,224.6 1900.9,227.1 1900.4,227.3 1899.9,225.5 1899.4,226.4 1898.9,225.3 1898.4,224.5 1897.9,225.6 1897.4,226.0 1896.9,224.9 1896.4,225.6 1895.9,224.8 1895.4,226.6 1894.9,225.3 1894.4,226.6 1893.9,225.8 1893.4,226.3 1892.9,225.5 1892.4,225.6 1891.9,225.3 1891.4,224.5 1890.9,224.2 1890.4,224.9 1889.9,225.4 1889.4,225.5 1888.9,225.2 1888.4,225.0 1887.9,224.1 1887.4,224.4 1886.9,224.7 1886.4,223.9 1885.9,223.7 1885.4,224.2 1884.9,226.4 1884.4,223.9 1883.9,224.6 1883.4,224.3 1882.9,224.4 1882.4,223.8 1881.9,224.1 1881.4,225.4 1880.9,225.1 1880.4,225.2 1879.9,224.9 1879.4,225.0 1878.9,225.1 1878.4,226.4 1877.9,225.3 1877.4,224.9 1876.9,225.4 1876.4,226.4 1875.9,227.3 1875.4,225.4 1874.9,225.4 1874.4,226.7 1873.9,225.8 1873.4,225.4 1872.9,226.0 1872.4,225.3 1871.9,225.0 1871.4,225.0 1870.9,225.4 1870.4,226.0 1869.9,226.4 1869.4,225.8 1868.9,226.8 1868.4,227.8 1867.9,226.8 1867.4,226.4 1866.9,225.9 1866.4,226.5 1865.9,227.0 1865.4,225.6 1864.9,226.4 1864.4,227.4 1863.9,225.3 1863.4,226.5 1862.9,226.8 1862.4,226.1 1861.9,225.6 1861.4,225.7 1860.9,225.6 1860.4,225.5 1859.9,226.0 1859.4,225.6 1858.9,226.0 1858.4,226.8 1857.9,226.0 1857.4,225.6 1856.9,224.9 1856.4,225.2 1855.9,225.9 1855.4,224.7 1854.9,224.6 1854.4,225.2 1853.9,225.0 1853.4,225.0 1852.9,224.5 1852.4,225.4 1851.9,225.2 1851.4,224.7 1850.9,224.5 1850.4,225.0 1849.9,225.5 1849.4,224.8 1848.9,224.9 1848.4,227.1 1847.9,225.4 1847.4,225.2 1846.9,225.1 1846.4,225.5 1845.9,224.9 1845.4,226.9 1844.9,227.8 1844.4,225.4 1843.9,225.2 1843.4,226.5 1842.9,225.3 1842.4,226.2 1841.9,225.9 1841.4,225.6 1840.9,226.1 1840.4,225.6 1839.9,225.3 1839.4,226.5 1838.9,226.3 1838.4,225.2 1837.9,226.8 1837.4,226.0 1836.9,224.8 1836.4,225.6 1835.9,225.8 1835.4,224.8 1834.9,226.0 1834.4,224.9 1833.9,224.8 1833.4,225.8 1832.9,225.6 1832.4,225.0 1831.9,225.1 1831.4,224.2 1830.9,224.8 1830.4,227.3 1829.9,224.9 1829.4,225.6 1828.9,224.2 1828.4,224.3 1827.9,223.7 1827.4,223.4 1826.9,224.3 1826.4,224.4 1825.9,224.7 1825.4,224.5 1824.9,225.0 1824.4,225.4 1823.9,224.5 1823.4,224.4 1822.9,224.2 1822.4,224.4 1821.9,226.5 1821.4,224.3 1820.9,225.7 1820.4,224.9 1819.9,225.9 1819.4,224.9 1818.9,224.7 1818.4,226.3 1817.9,225.2 1817.4,226.6 1816.9,226.3 1816.4,226.8 1815.9,226.8 1815.4,226.2 1814.9,227.3 1814.4,225.8 1813.9,226.0 1813.4,225.6 1812.9,226.0 1812.4,225.7 1811.9,225.2 1811.4,227.5 1810.9,227.7 1810.4,225.7 1809.9,226.4 1809.4,225.2 1808.9,225.8 1808.4,226.6 1807.9,228.0 1807.4,226.5 1806.9,225.7 1806.4,224.8 1805.9,224.9 1805.4,225.2 1804.9,224.5 1804.4,225.3" fill="#2540d6"/>
<polyline points="1804.4,214.0 1804.8,227.0 1805.1,210.7 1805.5,226.7 1805.8,214.1 1806.2,226.5 1806.6,211.3 1806.9,225.0 1807.3,207.6 1807.6,225.5 1808.0,214.5 1808.4,226.9 1808.7,215.0 1809.1,226.8 1809.4,214.2 1809.8,231.0 1810.2,214.6 1810.5,226.6 1810.9,215.3 1811.2,226.3 1811.6,213.3 1812.0,225.6 1812.3,214.5 1812.7,227.9 1813.0,214.3 1813.4,225.9 1813.8,214.9 1814.1,225.3 1814.5,212.5 1814.8,226.5 1815.2,214.7 1815.6,225.6 1815.9,213.0 1816.3,229.2 1816.6,214.6 1817.0,226.5 1817.4,209.4 1817.7,225.8 1818.1,214.1 1818.4,225.9 1818.8,212.8 1819.2,225.3 1819.5,209.2 1819.9,227.0 1820.2,213.4 1820.6,224.2 1821.0,209.8 1821.3,226.7 1821.7,213.2 1822.0,226.2 1822.4,213.6 1822.8,224.6 1823.1,211.4 1823.5,225.4 1823.8,212.0 1824.2,225.4 1824.6,212.8 1824.9,225.0 1825.3,211.4 1825.6,231.9 1826.0,213.2 1826.4,229.0 1826.7,212.9 1827.1,224.9 1827.4,212.8 1827.8,229.9 1828.2,211.3 1828.5,224.3 1828.9,210.2 1829.2,225.5 1829.6,212.4 1830.0,225.1 1830.3,212.9 1830.7,226.9 1831.0,213.5 1831.4,224.2 1831.8,211.9 1832.1,224.8 1832.5,213.6 1832.8,224.8 1833.2,214.4 1833.6,225.6 1833.9,212.5 1834.3,227.7 1834.6,213.7 1835.0,224.5 1835.4,214.1 1835.7,225.0 1836.1,213.7 1836.4,224.6 1836.8,211.9 1837.2,226.3 1837.5,212.0 1837.9,229.6 1838.2,210.8 1838.6,225.6 1839.0,214.8 1839.3,226.1 1839.7,211.5 1840.0,229.4 1840.4,213.5 1840.8,226.1 1841.1,213.5 1841.5,225.7 1841.8,214.9 1842.2,225.1 1842.6,215.0 1842.9,229.8 1843.3,213.4 1843.6,225.9 1844.0,211.8 1844.4,226.7 1844.7,214.7 1845.1,227.3 1845.4,213.9 1845.8,226.8 1846.2,208.6 1846.5,224.9 1846.9,209.6 1847.2,225.2 1847.6,214.6 1848.0,225.5 1848.3,211.7 1848.7,225.4 1849.0,214.5 1849.4,227.3 1849.8,212.7 1850.1,227.0 1850.5,211.7 1850.8,229.9 1851.2,213.7 1851.6,227.9 1851.9,213.2 1852.3,225.6 1852.6,214.3 1853.0,228.4 1853.4,212.3 1853.7,225.2 1854.1,214.2 1854.4,224.9 1854.8,213.4 1855.2,226.2 1855.5,211.3 1855.9,225.4 1856.2,213.9 1856.6,224.8 1857.0,211.1 1857.3,225.3 1857.7,211.7 1858.0,227.2 1858.4,214.1 1858.8,225.3 1859.1,214.7 1859.5,225.5 1859.8,212.3 1860.2,231.9 1860.6,213.2 1860.9,225.8 1861.3,212.4 1861.6,227.2 1862.0,212.0 1862.4,226.9 1862.7,213.2 1863.1,226.0 1863.4,215.1 1863.8,225.6 1864.2,211.5 1864.5,226.7 1864.9,214.9 1865.2,229.7 1865.6,214.1 1866.0,225.7 1866.3,215.1 1866.7,225.3 1867.0,213.6 1867.4,226.0 1867.8,211.5 1868.1,227.8 1868.5,213.5 1868.8,225.9 1869.2,212.5 1869.6,228.3 1869.9,213.8 1870.3,227.1 1870.6,211.9 1871.0,226.1 1871.4,213.5 1871.7,225.4 1872.1,213.8 1872.4,225.6 1872.8,214.8 1873.2,228.2 1873.5,213.2 1873.9,227.1 1874.2,210.9 1874.6,228.4 1875.0,214.2 1875.3,225.9 1875.7,213.8 1876.0,229.1 1876.4,209.0 1876.8,231.3 1877.1,214.0 1877.5,226.6 1877.8,214.6 1878.2,226.0 1878.6,212.0 1878.9,225.1 1879.3,214.5 1879.6,225.4 1880.0,214.0 1880.4,224.8 1880.7,214.2 1881.1,225.1 1881.4,213.6 1881.8,228.7 1882.2,213.8 1882.5,223.9 1882.9,213.2 1883.2,227.7 1883.6,210.2 1884.0,224.4 1884.3,213.7 1884.7,226.3 1885.0,213.1 1885.4,228.6 1885.8,212.8 1886.1,225.0 1886.5,213.4 1886.8,227.0 1887.2,209.2 1887.6,227.3 1887.9,211.3 1888.3,225.1 1888.6,214.1 1889.0,224.3 1889.4,212.8 1889.7,227.4 1890.1,214.0 1890.4,225.2 1890.8,213.2 1891.2,226.3 1891.5,214.2 1891.9,224.5 1892.2,214.2 1892.6,226.2 1893.0,213.7 1893.3,231.3 1893.7,213.4 1894.0,228.9 1894.4,214.3 1894.8,224.7 1895.1,211.1 1895.5,225.8 1895.8,214.4 1896.2,226.4 1896.6,213.2 1896.9,225.3 1897.3,210.5 1897.6,227.8 1898.0,213.3 1898.4,225.0 1898.7,213.9 1899.1,229.1 1899.4,213.7 1899.8,226.3 1900.2,214.4 1900.5,226.4 1900.9,207.3 1901.2,228.9 1901.6,213.7 1902.0,225.3 1902.3,213.1 1902.7,226.3 1903.0,212.1 1903.4,224.9 1903.8,212.2 1904.1,233.0 1904.5,214.2 1904.8,225.6 1905.2,213.4 1905.6,228.7 1905.9,214.5 1906.3,224.8 1906.6,214.0 1907.0,228.7 1907.4,214.3 1907.7,225.3 1908.1,212.7 1908.4,225.2 1908.8,212.8 1909.2,226.2 1909.5,213.9 1909.9,228.1 1910.2,213.8 1910.6,225.8 1911.0,213.9 1911.3,228.0 1911.7,211.6 1912.0,227.3 1912.4,214.5 1912.8,225.8 1913.1,213.5 1913.5,226.2 1913.8,208.2 1914.2,225.2 1914.6,213.0 1914.9,227.7 1915.3,214.1 1915.6,225.6 1916.0,214.9 1916.4,227.7 1916.7,214.3 1917.1,226.2 1917.4,214.6 1917.8,226.0 1918.2,209.3 1918.5,227.1 1918.9,211.1 1919.2,226.1 1919.6,211.8 1920.0,228.4 1920.3,214.6 1920.7,231.0 1921.0,215.0 1921.4,226.8 1921.8,214.2 1922.1,227.6 1922.5,214.5 1922.8,227.1 1923.2,212.8 1923.6,225.1 1923.9,213.0 1924.3,226.2 1924.6,214.0 1925.0,225.2 1925.4,214.5 1925.7,227.1 1926.1,213.4 1926.4,228.7 1926.8,213.8 1927.2,227.4 1927.5,213.9 1927.9,224.8 1928.2,214.0 1928.6,227.6 1929.0,210.2 1929.3,225.3 1929.7,213.4 1930.0,227.6 1930.4,213.1 1930.8,224.6 1931.1,212.6 1931.5,225.7 1931.8,211.5 1932.2,226.9 1932.6,202.2 1932.9,224.8 1933.3,208.6 1933.6,225.0 1934.0,211.9 1934.4,225.8 1934.7,213.3 1935.1,224.7 1935.4,213.9 1935.8,226.3 1936.2,214.4 1936.5,225.7 1936.9,214.2 1937.2,226.4 1937.6,214.6 1938.0,227.3 1938.3,214.2 1938.7,225.3 1939.0,208.6 1939.4,228.4 1939.8,213.5 1940.1,229.9 1940.5,216.6 1940.8,227.8 1941.2,218.1 1941.6,229.5 1941.9,217.3 1942.3,231.2 1942.6,216.1 1943.0,234.3 1943.4,221.2" fill="none" stroke="#2540d6" stroke-opacity="0.6" stroke-width="0.55"/>
<line x1="1804.4" y1="298.2" x2="1804.4" y2="219.7" stroke="#2540d6" stroke-opacity="0.6" stroke-width="0.9"/>
<line x1="1943.6" y1="298.2" x2="1943.6" y2="227.7" stroke="#2540d6" stroke-opacity="0.6" stroke-width="0.9"/>
<polygon points="1998.5,213.0 1999.0,213.8 1999.5,211.8 2000.0,214.3 2000.5,213.4 2001.0,213.8 2001.5,211.9 2002.0,213.1 2002.5,211.9 2003.0,214.1 2003.5,212.2 2004.0,213.8 2004.5,214.1 2005.0,214.4 2005.5,214.0 2006.0,212.6 2006.5,213.0 2007.0,214.1 2007.5,214.1 2008.0,214.9 2008.5,214.9 2009.0,214.3 2009.5,214.7 2010.0,214.8 2010.5,214.6 2011.0,214.5 2011.5,214.4 2012.0,213.8 2012.5,215.1 2013.0,212.2 2013.5,212.5 2014.0,214.2 2014.5,214.4 2015.0,212.4 2015.5,213.9 2016.0,213.6 2016.5,213.8 2017.0,211.9 2017.5,214.1 2018.0,214.2 2018.5,213.3 2019.0,214.3 2019.5,213.3 2020.0,212.4 2020.5,212.9 2021.0,212.6 2021.0,225.3 2020.5,225.1 2020.0,226.0 2019.5,225.3 2019.0,225.9 2018.5,224.7 2018.0,224.5 2017.5,225.6 2017.0,226.7 2016.5,225.5 2016.0,225.3 2015.5,226.1 2015.0,225.2 2014.5,226.2 2014.0,226.5 2013.5,227.6 2013.0,225.2 2012.5,226.7 2012.0,224.9 2011.5,225.6 2011.0,225.0 2010.5,225.1 2010.0,225.9 2009.5,226.0 2009.0,226.5 2008.5,225.6 2008.0,225.4 2007.5,226.6 2007.0,226.1 2006.5,224.5 2006.0,225.3 2005.5,226.5 2005.0,224.6 2004.5,226.5 2004.0,225.8 2003.5,224.5 2003.0,225.9 2002.5,224.6 2002.0,224.3 2001.5,226.0 2001.0,224.9 2000.5,224.7 2000.0,226.0 1999.5,224.7 1999.0,225.3 1998.5,226.5" fill="#2540d6"/>
<polyline points="1998.5,212.8 1998.9,226.7 1999.2,212.2 1999.6,226.0 1999.9,211.9 2000.3,226.1 2000.7,210.2 2001.0,226.3 2001.4,206.5 2001.7,226.1 2002.1,211.5 2002.5,224.3 2002.8,211.1 2003.2,227.0 2003.5,213.3 2003.9,224.7 2004.3,214.2 2004.6,225.1 2005.0,212.1 2005.3,225.7 2005.7,213.0 2006.1,228.9 2006.4,211.6 2006.8,226.3 2007.1,214.8 2007.5,225.0 2007.9,213.3 2008.2,225.4 2008.6,213.4 2008.9,226.6 2009.3,212.8 2009.7,228.4 2010.0,213.9 2010.4,225.7 2010.7,207.9 2011.1,226.1 2011.5,214.0 2011.8,226.2 2012.2,212.7 2012.5,225.3 2012.9,214.2 2013.3,225.2 2013.6,212.5 2014.0,229.2 2014.3,209.8 2014.7,226.4 2015.1,213.7 2015.4,228.1 2015.8,213.8 2016.1,225.1 2016.5,214.1 2016.9,224.6 2017.2,214.1 2017.6,228.6 2017.9,213.2 2018.3,224.3 2018.7,213.2 2019.0,224.9 2019.4,214.3 2019.7,224.5 2020.1,211.2 2020.5,225.5 2020.8,210.2" fill="none" stroke="#2540d6" stroke-opacity="0.6" stroke-width="0.55"/>
<line x1="1998.5" y1="298.2" x2="1998.5" y2="219.7" stroke="#2540d6" stroke-opacity="0.6" stroke-width="0.9"/>
<line x1="1744.0" y1="192.4" x2="1744.0" y2="299.2" stroke="#000" stroke-width="2.0"/>
<line x1="1743.0" y1="298.2" x2="2023" y2="298.2" stroke="#000" stroke-width="2.0"/>
<polygon points="2021.8,295.7 2028.2,298.2 2021.8,300.7" fill="#000"/>
<line x1="1740.0" y1="200.2" x2="1744.0" y2="200.2" stroke="#000" stroke-width="1.5"/>
<text x="1731.3" y="207.39999999999998" font-size="20.6" text-anchor="end">600</text>
<line x1="1740.0" y1="232.8" x2="1744.0" y2="232.8" stroke="#000" stroke-width="1.5"/>
<text x="1731.3" y="240.0" font-size="20.6" text-anchor="end">400</text>
<line x1="1740.0" y1="265.3" x2="1744.0" y2="265.3" stroke="#000" stroke-width="1.5"/>
<text x="1731.3" y="272.5" font-size="20.6" text-anchor="end">200</text>
<line x1="1790.4" y1="298.2" x2="1790.4" y2="302.4" stroke="#000" stroke-width="1.5"/>
<line x1="1882.9" y1="298.2" x2="1882.9" y2="302.4" stroke="#000" stroke-width="1.5"/>
<line x1="1975.5" y1="298.2" x2="1975.5" y2="302.4" stroke="#000" stroke-width="1.5"/>
<text x="1883.4" y="263.6" font-size="20.6" text-anchor="middle">Metabolite</text>
<text x="1790" y="325.3" font-size="20.8" text-anchor="middle">30</text>
<text x="1882.8" y="325.3" font-size="20.8" text-anchor="middle">90</text>
<text x="1975.8" y="325.3" font-size="20.8" text-anchor="middle">150</text>
<text x="1883.5" y="354" font-size="21" text-anchor="middle">Time (cell cycles)</text>
<polyline points="1744.6,496.4 1745.0,498.0 1745.4,497.9 1745.8,497.2 1746.2,493.5 1746.6,488.8 1747.0,483.7 1747.4,478.7 1747.8,466.0 1748.2,472.0 1748.6,477.8 1749.0,474.4 1749.4,481.6 1749.8,486.0 1750.2,488.9 1750.6,491.6 1751.0,489.0 1751.4,489.1 1751.8,491.4 1752.2,491.6 1752.6,496.8 1753.0,491.8 1753.4,494.9 1753.8,497.7 1754.2,497.3 1754.6,499.1 1755.0,499.2 1755.4,498.1 1755.8,498.6 1756.2,498.7 1756.6,498.8 1757.0,499.1 1757.4,499.5 1757.8,499.6 1758.2,499.6 1758.6,499.7 1759.0,499.8 1759.4,499.9 1759.8,500.0 1760.2,500.1 1760.6,500.1 1761.0,500.0 1761.4,499.7 1761.8,499.0 1762.2,498.4 1762.6,496.8 1763.0,495.9 1763.4,491.7 1763.8,487.1 1764.2,481.3 1764.6,469.1 1765.0,452.0 1765.4,445.9 1765.8,451.7 1766.2,465.4 1766.6,465.0 1767.0,469.2 1767.4,474.5 1767.8,481.7 1768.2,480.3 1768.6,481.6 1769.0,484.2 1769.4,488.0 1769.8,485.2 1770.2,478.5 1770.6,468.0 1771.0,476.2 1771.4,475.7 1771.8,478.8 1772.2,481.0 1772.6,484.5 1773.0,487.1 1773.4,490.9 1773.8,492.6 1774.2,490.2 1774.6,490.1 1775.0,494.8 1775.4,490.0 1775.8,484.5 1776.2,478.1 1776.6,459.8 1777.0,456.4 1777.4,464.5 1777.8,464.6 1778.2,465.6 1778.6,472.3 1779.0,475.8 1779.4,484.5 1779.8,482.5 1780.2,485.8 1780.6,486.0 1781.0,487.2 1781.4,481.6 1781.8,468.1 1782.2,456.3 1782.6,448.9 1783.0,457.4 1783.4,457.9 1783.8,474.0 1784.2,473.1 1784.6,470.3 1785.0,479.1 1785.4,480.5 1785.8,483.5 1786.2,487.2 1786.6,488.2 1787.0,488.9 1787.4,491.3 1787.8,492.8 1788.2,493.1 1788.6,489.0 1789.0,484.7 1789.4,484.8 1789.8,483.3 1790.2,480.5 1790.6,485.7 1791.0,486.0 1791.4,487.2 1791.8,488.0 1792.2,496.2 1792.6,489.0 1793.0,480.1 1793.4,466.6 1793.8,457.1 1794.2,466.5 1794.6,469.9 1795.0,474.4 1795.4,475.8 1795.8,483.2 1796.2,479.6 1796.6,482.7 1797.0,488.4 1797.4,488.8 1797.8,491.2 1798.2,487.6 1798.6,495.0 1799.0,493.6 1799.4,494.2 1799.8,495.0 1800.2,494.9 1800.6,499.3 1801.0,495.8 1801.4,496.4 1801.8,491.0 1802.2,484.7 1802.6,479.6 1803.0,468.2 1803.4,461.1 1803.8,466.1 1804.2,473.3 1804.6,474.4 1805.0,474.5 1805.4,478.6 1805.8,477.0 1806.2,485.0 1806.6,488.3 1807.0,489.0 1807.4,489.5 1807.8,491.2 1808.2,495.7 1808.6,494.2 1809.0,494.0 1809.4,496.3 1809.8,495.2 1810.2,494.4 1810.6,497.3 1811.0,495.3 1811.4,497.7 1811.8,495.7 1812.2,495.5 1812.6,492.8 1813.0,491.1 1813.4,481.5 1813.8,482.7 1814.2,477.1 1814.6,476.4 1815.0,482.4 1815.4,480.3 1815.8,486.1 1816.2,486.4 1816.6,488.0 1817.0,488.7 1817.4,490.0 1817.8,490.7 1818.2,493.2 1818.6,490.8 1819.0,497.3 1819.4,494.9 1819.8,493.3 1820.2,493.8 1820.6,492.9 1821.0,495.2 1821.4,494.6 1821.8,500.3 1822.2,498.5 1822.6,496.6 1823.0,498.8 1823.4,498.2 1823.8,498.7 1824.2,497.4 1824.6,491.6 1825.0,489.8 1825.4,487.0 1825.8,486.4 1826.2,490.1 1826.6,490.3 1827.0,497.5 1827.4,492.2 1827.8,484.6 1828.2,480.9 1828.6,472.4 1829.0,462.4 1829.4,464.5 1829.8,470.8 1830.2,472.8 1830.6,475.7 1831.0,480.7 1831.4,484.4 1831.8,468.0 1832.2,450.6 1832.6,431.7 1833.0,444.4 1833.4,449.9 1833.8,448.1 1834.2,463.6 1834.6,466.4 1835.0,468.4 1835.4,474.4 1835.8,480.8 1836.2,483.4 1836.6,482.6 1837.0,487.4 1837.4,491.8 1837.8,492.4 1838.2,489.1 1838.6,487.6 1839.0,486.0 1839.4,492.0 1839.8,489.0 1840.2,489.1 1840.6,491.7 1841.0,495.1 1841.4,496.2 1841.8,495.1 1842.2,496.3 1842.6,496.8 1843.0,498.6 1843.4,497.5 1843.8,499.4 1844.2,498.2 1844.6,498.6 1845.0,499.1 1845.4,499.1 1845.8,498.4 1846.2,498.7 1846.6,495.9 1847.0,492.0 1847.4,490.7 1847.8,481.2 1848.2,479.8 1848.6,483.4 1849.0,485.2 1849.4,488.8 1849.8,489.1 1850.2,490.0 1850.6,491.3 1851.0,489.3 1851.4,497.0 1851.8,495.2 1852.2,497.3 1852.6,494.0 1853.0,492.8 1853.4,490.1 1853.8,491.8 1854.2,489.9 1854.6,492.8 1855.0,496.8 1855.4,495.9 1855.8,495.4 1856.2,497.8 1856.6,491.1 1857.0,499.0 1857.4,497.6 1857.8,498.1 1858.2,498.0 1858.6,498.6 1859.0,498.7 1859.4,498.8 1859.8,499.3 1860.2,499.4 1860.6,499.5 1861.0,499.6 1861.4,499.7 1861.8,499.5 1862.2,498.8 1862.6,500.3 1863.0,495.2 1863.4,495.5 1863.8,491.3 1864.2,484.2 1864.6,487.7 1865.0,489.9 1865.4,486.8 1865.8,492.5 1866.2,496.0 1866.6,494.6 1867.0,493.8 1867.4,491.5 1867.8,495.7 1868.2,494.9 1868.6,499.2 1869.0,496.0 1869.4,500.3 1869.8,496.2 1870.2,498.5 1870.6,498.6 1871.0,498.9 1871.4,498.8 1871.8,498.6 1872.2,498.0 1872.6,493.5 1873.0,489.2 1873.4,488.7 1873.8,478.3 1874.2,463.1 1874.6,467.0 1875.0,470.1 1875.4,474.4 1875.8,483.2 1876.2,477.0 1876.6,484.8 1877.0,485.6 1877.4,490.0 1877.8,487.2 1878.2,492.5 1878.6,491.5 1879.0,492.9 1879.4,486.6 1879.8,484.7 1880.2,474.4 1880.6,471.9 1881.0,476.7 1881.4,476.2 1881.8,486.4 1882.2,485.3 1882.6,483.3 1883.0,484.8 1883.4,489.7 1883.8,486.9 1884.2,492.8 1884.6,491.5 1885.0,491.5 1885.4,494.5 1885.8,497.3 1886.2,496.8 1886.6,492.1 1887.0,497.3 1887.4,499.0 1887.8,493.9 1888.2,496.1 1888.6,498.5 1889.0,498.3 1889.4,498.9 1889.8,499.1 1890.2,499.2 1890.6,499.3 1891.0,499.6 1891.4,499.8 1891.8,499.8 1892.2,499.5 1892.6,499.0 1893.0,498.7 1893.4,495.3 1893.8,496.4 1894.2,490.5 1894.6,484.5 1895.0,476.3 1895.4,468.6 1895.8,476.3 1896.2,478.0 1896.6,476.6 1897.0,480.6 1897.4,484.5 1897.8,486.4 1898.2,479.5 1898.6,480.3 1899.0,483.1 1899.4,488.2 1899.8,491.5 1900.2,490.7 1900.6,489.6 1901.0,484.0 1901.4,472.4 1901.8,464.3 1902.2,471.2 1902.6,467.7 1903.0,476.2 1903.4,476.7 1903.8,480.0 1904.2,484.0 1904.6,471.4 1905.0,461.4 1905.4,436.6 1905.8,444.9 1906.2,462.9 1906.6,462.3 1907.0,466.4 1907.4,472.7 1907.8,475.8 1908.2,459.7 1908.6,464.8 1909.0,470.5 1909.4,480.2 1909.8,476.2 1910.2,481.1 1910.6,473.3 1911.0,465.5 1911.4,446.8 1911.8,457.4 1912.2,472.5 1912.6,463.6 1913.0,469.0 1913.4,474.3 1913.8,480.4 1914.2,482.6 1914.6,486.4 1915.0,477.6 1915.4,485.4 1915.8,486.0 1916.2,485.7 1916.6,485.7 1917.0,487.0 1917.4,487.7 1917.8,479.8 1918.2,465.4 1918.6,458.2 1919.0,462.7 1919.4,471.5 1919.8,471.0 1920.2,476.8 1920.6,471.0 1921.0,469.2 1921.4,474.5 1921.8,477.0 1922.2,483.7 1922.6,479.8 1923.0,484.4 1923.4,486.0 1923.8,489.2 1924.2,491.2 1924.6,492.1 1925.0,488.5 1925.4,487.1 1925.8,486.1 1926.2,484.5 1926.6,488.0 1927.0,488.8 1927.4,491.6 1927.8,492.2 1928.2,496.1 1928.6,496.5 1929.0,498.7 1929.4,496.0 1929.8,494.6 1930.2,493.0 1930.6,499.3 1931.0,498.6 1931.4,494.7 1931.8,498.5 1932.2,498.7 1932.6,497.8 1933.0,498.5 1933.4,494.5 1933.8,487.8 1934.2,482.6 1934.6,472.0 1935.0,458.6 1935.4,458.1 1935.8,462.2 1936.2,466.9 1936.6,470.6 1937.0,470.6 1937.4,473.8 1937.8,480.9 1938.2,484.3 1938.6,485.8 1939.0,487.4 1939.4,488.9 1939.8,492.2 1940.2,492.1 1940.6,494.2 1941.0,496.6 1941.4,493.3 1941.8,494.8 1942.2,494.2 1942.6,495.7 1943.0,484.7 1943.4,483.6 1943.8,486.1 1944.2,489.9 1944.6,490.9 1945.0,490.6 1945.4,494.1 1945.8,492.4 1946.2,496.8 1946.6,495.3 1947.0,495.0 1947.4,500.3 1947.8,495.5 1948.2,499.1 1948.6,498.7 1949.0,497.0 1949.4,493.5 1949.8,488.7 1950.2,485.0 1950.6,474.1 1951.0,467.5 1951.4,478.1 1951.8,478.8 1952.2,486.7 1952.6,482.5 1953.0,474.4 1953.4,477.3 1953.8,476.9 1954.2,478.9 1954.6,487.0 1955.0,486.5 1955.4,485.9 1955.8,485.8 1956.2,478.6 1956.6,466.0 1957.0,470.8 1957.4,472.5 1957.8,477.4 1958.2,480.7 1958.6,481.9 1959.0,486.8 1959.4,484.7 1959.8,477.0 1960.2,456.4 1960.6,468.7 1961.0,464.2 1961.4,472.0 1961.8,478.8 1962.2,475.9 1962.6,479.4 1963.0,481.1 1963.4,476.6 1963.8,462.8 1964.2,469.9 1964.6,465.5 1965.0,480.9 1965.4,479.6 1965.8,486.2 1966.2,488.7 1966.6,486.8 1967.0,481.3 1967.4,460.4 1967.8,471.6 1968.2,475.2 1968.6,481.4 1969.0,480.8 1969.4,479.7 1969.8,485.2 1970.2,486.6 1970.6,476.9 1971.0,470.3 1971.4,474.3 1971.8,476.3 1972.2,478.3 1972.6,478.8 1973.0,486.4 1973.4,485.1 1973.8,477.1 1974.2,471.3 1974.6,477.7 1975.0,486.2 1975.4,484.1 1975.8,484.1 1976.2,486.1 1976.6,477.4 1977.0,463.4 1977.4,467.6 1977.8,480.2 1978.2,475.5 1978.6,480.0 1979.0,481.8 1979.4,484.8 1979.8,485.4 1980.2,483.5 1980.6,480.5 1981.0,473.1 1981.4,487.2 1981.8,486.1 1982.2,483.7 1982.6,486.5 1983.0,486.2 1983.4,488.2 1983.8,491.7 1984.2,487.7 1984.6,484.7 1985.0,476.2 1985.4,466.2 1985.8,446.8 1986.2,448.4 1986.6,460.2 1987.0,464.9 1987.4,468.1 1987.8,475.5 1988.2,472.7 1988.6,477.7 1989.0,470.8 1989.4,466.9 1989.8,481.0 1990.2,479.8 1990.6,478.7 1991.0,483.2 1991.4,492.1 1991.8,485.7 1992.2,484.9 1992.6,488.4 1993.0,496.0 1993.4,491.1 1993.8,490.1 1994.2,486.6 1994.6,490.9 1995.0,493.9 1995.4,492.7 1995.8,492.9 1996.2,493.2 1996.6,496.7 1997.0,498.4 1997.4,496.1 1997.8,495.4 1998.2,496.4 1998.6,498.8 1999.0,498.0 1999.4,497.8 1999.8,498.5 2000.2,498.8 2000.6,498.8 2001.0,498.5 2001.4,497.8 2001.8,495.0 2002.2,493.4 2002.6,494.2 2003.0,493.4 2003.4,497.7 2003.8,496.0 2004.2,498.6 2004.6,499.9 2005.0,495.8 2005.4,498.4 2005.8,498.9 2006.2,498.8 2006.6,499.1 2007.0,499.2 2007.4,499.3 2007.8,498.5 2008.2,499.4 2008.6,497.3 2009.0,490.3 2009.4,491.5 2009.8,486.3 2010.2,476.4 2010.6,475.2 2011.0,475.5 2011.4,473.1 2011.8,484.3 2012.2,481.4 2012.6,484.7 2013.0,484.6 2013.4,489.8 2013.8,480.3 2014.2,466.5 2014.6,459.6 2015.0,464.3 2015.4,466.9 2015.8,470.8 2016.2,479.1 2016.6,477.6 2017.0,479.4 2017.4,478.0 2017.8,483.5 2018.2,487.7 2018.6,490.4 2019.0,490.0 2019.4,489.5 2019.8,490.7 2020.2,492.5 2020.6,491.7 2021.0,495.5 2021.4,492.7" fill="none" stroke="#7edbbf" stroke-width="0.85" stroke-linejoin="round"/>
<line x1="1744.0" y1="395.9" x2="1744.0" y2="501.7" stroke="#000" stroke-width="2.0"/>
<line x1="1743.0" y1="500.7" x2="2023" y2="500.7" stroke="#000" stroke-width="2.0"/>
<polygon points="2021.8,498.2 2028.2,500.7 2021.8,503.2" fill="#000"/>
<line x1="1740.0" y1="414.2" x2="1744.0" y2="414.2" stroke="#000" stroke-width="1.5"/>
<text x="1731.3" y="421.4" font-size="20.6" text-anchor="end">150</text>
<line x1="1740.0" y1="443.4" x2="1744.0" y2="443.4" stroke="#000" stroke-width="1.5"/>
<text x="1731.3" y="450.59999999999997" font-size="20.6" text-anchor="end">100</text>
<line x1="1740.0" y1="472.3" x2="1744.0" y2="472.3" stroke="#000" stroke-width="1.5"/>
<text x="1731.3" y="479.5" font-size="20.6" text-anchor="end">50</text>
<line x1="1790.4" y1="500.7" x2="1790.4" y2="504.9" stroke="#000" stroke-width="1.5"/>
<line x1="1882.9" y1="500.7" x2="1882.9" y2="504.9" stroke="#000" stroke-width="1.5"/>
<line x1="1975.5" y1="500.7" x2="1975.5" y2="504.9" stroke="#000" stroke-width="1.5"/>
<text x="1883.4" y="395.9" font-size="20.6" text-anchor="middle">Total enzyme</text>
<polygon points="1744.6,546.8 1745.1,546.2 1745.6,546.4 1746.1,546.0 1746.6,546.0 1747.1,545.5 1747.6,545.4 1748.1,546.3 1748.6,545.8 1749.1,546.1 1749.6,545.8 1750.1,545.8 1750.6,545.1 1751.1,545.9 1751.6,546.0 1752.1,546.8 1752.6,547.3 1753.1,546.6 1753.6,544.2 1754.1,547.2 1754.6,548.3 1755.1,549.2 1755.6,550.8 1756.1,549.0 1756.6,553.8 1756.6,565.6 1756.1,563.5 1755.6,564.1 1755.1,560.2 1754.6,559.6 1754.1,558.6 1753.6,559.1 1753.1,561.4 1752.6,559.9 1752.1,557.0 1751.6,557.8 1751.1,557.8 1750.6,556.4 1750.1,557.3 1749.6,557.0 1749.1,556.4 1748.6,557.8 1748.1,558.2 1747.6,557.0 1747.1,557.3 1746.6,557.6 1746.1,557.7 1745.6,557.5 1745.1,556.8 1744.6,557.7" fill="#2540d6"/>
<polyline points="1744.6,546.7 1745.0,561.0 1745.3,546.6 1745.7,560.0 1746.0,545.0 1746.4,558.1 1746.8,541.8 1747.1,557.3 1747.5,543.3 1747.8,558.7 1748.2,546.0 1748.6,562.3 1748.9,544.8 1749.3,558.2 1749.6,546.3 1750.0,557.5 1750.4,545.9 1750.7,558.2 1751.1,545.8 1751.4,557.1 1751.8,546.1 1752.2,557.5 1752.5,544.3 1752.9,560.4 1753.2,547.2 1753.6,560.3 1754.0,547.8 1754.3,558.7 1754.7,546.7 1755.0,562.0 1755.4,549.1 1755.8,562.0 1756.1,551.4 1756.5,567.6" fill="none" stroke="#2540d6" stroke-opacity="0.6" stroke-width="0.55"/>
<line x1="1756.661138750691" y1="633.2" x2="1756.661138750691" y2="559.7" stroke="#2540d6" stroke-opacity="0.6" stroke-width="0.9"/>
<polygon points="1761.4,546.0 1761.9,546.4 1762.4,546.0 1762.9,545.5 1763.4,546.3 1763.9,545.1 1764.4,544.7 1764.9,545.0 1765.4,545.1 1765.9,545.9 1766.4,546.0 1766.9,545.1 1767.4,546.2 1767.9,545.9 1768.4,546.8 1768.9,546.8 1769.4,544.1 1769.9,544.0 1770.4,546.9 1770.9,545.3 1771.4,547.0 1771.9,546.0 1772.4,546.9 1772.9,546.0 1773.4,546.8 1773.9,546.8 1774.4,546.5 1774.9,546.6 1775.4,547.2 1775.9,546.5 1776.4,547.1 1776.9,547.1 1777.4,546.9 1777.9,547.0 1778.4,546.5 1778.9,545.5 1779.4,546.6 1779.9,545.3 1780.4,544.8 1780.9,546.4 1781.4,545.4 1781.9,546.6 1782.4,546.0 1782.9,544.8 1783.4,545.8 1783.9,546.4 1784.4,545.6 1784.9,545.8 1785.4,545.7 1785.9,546.2 1786.4,546.2 1786.9,546.0 1787.4,544.5 1787.9,544.6 1788.4,545.7 1788.9,544.2 1789.4,544.9 1789.9,545.9 1790.4,546.2 1790.9,545.8 1791.4,546.8 1791.9,546.1 1792.4,546.5 1792.9,545.1 1793.4,545.2 1793.9,547.0 1794.4,545.3 1794.9,544.8 1795.4,546.7 1795.9,546.4 1796.4,546.3 1796.9,546.1 1797.4,546.1 1797.9,545.6 1798.4,546.6 1798.9,546.2 1799.4,545.8 1799.9,546.5 1800.4,546.3 1800.9,545.6 1801.4,546.3 1801.9,546.8 1802.4,545.9 1802.9,545.8 1803.4,546.5 1803.9,545.5 1804.4,546.2 1804.9,546.7 1805.4,547.1 1805.9,546.6 1806.4,546.0 1806.9,546.5 1807.4,545.0 1807.9,545.5 1808.4,542.9 1808.9,544.8 1809.4,545.1 1809.9,544.3 1810.4,546.2 1810.9,546.5 1811.4,546.6 1811.9,547.0 1812.4,545.1 1812.9,545.2 1813.4,545.3 1813.9,546.3 1814.4,546.4 1814.9,546.8 1815.4,545.9 1815.9,544.2 1816.4,546.4 1816.9,545.0 1817.4,545.3 1817.9,545.9 1818.4,546.0 1818.9,546.2 1819.4,544.9 1819.9,546.5 1820.4,545.7 1820.9,544.9 1821.4,545.6 1821.9,546.4 1822.4,546.3 1822.9,545.0 1823.4,545.9 1823.9,545.3 1824.4,545.2 1824.9,545.4 1825.4,546.2 1825.9,546.5 1826.4,545.9 1826.9,546.0 1827.4,546.4 1827.9,545.8 1828.4,546.3 1828.9,546.3 1829.4,543.7 1829.9,545.3 1830.4,545.3 1830.9,545.7 1831.4,546.5 1831.9,545.4 1832.4,545.9 1832.9,544.6 1833.4,545.8 1833.9,545.8 1834.4,545.7 1834.9,542.0 1835.4,544.7 1835.9,545.1 1836.4,544.6 1836.9,544.8 1837.4,544.9 1837.9,545.3 1838.4,543.0 1838.9,542.5 1839.4,545.1 1839.9,544.0 1840.4,545.3 1840.9,544.8 1841.4,545.3 1841.9,544.5 1842.4,544.7 1842.9,545.7 1843.4,544.0 1843.9,544.2 1844.4,546.1 1844.9,544.9 1845.4,546.3 1845.9,546.0 1846.4,546.8 1846.9,546.9 1847.4,546.4 1847.9,544.7 1848.4,546.6 1848.9,546.4 1849.4,546.5 1849.9,547.0 1850.4,546.2 1850.9,544.7 1851.4,547.0 1851.9,545.9 1852.4,547.1 1852.9,546.5 1853.4,546.4 1853.9,547.6 1854.4,548.0 1854.9,547.2 1855.4,547.4 1855.9,546.6 1856.4,547.5 1856.9,548.1 1857.4,548.6 1857.9,548.2 1858.4,549.6 1858.9,549.7 1859.4,551.0 1859.9,551.6 1860.4,553.0 1860.9,554.9 1861.4,556.5 1861.9,557.3 1862.4,560.4 1862.9,563.3 1862.9,574.3 1862.4,573.0 1861.9,569.5 1861.4,567.7 1860.9,565.8 1860.4,564.7 1859.9,564.5 1859.4,563.4 1858.9,562.6 1858.4,561.7 1857.9,560.3 1857.4,559.0 1856.9,559.2 1856.4,559.3 1855.9,558.1 1855.4,558.3 1854.9,559.4 1854.4,558.5 1853.9,558.2 1853.4,558.0 1852.9,557.4 1852.4,558.5 1851.9,558.0 1851.4,558.9 1850.9,557.4 1850.4,557.0 1849.9,559.2 1849.4,558.9 1848.9,557.2 1848.4,557.2 1847.9,556.7 1847.4,557.9 1846.9,558.8 1846.4,557.5 1845.9,557.0 1845.4,559.2 1844.9,557.1 1844.4,558.5 1843.9,556.3 1843.4,557.5 1842.9,556.3 1842.4,556.6 1841.9,556.0 1841.4,556.0 1840.9,557.8 1840.4,558.1 1839.9,556.8 1839.4,556.2 1838.9,556.1 1838.4,557.8 1837.9,557.3 1837.4,555.4 1836.9,559.1 1836.4,555.5 1835.9,555.5 1835.4,557.7 1834.9,560.1 1834.4,556.3 1833.9,556.3 1833.4,556.2 1832.9,557.4 1832.4,558.5 1831.9,557.9 1831.4,556.7 1830.9,558.1 1830.4,556.5 1829.9,556.5 1829.4,557.3 1828.9,558.2 1828.4,557.1 1827.9,557.0 1827.4,557.0 1826.9,557.0 1826.4,557.9 1825.9,557.0 1825.4,557.5 1824.9,556.5 1824.4,556.3 1823.9,558.6 1823.4,556.6 1822.9,558.6 1822.4,556.1 1821.9,556.6 1821.4,558.1 1820.9,556.4 1820.4,556.9 1819.9,558.6 1819.4,557.2 1818.9,558.0 1818.4,557.4 1817.9,558.1 1817.4,557.0 1816.9,557.5 1816.4,556.9 1815.9,556.6 1815.4,556.9 1814.9,558.2 1814.4,557.9 1813.9,557.6 1813.4,560.3 1812.9,557.6 1812.4,558.9 1811.9,557.8 1811.4,558.9 1810.9,557.8 1810.4,558.5 1809.9,558.4 1809.4,557.2 1808.9,557.0 1808.4,556.6 1807.9,557.5 1807.4,558.0 1806.9,556.9 1806.4,556.7 1805.9,558.3 1805.4,558.7 1804.9,558.5 1804.4,558.7 1803.9,559.5 1803.4,558.1 1802.9,557.9 1802.4,558.7 1801.9,558.8 1801.4,556.7 1800.9,557.1 1800.4,557.6 1799.9,557.1 1799.4,557.1 1798.9,558.0 1798.4,556.8 1797.9,558.9 1797.4,557.6 1796.9,557.5 1796.4,557.5 1795.9,557.2 1795.4,557.6 1794.9,558.7 1794.4,558.1 1793.9,557.0 1793.4,558.1 1792.9,557.1 1792.4,558.1 1791.9,557.1 1791.4,558.7 1790.9,557.6 1790.4,557.3 1789.9,556.6 1789.4,556.7 1788.9,556.3 1788.4,558.4 1787.9,557.4 1787.4,557.6 1786.9,559.3 1786.4,556.5 1785.9,556.7 1785.4,557.4 1784.9,556.8 1784.4,556.4 1783.9,556.7 1783.4,556.6 1782.9,558.0 1782.4,556.4 1781.9,556.7 1781.4,559.4 1780.9,557.6 1780.4,556.2 1779.9,557.1 1779.4,558.7 1778.9,559.0 1778.4,557.2 1777.9,557.0 1777.4,557.3 1776.9,557.8 1776.4,558.3 1775.9,557.1 1775.4,557.8 1774.9,557.1 1774.4,557.8 1773.9,557.6 1773.4,558.5 1772.9,558.4 1772.4,559.5 1771.9,558.1 1771.4,557.8 1770.9,557.9 1770.4,558.8 1769.9,558.0 1769.4,558.6 1768.9,558.6 1768.4,557.5 1767.9,557.6 1767.4,557.3 1766.9,558.0 1766.4,558.1 1765.9,558.0 1765.4,556.6 1764.9,557.9 1764.4,557.3 1763.9,558.5 1763.4,556.7 1762.9,557.6 1762.4,557.9 1761.9,557.3 1761.4,557.1" fill="#2540d6"/>
<polyline points="1761.4,546.5 1761.7,557.7 1762.1,546.4 1762.4,559.2 1762.8,545.1 1763.2,556.5 1763.5,545.9 1763.9,558.0 1764.2,546.2 1764.6,556.5 1765.0,545.9 1765.3,557.8 1765.7,546.0 1766.0,557.5 1766.4,545.4 1766.8,557.7 1767.1,545.0 1767.5,559.5 1767.8,544.9 1768.2,559.6 1768.6,546.4 1768.9,559.2 1769.3,546.8 1769.6,557.3 1770.0,547.0 1770.4,557.4 1770.7,546.3 1771.1,559.5 1771.4,545.4 1771.8,558.7 1772.2,546.6 1772.5,559.7 1772.9,547.0 1773.2,557.3 1773.6,546.2 1774.0,568.0 1774.3,546.4 1774.7,560.1 1775.0,545.4 1775.4,559.6 1775.8,547.1 1776.1,557.8 1776.5,545.6 1776.8,557.1 1777.2,546.5 1777.6,558.1 1777.9,545.5 1778.3,558.0 1778.6,545.1 1779.0,560.5 1779.4,545.5 1779.7,557.8 1780.1,546.3 1780.4,558.6 1780.8,544.5 1781.2,556.7 1781.5,545.6 1781.9,556.9 1782.2,546.2 1782.6,556.6 1783.0,543.5 1783.3,556.5 1783.7,543.2 1784.0,562.1 1784.4,544.7 1784.8,558.9 1785.1,543.5 1785.5,556.4 1785.8,543.4 1786.2,556.5 1786.6,545.7 1786.9,556.6 1787.3,545.9 1787.6,557.2 1788.0,543.2 1788.4,557.2 1788.7,542.1 1789.1,557.4 1789.4,544.9 1789.8,558.8 1790.2,543.5 1790.5,557.0 1790.9,546.7 1791.2,556.8 1791.6,545.5 1792.0,557.8 1792.3,543.8 1792.7,558.7 1793.0,545.3 1793.4,558.1 1793.8,544.4 1794.1,557.7 1794.5,540.1 1794.8,557.9 1795.2,546.7 1795.6,557.7 1795.9,544.5 1796.3,557.3 1796.6,545.3 1797.0,557.3 1797.4,544.4 1797.7,557.8 1798.1,544.9 1798.4,557.9 1798.8,545.9 1799.2,558.3 1799.5,543.0 1799.9,557.2 1800.2,545.9 1800.6,562.7 1801.0,545.1 1801.3,559.9 1801.7,545.9 1802.0,561.2 1802.4,546.5 1802.8,557.1 1803.1,546.3 1803.5,557.1 1803.8,546.7 1804.2,558.6 1804.6,544.6 1804.9,558.6 1805.3,545.8 1805.6,559.9 1806.0,545.3 1806.4,557.5 1806.7,543.6 1807.1,559.3 1807.4,546.9 1807.8,557.2 1808.2,545.9 1808.5,556.9 1808.9,546.7 1809.2,561.1 1809.6,546.4 1810.0,558.8 1810.3,546.2 1810.7,557.4 1811.0,545.9 1811.4,557.0 1811.8,544.1 1812.1,557.3 1812.5,546.5 1812.8,560.3 1813.2,545.8 1813.6,557.1 1813.9,546.9 1814.3,557.7 1814.6,546.5 1815.0,558.7 1815.4,544.5 1815.7,556.8 1816.1,542.6 1816.4,559.1 1816.8,541.1 1817.2,558.2 1817.5,544.8 1817.9,558.1 1818.2,545.9 1818.6,558.2 1819.0,546.3 1819.3,557.3 1819.7,545.9 1820.0,559.5 1820.4,534.5 1820.8,556.7 1821.1,544.0 1821.5,566.5 1821.8,540.8 1822.2,559.9 1822.6,544.6 1822.9,556.8 1823.3,545.4 1823.6,556.8 1824.0,541.5 1824.4,557.1 1824.7,546.2 1825.1,557.4 1825.4,545.4 1825.8,560.8 1826.2,546.2 1826.5,557.8 1826.9,545.4 1827.2,557.1 1827.6,544.8 1828.0,558.3 1828.3,546.0 1828.7,557.7 1829.0,545.7 1829.4,563.2 1829.8,545.3 1830.1,556.9 1830.5,542.3 1830.8,557.7 1831.2,543.5 1831.6,558.1 1831.9,545.9 1832.3,556.3 1832.6,542.2 1833.0,557.1 1833.4,545.4 1833.7,556.5 1834.1,545.4 1834.4,555.8 1834.8,543.4 1835.2,557.7 1835.5,545.3 1835.9,556.5 1836.2,544.6 1836.6,558.4 1837.0,543.0 1837.3,555.6 1837.7,545.4 1838.0,560.7 1838.4,544.2 1838.8,557.6 1839.1,543.6 1839.5,559.1 1839.8,538.0 1840.2,561.6 1840.6,542.9 1840.9,556.4 1841.3,543.4 1841.6,560.1 1842.0,545.4 1842.4,556.1 1842.7,544.1 1843.1,557.4 1843.4,542.7 1843.8,558.4 1844.2,543.6 1844.5,561.5 1844.9,544.1 1845.2,557.3 1845.6,545.7 1846.0,561.0 1846.3,540.6 1846.7,556.9 1847.0,545.9 1847.4,558.3 1847.8,545.7 1848.1,560.2 1848.5,546.4 1848.8,556.9 1849.2,546.5 1849.6,557.5 1849.9,546.1 1850.3,557.3 1850.6,546.7 1851.0,559.1 1851.4,545.7 1851.7,567.6 1852.1,546.0 1852.4,557.6 1852.8,544.2 1853.2,560.5 1853.5,543.6 1853.9,562.6 1854.2,546.3 1854.6,558.6 1855.0,547.6 1855.3,558.5 1855.7,547.9 1856.0,563.4 1856.4,545.9 1856.8,559.4 1857.1,548.7 1857.5,559.4 1857.8,548.8 1858.2,560.7 1858.6,549.6 1858.9,563.3 1859.3,545.6 1859.6,563.6 1860.0,548.9 1860.4,564.9 1860.7,550.4 1861.1,567.3 1861.4,553.2 1861.8,571.5 1862.2,550.9 1862.5,573.9 1862.9,563.3" fill="none" stroke="#2540d6" stroke-opacity="0.6" stroke-width="0.55"/>
<line x1="1761.3598673300166" y1="633.2" x2="1761.3598673300166" y2="551.7" stroke="#2540d6" stroke-opacity="0.6" stroke-width="0.9"/>
<line x1="1863.0735212824766" y1="633.2" x2="1863.0735212824766" y2="559.7" stroke="#2540d6" stroke-opacity="0.6" stroke-width="0.9"/>
<polygon points="1864.7,547.1 1865.2,545.9 1865.7,546.6 1866.2,547.1 1866.7,546.8 1867.2,547.3 1867.7,546.2 1868.2,546.0 1868.7,546.0 1869.2,546.3 1869.7,547.2 1870.2,546.4 1870.7,546.8 1871.2,546.2 1871.2,558.2 1870.7,558.9 1870.2,557.7 1869.7,558.6 1869.2,558.9 1868.7,557.8 1868.2,558.3 1867.7,559.1 1867.2,558.6 1866.7,559.1 1866.2,557.7 1865.7,558.1 1865.2,558.3 1864.7,558.9" fill="#2540d6"/>
<polyline points="1864.7,547.1 1865.1,558.1 1865.5,546.2 1865.8,560.3 1866.2,545.8 1866.5,557.8 1866.9,546.3 1867.3,558.2 1867.6,546.2 1868.0,557.9 1868.3,545.6 1868.7,560.2 1869.1,546.2 1869.4,558.3 1869.8,537.9 1870.1,567.1 1870.5,545.7 1870.9,559.9 1871.2,545.5" fill="none" stroke="#2540d6" stroke-opacity="0.6" stroke-width="0.55"/>
<line x1="1871.3653952459922" y1="633.2" x2="1871.3653952459922" y2="551.7" stroke="#2540d6" stroke-opacity="0.6" stroke-width="0.9"/>
<polygon points="1873.6,543.5 1874.1,546.1 1874.6,545.0 1875.1,546.3 1875.6,545.6 1876.1,545.1 1876.6,546.4 1877.1,546.5 1877.6,544.9 1878.1,546.6 1878.6,546.6 1879.1,546.3 1879.6,546.8 1880.1,545.5 1880.6,545.8 1881.1,545.6 1881.6,546.1 1882.1,546.3 1882.6,547.0 1883.1,545.1 1883.6,547.7 1884.1,547.3 1884.6,546.3 1885.1,548.4 1885.6,548.2 1886.1,549.5 1886.6,548.9 1887.1,551.2 1887.6,551.2 1888.1,552.7 1888.6,554.6 1889.1,556.4 1889.6,557.0 1890.1,560.5 1890.6,563.4 1890.6,576.3 1890.1,572.4 1889.6,570.8 1889.1,566.8 1888.6,566.1 1888.1,565.2 1887.6,563.3 1887.1,562.8 1886.6,560.9 1886.1,560.3 1885.6,559.8 1885.1,559.6 1884.6,559.8 1884.1,558.5 1883.6,559.3 1883.1,559.3 1882.6,559.8 1882.1,557.9 1881.6,558.5 1881.1,558.5 1880.6,558.6 1880.1,557.4 1879.6,558.6 1879.1,558.4 1878.6,557.5 1878.1,556.8 1877.6,556.9 1877.1,557.2 1876.6,556.8 1876.1,556.8 1875.6,556.8 1875.1,557.3 1874.6,557.2 1874.1,557.7 1873.6,560.8" fill="#2540d6"/>
<polyline points="1873.6,543.7 1873.9,556.6 1874.3,543.3 1874.7,558.5 1875.0,545.1 1875.4,558.0 1875.7,543.5 1876.1,557.3 1876.5,545.6 1876.8,557.0 1877.2,545.7 1877.5,557.1 1877.9,543.0 1878.3,557.5 1878.6,546.6 1879.0,557.1 1879.3,546.1 1879.7,558.0 1880.1,536.1 1880.4,558.9 1880.8,545.4 1881.1,558.1 1881.5,547.0 1881.9,557.6 1882.2,545.0 1882.6,560.0 1882.9,546.5 1883.3,559.1 1883.7,547.6 1884.0,558.4 1884.4,545.2 1884.7,559.0 1885.1,545.8 1885.5,560.5 1885.8,549.3 1886.2,561.4 1886.5,550.2 1886.9,562.6 1887.3,550.5 1887.6,563.9 1888.0,553.0 1888.3,564.9 1888.7,554.2 1889.1,568.9 1889.4,557.9 1889.8,571.7 1890.1,561.3 1890.5,576.5" fill="none" stroke="#2540d6" stroke-opacity="0.6" stroke-width="0.55"/>
<line x1="1873.5765616362632" y1="633.2" x2="1873.5765616362632" y2="551.7" stroke="#2540d6" stroke-opacity="0.6" stroke-width="0.9"/>
<line x1="1890.7131011608624" y1="633.2" x2="1890.7131011608624" y2="559.7" stroke="#2540d6" stroke-opacity="0.6" stroke-width="0.9"/>
<polygon points="1892.6,547.1 1893.1,546.6 1893.6,545.0 1894.1,546.4 1894.6,544.4 1895.1,546.0 1895.6,545.5 1896.1,546.3 1896.6,545.2 1897.1,546.2 1897.6,545.8 1898.1,545.6 1898.6,545.0 1899.1,544.0 1899.6,545.3 1900.1,545.7 1900.6,546.2 1901.1,544.6 1901.6,546.3 1902.1,546.1 1902.6,545.6 1903.1,545.7 1903.6,546.2 1904.1,546.2 1904.6,545.0 1905.1,546.2 1905.6,545.8 1906.1,546.1 1906.6,546.2 1907.1,546.3 1907.6,547.4 1908.1,546.8 1908.6,546.4 1909.1,547.5 1909.6,546.0 1910.1,546.3 1910.6,547.2 1911.1,545.7 1911.6,546.6 1912.1,545.8 1912.6,546.5 1913.1,546.8 1913.6,546.0 1914.1,545.8 1914.6,547.0 1915.1,545.5 1915.6,545.4 1916.1,547.6 1916.6,547.5 1917.1,546.8 1917.6,546.2 1918.1,546.7 1918.6,546.7 1919.1,547.0 1919.6,545.4 1920.1,547.1 1920.6,546.3 1921.1,547.3 1921.6,547.2 1922.1,547.0 1922.6,546.8 1923.1,545.2 1923.6,547.1 1924.1,546.3 1924.6,545.8 1925.1,547.7 1925.6,547.0 1926.1,546.6 1926.6,545.4 1927.1,548.5 1927.6,547.9 1928.1,548.1 1928.6,547.4 1929.1,549.6 1929.6,550.9 1930.1,551.5 1930.6,552.5 1931.1,553.8 1931.6,555.8 1932.1,557.2 1932.6,558.9 1933.1,558.7 1933.6,553.4 1934.1,549.3 1934.6,547.4 1935.1,546.2 1935.6,545.4 1936.1,546.0 1936.6,545.9 1937.1,545.5 1937.6,546.2 1938.1,544.6 1938.6,546.0 1939.1,546.4 1939.6,546.1 1940.1,545.1 1940.6,545.4 1941.1,546.5 1941.6,545.0 1942.1,545.0 1942.6,546.0 1943.1,546.3 1943.6,546.4 1944.1,544.9 1944.6,544.9 1945.1,546.5 1945.6,546.3 1946.1,546.7 1946.6,545.0 1947.1,546.6 1947.6,545.5 1948.1,545.8 1948.6,545.8 1949.1,547.2 1949.6,546.3 1950.1,546.2 1950.6,546.3 1951.1,547.1 1951.6,545.5 1952.1,544.6 1952.6,546.1 1953.1,546.3 1953.6,547.3 1954.1,547.0 1954.6,546.1 1955.1,545.5 1955.6,546.4 1956.1,545.8 1956.6,547.0 1957.1,547.0 1957.6,546.4 1958.1,545.1 1958.6,546.6 1959.1,546.8 1959.6,546.3 1960.1,546.7 1960.6,546.6 1961.1,546.0 1961.6,544.0 1962.1,545.7 1962.6,545.4 1963.1,545.2 1963.6,545.3 1964.1,545.0 1964.6,546.0 1965.1,545.3 1965.6,546.1 1966.1,544.4 1966.6,545.2 1967.1,545.5 1967.6,544.7 1968.1,546.1 1968.6,545.5 1969.1,545.4 1969.6,546.2 1970.1,545.5 1970.6,546.1 1971.1,546.2 1971.6,546.1 1972.1,545.9 1972.6,545.7 1973.1,546.2 1973.6,545.4 1974.1,545.7 1974.6,545.9 1975.1,546.1 1975.6,545.6 1976.1,546.2 1976.6,546.1 1977.1,544.9 1977.6,545.9 1978.1,545.7 1978.6,545.7 1979.1,544.4 1979.6,545.9 1980.1,546.1 1980.6,544.9 1981.1,546.6 1981.6,545.3 1982.1,546.9 1982.6,547.0 1983.1,544.3 1983.6,546.4 1984.1,546.8 1984.6,546.4 1985.1,546.4 1985.6,544.6 1986.1,546.5 1986.6,546.3 1987.1,544.8 1987.6,546.9 1988.1,546.4 1988.6,545.8 1989.1,546.2 1989.6,546.5 1990.1,546.0 1990.6,545.7 1991.1,543.7 1991.6,544.1 1992.1,545.9 1992.6,544.5 1993.1,544.0 1993.6,543.3 1994.1,545.3 1994.6,546.1 1995.1,545.9 1995.6,546.6 1996.1,546.5 1996.6,545.4 1997.1,545.4 1997.6,546.5 1998.1,544.6 1998.6,546.9 1999.1,545.1 1999.6,544.6 2000.1,546.7 2000.6,546.5 2001.1,547.7 2001.6,545.6 2002.1,544.6 2002.6,546.7 2003.1,548.0 2003.6,546.4 2004.1,547.9 2004.6,549.4 2005.1,550.2 2005.6,550.8 2006.1,551.1 2006.6,552.1 2007.1,553.7 2007.6,555.9 2008.1,558.4 2008.1,570.3 2007.6,567.2 2007.1,565.2 2006.6,563.2 2006.1,562.7 2005.6,563.3 2005.1,560.9 2004.6,559.8 2004.1,560.4 2003.6,559.4 2003.1,559.0 2002.6,558.7 2002.1,559.0 2001.6,558.2 2001.1,559.2 2000.6,557.9 2000.1,557.4 1999.6,557.6 1999.1,558.2 1998.6,558.7 1998.1,556.9 1997.6,558.1 1997.1,557.6 1996.6,557.4 1996.1,557.6 1995.6,556.8 1995.1,558.3 1994.6,556.6 1994.1,558.3 1993.6,557.4 1993.1,557.2 1992.6,557.8 1992.1,556.6 1991.6,557.9 1991.1,558.1 1990.6,557.8 1990.1,556.8 1989.6,556.8 1989.1,556.9 1988.6,556.7 1988.1,557.8 1987.6,556.8 1987.1,557.4 1986.6,557.6 1986.1,557.6 1985.6,557.0 1985.1,557.3 1984.6,558.6 1984.1,557.6 1983.6,558.4 1983.1,557.4 1982.6,557.4 1982.1,558.1 1981.6,557.2 1981.1,557.4 1980.6,557.3 1980.1,557.0 1979.6,558.1 1979.1,557.4 1978.6,557.9 1978.1,556.8 1977.6,558.2 1977.1,557.7 1976.6,556.7 1976.1,557.1 1975.6,556.6 1975.1,556.9 1974.6,558.1 1974.1,557.0 1973.6,556.7 1973.1,558.2 1972.6,558.7 1972.1,559.0 1971.6,557.2 1971.1,557.1 1970.6,557.7 1970.1,556.8 1969.6,556.8 1969.1,558.0 1968.6,556.2 1968.1,557.4 1967.6,556.4 1967.1,556.4 1966.6,557.0 1966.1,556.6 1965.6,556.6 1965.1,557.3 1964.6,558.5 1964.1,557.0 1963.6,557.7 1963.1,557.0 1962.6,557.6 1962.1,557.4 1961.6,557.7 1961.1,556.9 1960.6,556.7 1960.1,558.1 1959.6,559.4 1959.1,558.1 1958.6,557.4 1958.1,558.7 1957.6,557.6 1957.1,558.4 1956.6,559.0 1956.1,558.0 1955.6,559.3 1955.1,557.1 1954.6,557.3 1954.1,558.5 1953.6,558.0 1953.1,557.2 1952.6,557.6 1952.1,557.3 1951.6,557.7 1951.1,557.1 1950.6,557.5 1950.1,557.9 1949.6,558.7 1949.1,557.2 1948.6,557.5 1948.1,558.3 1947.6,556.8 1947.1,557.5 1946.6,558.0 1946.1,557.0 1945.6,556.6 1945.1,556.8 1944.6,557.2 1944.1,556.6 1943.6,558.7 1943.1,557.0 1942.6,557.2 1942.1,558.6 1941.6,557.1 1941.1,557.7 1940.6,557.5 1940.1,556.9 1939.6,558.1 1939.1,557.0 1938.6,557.3 1938.1,556.6 1937.6,557.5 1937.1,556.3 1936.6,557.0 1936.1,559.3 1935.6,557.1 1935.1,557.8 1934.6,558.5 1934.1,560.6 1933.6,563.3 1933.1,570.1 1932.6,571.2 1932.1,569.1 1931.6,566.2 1931.1,565.3 1930.6,563.1 1930.1,562.8 1929.6,561.5 1929.1,560.1 1928.6,560.2 1928.1,559.5 1927.6,559.5 1927.1,558.4 1926.6,559.7 1926.1,559.2 1925.6,558.4 1925.1,559.2 1924.6,560.0 1924.1,557.8 1923.6,558.9 1923.1,559.4 1922.6,559.0 1922.1,557.8 1921.6,559.1 1921.1,558.3 1920.6,557.3 1920.1,556.9 1919.6,557.1 1919.1,558.2 1918.6,558.5 1918.1,558.8 1917.6,558.6 1917.1,558.2 1916.6,558.8 1916.1,559.7 1915.6,559.3 1915.1,560.1 1914.6,557.6 1914.1,559.1 1913.6,557.5 1913.1,558.1 1912.6,556.9 1912.1,558.1 1911.6,558.6 1911.1,557.7 1910.6,558.1 1910.1,557.6 1909.6,559.6 1909.1,558.1 1908.6,559.0 1908.1,558.6 1907.6,557.9 1907.1,557.5 1906.6,558.6 1906.1,557.4 1905.6,557.7 1905.1,557.4 1904.6,557.7 1904.1,556.9 1903.6,557.5 1903.1,558.3 1902.6,557.6 1902.1,558.0 1901.6,557.6 1901.1,556.4 1900.6,556.5 1900.1,557.3 1899.6,556.1 1899.1,556.4 1898.6,556.5 1898.1,557.4 1897.6,558.2 1897.1,557.9 1896.6,556.9 1896.1,556.7 1895.6,557.8 1895.1,557.4 1894.6,556.6 1894.1,560.4 1893.6,558.0 1893.1,558.0 1892.6,557.4" fill="#2540d6"/>
<polyline points="1892.6,545.4 1893.0,561.8 1893.4,543.8 1893.7,559.0 1894.1,543.5 1894.4,558.3 1894.8,546.6 1895.2,558.1 1895.5,543.8 1895.9,556.6 1896.2,542.7 1896.6,559.7 1897.0,544.9 1897.3,557.2 1897.7,545.7 1898.0,563.1 1898.4,545.7 1898.8,561.2 1899.1,543.7 1899.5,556.9 1899.8,543.0 1900.2,556.9 1900.6,542.8 1900.9,558.5 1901.3,544.6 1901.6,559.0 1902.0,545.0 1902.4,556.6 1902.7,545.7 1903.1,558.7 1903.4,544.4 1903.8,556.9 1904.2,546.0 1904.5,557.2 1904.9,546.5 1905.2,560.0 1905.6,545.5 1906.0,559.0 1906.3,545.2 1906.7,557.0 1907.0,545.5 1907.4,558.3 1907.8,546.8 1908.1,557.6 1908.5,546.7 1908.8,558.0 1909.2,547.1 1909.6,558.9 1909.9,544.8 1910.3,560.7 1910.6,547.2 1911.0,564.3 1911.4,546.5 1911.7,558.7 1912.1,545.8 1912.4,560.3 1912.8,544.6 1913.2,562.5 1913.5,546.0 1913.9,558.8 1914.2,545.7 1914.6,559.9 1915.0,542.5 1915.3,557.6 1915.7,545.8 1916.0,558.7 1916.4,546.2 1916.8,557.9 1917.1,544.2 1917.5,558.5 1917.8,546.0 1918.2,557.8 1918.6,546.3 1918.9,560.2 1919.3,545.7 1919.6,557.7 1920.0,540.9 1920.4,557.2 1920.7,532.6 1921.1,557.6 1921.4,545.0 1921.8,558.5 1922.2,544.7 1922.5,558.1 1922.9,547.3 1923.2,558.2 1923.6,546.5 1924.0,558.4 1924.3,547.3 1924.7,558.1 1925.0,544.6 1925.4,560.0 1925.8,545.0 1926.1,558.5 1926.5,543.1 1926.8,558.3 1927.2,546.4 1927.6,558.6 1927.9,547.8 1928.3,561.5 1928.6,547.6 1929.0,559.9 1929.4,549.4 1929.7,566.3 1930.1,551.4 1930.4,569.3 1930.8,549.9 1931.2,566.2 1931.5,553.3 1931.9,566.9 1932.2,556.8 1932.6,570.2 1933.0,555.4 1933.3,567.5 1933.7,552.7 1934.0,561.2 1934.4,547.7 1934.8,559.5 1935.1,545.3 1935.5,558.5 1935.8,545.1 1936.2,558.7 1936.6,546.1 1936.9,557.3 1937.3,546.2 1937.6,557.8 1938.0,544.6 1938.4,557.4 1938.7,546.1 1939.1,558.1 1939.4,545.9 1939.8,556.8 1940.2,545.4 1940.5,557.4 1940.9,541.1 1941.2,556.7 1941.6,546.6 1942.0,561.2 1942.3,546.2 1942.7,557.1 1943.0,543.3 1943.4,557.2 1943.8,546.3 1944.1,560.0 1944.5,543.9 1944.8,556.6 1945.2,545.1 1945.6,558.2 1945.9,545.6 1946.3,560.9 1946.6,546.3 1947.0,558.0 1947.4,540.2 1947.7,559.0 1948.1,545.8 1948.4,558.3 1948.8,545.7 1949.2,560.0 1949.5,547.2 1949.9,558.0 1950.2,540.7 1950.6,561.6 1951.0,547.1 1951.3,561.9 1951.7,544.7 1952.0,557.8 1952.4,547.0 1952.8,558.5 1953.1,547.0 1953.5,558.7 1953.8,543.4 1954.2,557.9 1954.6,546.5 1954.9,559.0 1955.3,542.9 1955.6,559.2 1956.0,545.6 1956.4,559.7 1956.7,547.2 1957.1,559.7 1957.4,546.1 1957.8,558.5 1958.2,546.5 1958.5,563.5 1958.9,545.9 1959.2,559.4 1959.6,544.6 1960.0,557.5 1960.3,544.6 1960.7,557.2 1961.0,545.8 1961.4,557.2 1961.8,546.6 1962.1,557.3 1962.5,545.8 1962.8,557.6 1963.2,546.1 1963.6,559.2 1963.9,546.3 1964.3,558.6 1964.6,544.5 1965.0,558.0 1965.4,545.5 1965.7,557.6 1966.1,543.0 1966.4,557.3 1966.8,544.2 1967.2,558.6 1967.5,546.0 1967.9,557.6 1968.2,539.2 1968.6,558.0 1969.0,541.8 1969.3,559.5 1969.7,544.1 1970.0,558.4 1970.4,546.2 1970.8,556.9 1971.1,544.4 1971.5,557.0 1971.8,543.5 1972.2,561.0 1972.6,544.4 1972.9,558.8 1973.3,544.9 1973.6,561.1 1974.0,546.7 1974.4,557.6 1974.7,546.5 1975.1,560.8 1975.4,545.3 1975.8,557.6 1976.2,545.9 1976.5,557.1 1976.9,545.7 1977.2,559.3 1977.6,546.4 1978.0,556.7 1978.3,543.7 1978.7,558.5 1979.0,545.6 1979.4,559.3 1979.8,546.1 1980.1,557.2 1980.5,546.6 1980.8,558.4 1981.2,546.3 1981.6,557.2 1981.9,544.6 1982.3,557.8 1982.6,545.4 1983.0,557.2 1983.4,546.7 1983.7,564.5 1984.1,536.9 1984.4,558.1 1984.8,546.7 1985.2,557.0 1985.5,544.9 1985.9,560.5 1986.2,545.9 1986.6,559.9 1987.0,542.0 1987.3,558.0 1987.7,545.8 1988.0,557.9 1988.4,545.3 1988.8,557.4 1989.1,542.3 1989.5,557.0 1989.8,543.0 1990.2,557.1 1990.6,545.4 1990.9,557.8 1991.3,546.1 1991.6,557.2 1992.0,545.3 1992.4,560.9 1992.7,542.5 1993.1,556.1 1993.4,544.0 1993.8,557.5 1994.2,543.7 1994.5,567.0 1994.9,543.7 1995.2,559.9 1995.6,546.4 1996.0,558.1 1996.3,545.8 1996.7,557.2 1997.0,546.4 1997.4,557.3 1997.8,545.0 1998.1,557.1 1998.5,545.7 1998.8,558.4 1999.2,546.7 1999.6,558.7 1999.9,546.7 2000.3,561.3 2000.6,545.8 2001.0,558.2 2001.4,544.1 2001.7,561.6 2002.1,547.7 2002.4,560.8 2002.8,547.9 2003.2,559.9 2003.5,543.6 2003.9,566.0 2004.2,549.0 2004.6,562.9 2005.0,549.6 2005.3,564.9 2005.7,549.7 2006.0,564.9 2006.4,550.4 2006.8,564.2 2007.1,550.7 2007.5,568.6 2007.8,553.7" fill="none" stroke="#2540d6" stroke-opacity="0.6" stroke-width="0.55"/>
<line x1="1892.6478717523494" y1="633.2" x2="1892.6478717523494" y2="551.7" stroke="#2540d6" stroke-opacity="0.6" stroke-width="0.9"/>
<line x1="2008.181315644002" y1="633.2" x2="2008.181315644002" y2="559.7" stroke="#2540d6" stroke-opacity="0.6" stroke-width="0.9"/>
<polygon points="2009.0,547.0 2009.5,546.3 2010.0,546.4 2010.5,546.1 2011.0,547.4 2011.5,547.5 2012.0,546.7 2012.5,546.4 2013.0,545.7 2013.5,545.0 2014.0,547.2 2014.5,546.8 2015.0,546.8 2015.5,546.2 2016.0,546.9 2016.5,546.1 2017.0,546.4 2017.5,546.1 2018.0,545.8 2018.5,544.8 2019.0,544.3 2019.5,544.8 2020.0,546.6 2020.5,544.5 2021.0,545.9 2021.5,545.6 2022.0,545.7 2022.0,556.2 2021.5,556.9 2021.0,558.7 2020.5,557.8 2020.0,557.5 2019.5,556.8 2019.0,556.7 2018.5,557.0 2018.0,558.7 2017.5,557.5 2017.0,558.7 2016.5,557.6 2016.0,557.0 2015.5,558.1 2015.0,558.5 2014.5,557.7 2014.0,559.2 2013.5,557.5 2013.0,557.8 2012.5,557.5 2012.0,558.2 2011.5,558.9 2011.0,557.4 2010.5,560.5 2010.0,559.6 2009.5,557.8 2009.0,559.5" fill="#2540d6"/>
<polyline points="2009.0,546.0 2009.4,558.1 2009.7,547.4 2010.1,561.2 2010.5,543.2 2010.8,557.9 2011.2,544.0 2011.5,561.2 2011.9,546.6 2012.3,559.8 2012.6,546.7 2013.0,560.6 2013.3,546.2 2013.7,564.3 2014.1,547.0 2014.4,557.7 2014.8,543.7 2015.1,558.7 2015.5,547.1 2015.9,557.5 2016.2,547.0 2016.6,561.5 2016.9,543.6 2017.3,558.8 2017.7,546.6 2018.0,561.0 2018.4,541.0 2018.7,556.6 2019.1,545.6 2019.5,558.3 2019.8,541.5 2020.2,557.7 2020.5,538.0 2020.9,556.7 2021.3,545.5 2021.6,564.9 2022.0,545.3 2022.3,556.3" fill="none" stroke="#2540d6" stroke-opacity="0.6" stroke-width="0.55"/>
<line x1="1744.0" y1="524.9" x2="1744.0" y2="634.2" stroke="#000" stroke-width="2.0"/>
<line x1="1743.0" y1="633.2" x2="2023" y2="633.2" stroke="#000" stroke-width="2.0"/>
<polygon points="2021.8,630.7 2028.2,633.2 2021.8,635.7" fill="#000"/>
<line x1="1740.0" y1="534.5" x2="1744.0" y2="534.5" stroke="#000" stroke-width="1.5"/>
<text x="1731.3" y="541.7" font-size="20.6" text-anchor="end">600</text>
<line x1="1740.0" y1="567.2" x2="1744.0" y2="567.2" stroke="#000" stroke-width="1.5"/>
<text x="1731.3" y="574.4000000000001" font-size="20.6" text-anchor="end">400</text>
<line x1="1740.0" y1="600" x2="1744.0" y2="600" stroke="#000" stroke-width="1.5"/>
<text x="1731.3" y="607.2" font-size="20.6" text-anchor="end">200</text>
<line x1="1790.4" y1="633.2" x2="1790.4" y2="637.4000000000001" stroke="#000" stroke-width="1.5"/>
<line x1="1882.9" y1="633.2" x2="1882.9" y2="637.4000000000001" stroke="#000" stroke-width="1.5"/>
<line x1="1975.5" y1="633.2" x2="1975.5" y2="637.4000000000001" stroke="#000" stroke-width="1.5"/>
<text x="1883.2" y="529.6" font-size="20.6" text-anchor="middle">Metabolite</text>
<text x="1791" y="659" font-size="20.8" text-anchor="middle">30</text>
<text x="1884" y="659" font-size="20.8" text-anchor="middle">90</text>
<text x="1976.4" y="659" font-size="20.8" text-anchor="middle">150</text>
<text x="1884.4" y="684.6" font-size="21" text-anchor="middle">Time (cell cycles)</text>
</svg>
</body></html>
